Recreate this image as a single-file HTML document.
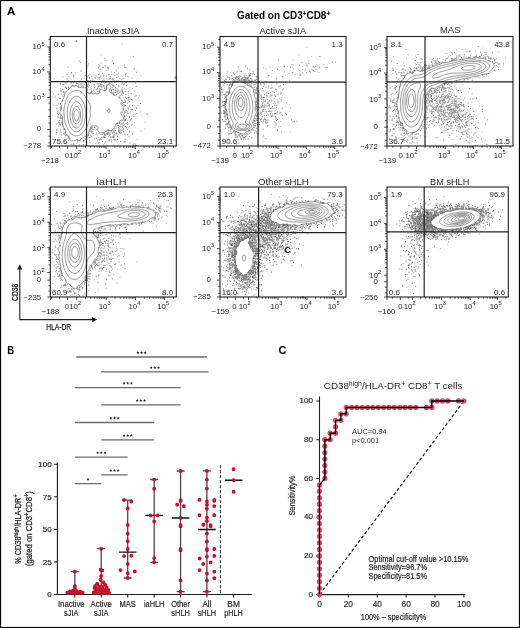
<!DOCTYPE html><html><head><meta charset="utf-8"><style>html,body{margin:0;padding:0;background:#fff}svg{display:block;will-change:transform}text{font-family:"Liberation Sans",sans-serif}</style></head><body>
<svg width="520" height="628" viewBox="0 0 520 628">
<rect x="0" y="0" width="520" height="628" fill="#fff"/>
<text x="6.9" y="14.7" font-size="11.2" font-weight="bold" textLength="8.3" lengthAdjust="spacingAndGlyphs" fill="#000">A</text>
<text x="236.9" y="19.2" font-size="10" font-weight="bold" fill="#000" textLength="93.3" lengthAdjust="spacingAndGlyphs">Gated on CD3<tspan dy="-3.6" font-size="6.5">+</tspan><tspan dy="3.6">CD8</tspan><tspan dy="-3.6" font-size="6.5">+</tspan></text>
<path d="M102.04 134.13h.9M83.02 141.04h.9M110.19 82.99h.9M98.51 132.94h.9M106.2 76.11h.9M73.46 143.73h.9M127.71 91.76h.9M66.53 79.19h.9M102.5 67.63h.9M72.4 85.53h.9M112.25 81.35h.9M111.15 131.19h.9M115.88 133.02h.9M104.1 137.57h.9M87.99 84.17h.9M135.08 110.34h.9M122.96 122.9h.9M61.68 118.57h.9M80.4 83.71h.9M60.75 91.09h.9M115.81 70.77h.9M140 103.56h.9M101.49 86.96h.9M76.47 83.53h.9M89.14 77.87h.9M59.34 120.47h.9M119.41 78.44h.9M107.63 130.33h.9M103.81 136.95h.9M110.77 90.07h.9M115.03 130.55h.9M124.99 101.23h.9M117.03 136.45h.9M98.34 85.04h.9M132.19 134.04h.9M92.22 133.8h.9M59.25 122.41h.9M60.04 83.79h.9M59.56 124.36h.9M101.36 137.22h.9M100.61 84.89h.9M54.71 97.16h.9M60.34 130.17h.9M115.19 87.61h.9M108.85 140.73h.9M119 122.99h.9M91.22 91.55h.9M124.07 116.01h.9M110.68 91.89h.9M63.33 131.13h.9M128.98 116.72h.9M125.4 94.57h.9M109.08 83.34h.9M66.09 88.42h.9M91.33 132.04h.9M111.05 81.61h.9M96.36 129.42h.9M136.31 108.51h.9M107.07 133.15h.9M127.88 109.78h.9M100.67 134.17h.9M113.8 75.18h.9M90.96 88.86h.9M124.51 111.16h.9M113.83 132.54h.9M108.84 82.25h.9M107.75 132.68h.9M59.96 98.52h.9M98.68 83.83h.9M128.52 97.56h.9M106.82 134.46h.9M127.36 113.45h.9M75.35 72.8h.9M78.26 85.3h.9M61.28 117.98h.9M133.38 116.41h.9M131.87 88.67h.9M60.09 108.79h.9M104.12 134.37h.9M118.36 130.05h.9M104.49 133.24h.9M111.11 90.32h.9M108.65 130.84h.9M123.81 65.13h.9M90.87 92.69h.9M94.32 138.81h.9M117.03 91.88h.9M110.76 139.93h.9M110.6 130.88h.9M114.4 82.47h.9M60.57 115.32h.9M120.3 141.47h.9M129.81 109.82h.9M135.72 86.4h.9M126.9 111.9h.9M78.47 140.56h.9M67.79 87.47h.9M55.89 130.11h.9M71.12 72.58h.9M82.95 144.62h.9M109.85 76.63h.9M81.48 86.41h.9M122.17 90.1h.9M62.34 89.3h.9M106.42 133.72h.9M122.22 123.94h.9M129.03 131.89h.9M84.64 82.69h.9M133.88 68.89h.9M100.15 83.9h.9M90.56 130.65h.9M63.44 92.63h.9M86.21 139.23h.9M103.54 80.97h.9M102.26 81.54h.9M132.27 133.08h.9M87.07 86.13h.9M113.75 140.85h.9M103.54 79.24h.9M68.37 140.58h.9M97.66 66.29h.9M122.4 103.7h.9M117.34 91.9h.9M130.23 120.19h.9M90.06 82.6h.9M103.38 86.05h.9M90.08 92.78h.9M65.69 87.38h.9M66.59 74.23h.9M91.04 76.91h.9M111.25 141.73h.9M98.97 77.99h.9M90.41 135.35h.9M112.76 84.05h.9M93.5 75.02h.9M104.47 88.17h.9M57.96 94.1h.9M65.59 83.93h.9M86.37 68.45h.9M90.93 90.78h.9M111.51 79.95h.9M61.03 122.39h.9M117.04 139.52h.9M112.31 93.07h.9M126.4 98.59h.9M105.3 82.41h.9M144.68 129.08h.9M125.29 97.18h.9M125.53 110.55h.9M64.72 87.66h.9M86.24 86.05h.9M56.83 113.18h.9M72.99 75.49h.9M123.14 92.86h.9M68.42 88.89h.9M63.44 94.84h.9M124.37 112.24h.9M99.46 86.41h.9M72.99 82.91h.9M130.48 119.33h.9M123.44 102.58h.9M128.1 108.03h.9M90.84 127.56h.9M124.98 73.97h.9M103.28 85.28h.9M103.85 90.55h.9M123.87 116.57h.9M97.53 86.86h.9M115.82 80.8h.9M127.49 100.03h.9M109.9 137.02h.9M60.75 134.83h.9M85.98 80.74h.9M59.05 123.86h.9M124.39 116.47h.9M126.85 122.46h.9M61.89 121.16h.9M126.17 123.36h.9M93.04 133.33h.9M97.6 77.81h.9M61.47 118.46h.9M110.55 89.88h.9M88.82 137.36h.9M103.18 75.34h.9M121.39 123.95h.9M87.93 87.11h.9M63.42 91.46h.9M115.07 140.04h.9M85.19 75.58h.9M118.49 131.78h.9M113.56 128.9h.9M94.37 127.65h.9M123.3 84.56h.9M120.29 133.42h.9M146.44 113.55h.9M118.92 132.28h.9M107.77 84.5h.9M89.34 74.79h.9M102.99 137.01h.9M131.3 99.5h.9M94.13 84.81h.9M113.02 89.35h.9M126.95 134.73h.9M62.94 133.28h.9M105.23 135.76h.9M129.28 117.43h.9M112.01 85.3h.9M81.62 85.79h.9M121.51 89.32h.9M132.81 56.36h.9M73.26 144.52h.9M98.44 74.49h.9M124.93 126.52h.9M83.27 86.48h.9M97.1 91.44h.9M89.79 80.36h.9M109.57 78.46h.9M88.28 135.61h.9M62.55 126.41h.9M114.94 90.3h.9M109.36 140.01h.9M125.5 112.38h.9M106.27 133.94h.9M90.2 129.03h.9M91.48 126.85h.9M74.91 81.55h.9M64.04 128.52h.9M104.13 135.54h.9M118.36 86.04h.9M104.55 65.77h.9M122.85 125.4h.9M117.72 80.98h.9M78.74 61.15h.9M124.69 139.26h.9M92.51 81.06h.9M113.54 90.81h.9M59.84 90.19h.9M58.44 114.57h.9M112.99 94.17h.9M124.3 88.85h.9M70.78 82.77h.9M136.22 72.35h.9M56.54 129.27h.9M109.52 78.26h.9M103.52 133.29h.9M104.02 88.15h.9M129.53 142.96h.9M118.78 122.97h.9M60.26 117.25h.9M124.65 91.65h.9M88.03 134.96h.9M83.71 84.46h.9M113.52 85.93h.9M114.47 129.13h.9M112.96 137.77h.9M84.97 82.68h.9M112.81 79.27h.9M59.94 124.76h.9M80.65 84.19h.9M98.17 67.81h.9M128.08 97.96h.9M64.72 82.88h.9M98.65 139.42h.9M121.9 82.85h.9M85.21 82.24h.9M95.97 138.14h.9M118.33 130.97h.9M120.66 132.57h.9M113.06 63.62h.9M106.19 86.53h.9M112.17 78.86h.9M59.68 107.31h.9M59.93 103.69h.9M126.05 127.84h.9M114.15 72.61h.9M102.22 73.6h.9M135.53 95.63h.9M125.09 105.33h.9M67.66 138.68h.9M125.95 85.77h.9M101.96 80.2h.9M71.55 84.99h.9M84.99 139.23h.9M99.9 138.98h.9M129.47 99.64h.9M124.59 102.29h.9M115.11 92.41h.9M114.66 130.4h.9M58.28 122.18h.9M128.66 136.77h.9M132.91 114.95h.9M94.05 87.65h.9M86.72 136.9h.9M67.81 137.24h.9M97.99 86.37h.9M113.22 81.07h.9M132.04 109.55h.9M131.91 105.56h.9M60.45 123.17h.9M111.17 92.09h.9M102.02 141.43h.9M96.98 83.71h.9M78.51 86.6h.9M117.33 90.07h.9M57.25 111.79h.9M116.81 123.47h.9M114.68 92.37h.9M103.88 81.09h.9M127.16 124.31h.9M83.29 140.56h.9M101.18 82.34h.9M56.32 132.57h.9M95.81 89.61h.9M63.28 84.26h.9M128.95 101.73h.9M106.49 78.91h.9M100.38 76.28h.9M90.29 129.26h.9M86.78 80.56h.9M119.28 132.38h.9M81.1 79.02h.9M80.24 140.93h.9M108.25 130.19h.9M57.51 116.42h.9M123.56 121.03h.9M124.41 134.59h.9M123.95 141.95h.9M76.18 83.03h.9M56.49 108.84h.9M87.83 75.75h.9M98.65 142.5h.9M108.13 74.64h.9M67.59 66.96h.9M106.42 87.75h.9M64.9 135.7h.9M113.57 139.29h.9M112.14 87.86h.9M119.81 124.9h.9M113.42 86.09h.9M95.52 76.08h.9M127.67 97.5h.9M63.59 134.67h.9M125.18 74.66h.9M129.1 131.2h.9M115.59 133.84h.9M116.13 84.7h.9M87.5 80.43h.9M62.58 96.52h.9M100.83 85.94h.9M97.08 88.65h.9M119.39 122.64h.9M129.4 120.93h.9M91.3 128.43h.9M83.44 140.36h.9M123.73 132.98h.9M77.2 141.96h.9M59.87 117.92h.9M87.25 86.3h.9M61.2 101.42h.9M116.3 77.61h.9M93.87 127.56h.9M131.68 124.37h.9M100.14 84.51h.9M136.36 113.45h.9M117.74 125.5h.9M77.47 139.81h.9M59.02 98.42h.9M105.12 82.63h.9M62.13 124.57h.9M119.32 130.8h.9M113.95 94.97h.9M125.07 141.82h.9M62.26 84.29h.9M63.93 129.39h.9M68.18 80.9h.9" stroke="#6a6a6a" stroke-width=".9" fill="none"/>
<path d="M124.53 120.65h.9M97.36 84.75h.9M103.55 136.2h.9M82.81 144.88h.9M113.12 73.93h.9M81.76 84.93h.9M124.01 100.06h.9M110.55 137.39h.9M89.68 131.05h.9M92.02 129.27h.9M131.07 109.95h.9M116.58 133.47h.9M71.11 81.63h.9M134.73 114.04h.9M62.86 129.1h.9M113.41 94.31h.9M101.91 73.14h.9M99.22 90.08h.9M89.01 140.28h.9M144.71 122.09h.9M99.29 85.42h.9M66.08 135.66h.9M90.99 131.52h.9M113.24 93.42h.9M113.01 131.34h.9M121.91 112.5h.9M87.96 83.13h.9M105 60.75h.9M112.12 60.64h.9M74.27 81.09h.9M53.1 93.84h.9M116.67 88.67h.9M123.03 131.57h.9M127.61 119.85h.9M64.59 132.56h.9M103.65 86.05h.9M97.42 90.96h.9M114.35 80.83h.9M105.29 142.03h.9M64.71 132.23h.9M126.98 103.44h.9M62.07 117.9h.9M89.04 131.78h.9M71.27 144.44h.9M117.81 67.7h.9M89.87 81.66h.9M98.98 73h.9M122.79 102.12h.9M108.26 83.88h.9M123.41 115.52h.9M95.4 78.12h.9M60.82 132.08h.9M100.41 54.84h.9M91.69 131.61h.9M125.59 115.37h.9M130.99 118.37h.9M123.21 109.11h.9M113.27 92.2h.9M104.88 134.42h.9M79.74 80.39h.9M124.28 119.39h.9M125.34 123.99h.9M60.56 131.68h.9M93.21 92.47h.9M60.51 116.41h.9M122.7 81.8h.9M115.53 95.21h.9M97.79 137.62h.9M131.25 125.35h.9M68.02 87.23h.9M121.67 124.11h.9M122.5 126.73h.9M56.41 108.07h.9M81.71 83.62h.9M133.79 91.02h.9M140.44 111.98h.9M123.34 78.17h.9M98.25 64.57h.9M103.39 134.03h.9M102.99 132.29h.9M66.83 135.26h.9M128.02 127.92h.9M95.64 134.4h.9M119.27 131.24h.9M111.88 84.86h.9M105.12 137.36h.9M55.65 134.77h.9M68.52 136.15h.9M128.69 126.7h.9M135.25 99.78h.9M61.8 122.57h.9M83.12 85.93h.9M97.29 140.27h.9M96.38 132.87h.9M108.49 79.54h.9M104.86 89.68h.9M112.59 85.7h.9M111.85 133.11h.9M103.97 83.13h.9M112.5 137.07h.9M60.19 106.63h.9M96.49 129.86h.9M92.74 131.1h.9M112.2 89.49h.9M97.09 93.02h.9M69.11 138.37h.9M62.06 123.1h.9M118.14 76.04h.9M123.64 141.59h.9M107.39 142.16h.9M52.7 105.06h.9M60.93 108.75h.9M115.02 90.03h.9M114.38 135.23h.9M108.11 136.41h.9M137.68 105.71h.9M95.25 125.96h.9M111.9 78.78h.9M74.68 85.71h.9M72.83 76.88h.9M88.06 92.83h.9M127.15 129.2h.9M121.76 103.67h.9M61.11 94.91h.9M58.07 126.1h.9M90.3 92.75h.9M83.61 78.14h.9M106.5 82.98h.9M62.5 100.77h.9M116.44 128.23h.9M90.9 131.09h.9M101.81 134.46h.9M120.25 130.76h.9M124.2 67.39h.9M97.37 89.35h.9M124.57 126.47h.9M119.46 90.63h.9M81.94 140h.9M99.02 88.54h.9M136.64 139.52h.9M105.92 85.9h.9M67.16 135.88h.9M97.24 134.98h.9M105.81 70.31h.9M128.78 106.44h.9M125.46 67.53h.9M117.85 86.04h.9M118.18 73.13h.9M69.76 144.64h.9M84.31 76.26h.9M90.86 92.39h.9M124.94 76.11h.9M147.5 114.75h.9M90.95 86.33h.9M112.48 132.45h.9M125.4 118.74h.9M57.28 110.24h.9M131.03 109.1h.9M101.38 87.11h.9M95.09 77.36h.9M140.51 75.46h.9M87.01 84.04h.9M132.02 100.24h.9M99.76 69.34h.9M122.16 95.23h.9M130.85 93.48h.9M104.08 143.25h.9M101.99 81.01h.9M80.1 62.6h.9M108.62 139.81h.9M113.3 135.67h.9M89.66 142.54h.9M93.84 81.26h.9M93.98 86.84h.9M96.47 89.12h.9M87.54 65.88h.9M84.36 84.18h.9M123.91 113.21h.9M106.97 134.34h.9M91.16 132.83h.9M68.31 76.28h.9M92.39 79.96h.9M93.04 90.2h.9M86.15 79.33h.9M129.07 105.39h.9M98.82 79.45h.9M123.97 120.64h.9M84.69 138.33h.9M120.89 122.2h.9M65.21 91.74h.9M103.23 76.34h.9M134.56 96.23h.9M108.41 81.67h.9M105.82 88.33h.9M74.71 84.73h.9M76.97 140.51h.9M91.48 136.81h.9M128.2 95.64h.9M127.63 76.56h.9M105.22 88.05h.9M121.2 43.86h.9M89.76 131.41h.9M113.96 139.41h.9M122.71 93.27h.9M113.41 131.53h.9M70.56 87.17h.9M116.27 90.96h.9M101.2 81.89h.9M86.37 137.53h.9M60.84 117.44h.9M113.89 136.72h.9M59.45 132.7h.9M93.44 84.45h.9M70.14 140.72h.9M101.08 139.95h.9M120.81 79.67h.9M123.07 114.21h.9M69.37 77.92h.9M92.78 129.12h.9M64.32 93.21h.9M59.81 110.12h.9M123.74 116.13h.9M95.44 143.31h.9M87.05 77.05h.9M118.56 128.96h.9M109.28 135.92h.9M58.24 117.6h.9M99.87 89.23h.9M90.88 92.1h.9M103.86 58.47h.9M122.1 78.88h.9M112.23 130.23h.9M128.17 100.27h.9M125.49 82.12h.9M98.53 134.01h.9M88.52 137.27h.9M102.46 137.33h.9M117.06 136.18h.9M127.87 123.8h.9M110.53 136.43h.9M56.66 123.35h.9M104.64 141.93h.9M61.11 122.69h.9M125.35 110.62h.9M138.3 98.85h.9M131.26 78.02h.9M88.79 85.49h.9M114.37 130.58h.9M106.97 133.79h.9M135.13 83.22h.9M99.65 71.23h.9M94.84 92.96h.9M77.52 83.56h.9M124.16 83.84h.9M90.21 137.02h.9M118.43 123.62h.9M113.72 134.57h.9M128.98 87.96h.9M58.31 103.81h.9M105.95 144.46h.9M97.68 91.24h.9M87 80.93h.9M106.52 84.51h.9M87.88 81.15h.9M115.44 135.51h.9M126.08 73.63h.9M114.7 86.04h.9M134.17 122.26h.9M89.7 89.31h.9M79.66 84.29h.9M114.44 133.69h.9M121.98 105.2h.9M127.74 102.62h.9M106.99 132.54h.9M56.63 105.43h.9M100.69 138.7h.9M129.41 105.69h.9M121.34 114.32h.9M90.96 136.73h.9M138.97 95.92h.9M64.14 133.8h.9M113.17 144.97h.9M101.72 87.8h.9M99.26 65.95h.9M56.15 133.31h.9M101.47 84.29h.9M79.11 144.61h.9M124.66 119.98h.9M98.51 87.03h.9M108.57 131.62h.9M95.46 90.18h.9M140.87 130.87h.9M106.01 131.51h.9M122.32 87.74h.9M66.45 78.85h.9M90.34 80.48h.9M58.42 120.94h.9M93.68 88.82h.9M53.73 78.85h.9M60.4 106.09h.9M116.59 74.55h.9M93.64 129.68h.9M140.81 115.14h.9M98.01 143.75h.9M125.92 118.7h.9M110.71 84.48h.9M61.74 96.24h.9M113.23 92.36h.9M65.15 86.89h.9M118.39 86.34h.9M62.44 77.01h.9M110.33 132.95h.9M88.09 63.9h.9M82.99 82.04h.9M127.26 108.04h.9M60.84 93.41h.9M91.33 127.41h.9M100.73 139.49h.9M87.82 84.67h.9M118.31 80.29h.9M102.91 144.7h.9M132.12 105.65h.9M137.93 97.58h.9M68.3 136.75h.9M62.72 128.24h.9M110.66 89.43h.9M78.04 86.78h.9M100.6 62.84h.9M62.8 81.17h.9M62.2 123.97h.9M119.15 97.6h.9M115.85 141.17h.9M64.41 141.39h.9M55.8 124.6h.9M60.04 118.3h.9M109.31 74.48h.9M87.17 80.52h.9M88.6 133.09h.9M71.29 73.66h.9M73.55 76.04h.9M61.14 137.77h.9M115.67 126.19h.9M120.5 132.16h.9M94.72 78.32h.9M119.32 133.44h.9M99.06 139.9h.9M99.67 138.42h.9M68.39 137.59h.9M128.23 93.72h.9M126.1 82.49h.9M94.48 77.31h.9M123.94 124.64h.9M115.57 91.99h.9M99.53 92.67h.9M117.95 90.81h.9M116.05 133.36h.9M112.79 133.04h.9M112.86 130.24h.9M123.75 118.1h.9M135.64 107.89h.9M114.52 88.79h.9M85.69 55.91h.9M110.99 71.88h.9M124.58 102.62h.9M99.71 69.35h.9M75.81 143.18h.9M124.3 117.48h.9M130.05 111.69h.9M110.89 74.31h.9M107.13 80.2h.9M105.3 90.11h.9M60.07 88.84h.9M99.33 77.25h.9M91.88 127.7h.9M119.86 120.79h.9" stroke="#9a9a9a" stroke-width=".9" fill="none"/>
<path d="M76.8 41.66 76.18 41.5 76.3 40.67 76.86 41 76.8 41.66ZM108.8 68.51 108.02 68.5 107.3 68.02 107.25 67.5 107.8 67.23 108.8 67.45 109.22 68 108.8 68.51ZM81.3 71.19 80.75 71 81.3 70.86 81.3 71.19ZM176.3 78.4 175.3 78.3 174.65 78 174.8 77.05 175.3 76.85 176.3 76.68ZM79.8 140.53 78.8 140.55 78.34 140 77.84 139.5 77.3 139.32 76.45 139.5 75.88 140 75.32 140.5 74.8 140.74 73.8 140.84 72.8 140.75 71.8 140.71 70.8 140.61 70.3 140.37 69.8 139.75 69.57 139 69.36 138 69.25 137.5 68.92 136.5 68.6 136 68.07 135.5 67.3 135.08 66.8 134.95 65.8 134.61 65.34 134 65.25 133.5 65.32 133 65.7 132 65.81 131.5 65.78 131 65.33 130 64.97 129.5 64.61 129 64.27 128.5 63.8 127.7 63.4 127 63.11 126.5 62.8 125.86 62.62 125 62.68 124 62.68 123 62.51 122 62.31 121 62.27 120.5 62.31 120 62.55 119 62.74 118 62.69 117 62.33 116 61.87 115.5 61.3 115.15 60.8 114.92 60.05 114.5 59.68 114 59.63 113 59.8 112.42 60.19 111.5 60.41 111 60.79 110 60.97 109.5 61.3 108.56 61.46 108 61.61 107 61.52 106 61.3 105.43 60.8 104.69 60.43 104 60.69 103 61.23 102.5 61.75 102 62.12 101.5 62.4 101 62.8 100.13 63.05 99.5 63.3 98.91 63.73 98 63.98 97.5 64.3 96.77 64.55 96 64.73 95 64.81 94.5 65.11 93.5 65.41 93 65.83 92.5 66.3 91.94 66.8 91.23 67.3 90.53 67.75 90 68.21 89.5 68.72 89 69.28 88.5 69.8 88.05 70.3 87.58 70.8 87.05 71.3 86.56 71.8 86.31 72.8 86.27 73.8 86.16 74.31 86 75.3 85.61 75.8 85.5 76.3 85.58 76.8 86.04 77.3 86.62 77.8 87.06 78.8 87.41 79.8 87.43 80.8 87.48 81.3 87.55 82.3 87.68 83.3 87.76 84.3 87.77 85.3 87.56 85.8 87.44 86.31 87.5 86.84 88 87.07 89 86.9 90 86.89 91 87.26 92 87.55 92.5 87.9 93 88.55 93.5 89.3 93.63 89.91 93.5 90.8 93.26 91.8 93.24 92.63 93.5 93.3 93.85 94.3 93.84 94.8 93.42 95.8 93.2 96.3 93.78 96.8 94.12 97.8 94.11 98.3 93.92 99.16 93.5 99.67 93 99.44 92 99.41 91 99.8 90.14 100.3 89.72 101.3 89.58 102.3 89.86 102.8 90.14 103.31 90.5 104.3 90.99 105.3 90.72 105.8 90.38 106.3 89.84 106.63 89 106.58 88 106.52 87 106.73 86 107.09 85.5 107.8 85.09 108.3 84.97 109.3 84.99 109.8 85.15 110.32 85.5 110.8 86.4 110.95 87 110.85 88 110.53 88.5 110.06 89 109.66 89.5 109.42 90.5 109.76 91.5 110.08 92 110.5 92.5 111.05 93 111.7 93.5 112.3 93.97 112.8 94.39 113.3 94.78 113.8 95.07 114.8 95.21 115.56 95 116.3 94.53 116.8 94.1 117.3 93.8 117.89 93.5 118.74 93 119.3 92.54 119.8 92.06 120.3 91.58 120.8 91.16 121.3 90.85 122.3 90.85 122.56 91.5 122.5 92.5 122.3 93.22 121.99 94 121.76 94.5 121.3 95.16 120.8 95.64 119.99 96 119.3 96.06 118.72 96.5 118.87 97 119.3 97.62 119.8 98.21 120.3 98.77 120.8 99.26 121.3 99.7 121.8 100.15 122.23 101 121.8 101.94 121.38 102.5 121.06 103 120.95 104 121.3 104.74 121.8 105.22 122.77 105.5 122.81 105.5 123.71 105 124.3 104.63 125.15 105 124.8 105.93 124.3 106.23 123.65 106.5 123.14 107 122.99 108 123.27 109 123.08 110 122.8 110.52 122.3 111.23 121.8 111.81 121.3 112.37 120.97 113 120.94 114 121.3 114.82 121.8 115.29 122.3 115.66 122.8 116.18 123.14 117 123.28 118 123.33 118.5 123.39 119.5 123.22 120 122.3 120.43 121.3 120.26 120.3 120.34 119.8 120.94 119.39 121.5 118.89 122 118.3 122.43 117.8 122.69 117.14 123 116.58 123.5 116.23 124 115.8 124.78 115.4 125.5 115.1 126 114.79 126.5 114.3 127.3 113.93 128 113.68 128.5 113.3 129.05 112.8 129.55 112.18 130 111.31 130.5 110.8 130.71 109.8 130.57 109.3 130.18 108.8 129.87 107.8 129.89 107.3 130.12 106.72 130.5 106.14 131 105.64 131.5 105.12 132 104.39 132.5 103.8 132.6 102.91 132.5 102.5 132.5 101.8 132.55 100.8 132.62 99.8 132.51 99.3 132.32 98.8 131.99 98.3 131.46 97.8 130.59 97.63 130 97.71 129 97.89 128.5 98.25 127.5 97.82 126.5 97.3 126.21 96.8 125.99 95.8 125.85 94.83 126 94.3 126.08 93.3 126.03 92.8 125.93 91.8 125.93 91.3 126.2 90.8 126.82 90.47 127.5 90.24 128 89.8 128.97 89.56 129.5 89.3 130.2 89.03 131 88.8 131.72 88.57 132.5 88.31 133.5 88.15 134 87.8 134.87 87.42 135.5 86.8 135.99 86.3 136.09 85.3 136.44 84.8 136.73 84.3 137.1 83.73 137.5 82.8 137.92 82.3 138.11 81.59 138.5 80.96 139 80.52 139.5 80.19 140 79.8 140.53ZM125.8 120.47 124.98 120 125.75 119.5 125.84 119.5 125.8 120.47ZM122.3 130.04 121.3 130.1 120.8 129.79 120.3 129.44 119.59 129 118.83 128.5 118.42 128 118.72 127 119.3 126.57 119.8 126.5 120.3 126.61 121.3 126.98 121.8 127.17 122.77 127.5 123.3 127.94 123.6 128.5 123.44 129.5 122.8 129.86 122.3 130.04ZM109.8 135.07 108.93 135 108.3 134.65 107.92 134 108.3 133.33 109.3 133.07 109.82 133.5 110.11 134.5 109.8 135.07ZM113.8 137.78 113.01 137.5 112.61 137 112.8 136.21 113.42 136.5 113.8 137 113.8 137.78ZM133.2 146 133.1 145 133.24 144 133.8 143.79 134.8 143.99 135.3 144.21 135.86 144.5 136.46 145 136.83 145.5ZM78.3 135.63 77.3 135.82 76.3 135.87 75.3 135.8 74.3 135.57 73.8 135.41 72.91 135 72.3 134.65 71.8 134.32 71.3 133.94 70.77 133.5 70.26 133 69.8 132.46 69.3 131.78 68.81 131 68.51 130.5 68.22 130 67.8 129.27 67.38 128.5 67.11 128 66.8 127.35 66.42 126.5 66.22 126 65.84 125 65.64 124.5 65.3 123.55 65.13 123 64.87 122 64.77 121.5 64.65 120.5 64.57 119.5 64.51 118.5 64.44 117.5 64.36 116.5 64.3 115.94 64.18 115 64.03 114 63.9 113 63.83 112 63.82 111 63.88 110 64.02 109 64.19 108 64.3 107.35 64.44 106.5 64.62 105.5 64.8 104.62 64.95 104 65.24 103 65.39 102.5 65.66 101.5 65.81 101 66.11 100 66.3 99.45 66.7 98.5 66.93 98 67.3 97.22 67.64 96.5 67.88 96 68.3 95.26 68.8 94.57 69.28 94 69.74 93.5 70.23 93 70.77 92.5 71.3 92.07 71.8 91.74 72.3 91.47 73.3 91.07 73.8 90.91 74.8 90.65 75.75 90.5 76.3 90.47 77.19 90.5 77.8 90.57 78.8 90.79 79.44 91 80.3 91.36 80.8 91.61 81.47 92 82.1 92.5 82.59 93 83.02 93.5 83.43 94 83.83 94.5 84.3 95.1 84.8 95.8 85.24 96.5 85.54 97 85.83 97.5 86.3 98.25 86.8 98.92 87.28 99.5 87.66 100 87.97 100.5 88.3 101.16 88.72 102 89.03 102.5 89.39 103 89.8 103.63 90.16 104.5 90.3 105.18 90.43 106 90.54 107 90.5 108 90.37 109 90.3 109.84 90.27 110.5 90.27 111.5 90.28 112.5 90.3 113.13 90.31 114 90.29 114.5 90.19 115.5 90.02 116.5 89.8 117.46 89.68 118 89.43 119 89.3 119.5 89.06 120.5 88.8 121.42 88.62 122 88.3 122.92 88.1 123.5 87.8 124.32 87.55 125 87.3 125.68 86.99 126.5 86.78 127 86.31 128 86.04 128.5 85.75 129 85.3 129.69 84.8 130.4 84.34 131 83.93 131.5 83.49 132 83.02 132.5 82.51 133 81.96 133.5 81.37 134 80.8 134.44 80.3 134.78 79.8 135.06 78.8 135.48 78.3 135.63ZM109.3 112.11 108.3 112.27 107.76 112 107.3 111.3 107.3 110.74 107.65 110 108.19 109.5 108.8 109.22 109.8 109.34 110.08 110 109.93 111 109.74 111.5 109.3 112.11ZM77.8 131.7 76.8 131.9 75.8 131.88 74.8 131.61 74.3 131.38 73.67 131 73.02 130.5 72.49 130 72.03 129.5 71.62 129 71.26 128.5 70.8 127.79 70.35 127 70.08 126.5 69.8 125.9 69.41 125 69.21 124.5 68.86 123.5 68.69 123 68.4 122 68.27 121.5 68.03 120.5 67.84 119.5 67.75 119 67.59 118 67.47 117 67.39 116 67.33 115 67.3 114 67.3 113.5 67.3 113 67.33 112 67.39 111 67.48 110 67.6 109 67.77 108 67.86 107.5 68.07 106.5 68.3 105.64 68.48 105 68.8 104.02 68.99 103.5 69.3 102.73 69.62 102 69.88 101.5 70.3 100.73 70.76 100 71.11 99.5 71.51 99 71.95 98.5 72.46 98 73.07 97.5 73.8 97.02 74.3 96.77 75.09 96.5 75.8 96.35 76.8 96.34 77.63 96.5 78.3 96.72 78.87 97 79.66 97.5 80.28 98 80.8 98.5 81.25 99 81.65 99.5 82.01 100 82.34 100.5 82.8 101.28 83.18 102 83.42 102.5 83.8 103.4 84.04 104 84.3 104.77 84.53 105.5 84.8 106.5 84.92 107 85.13 108 85.29 109 85.37 109.5 85.49 110.5 85.57 111.5 85.62 112.5 85.63 113.5 85.61 114.5 85.56 115.5 85.48 116.5 85.37 117.5 85.29 118 85.15 119 84.95 120 84.8 120.65 84.6 121.5 84.32 122.5 84.17 123 83.82 124 83.64 124.5 83.3 125.33 83.01 126 82.76 126.5 82.3 127.35 81.92 128 81.59 128.5 81.22 129 80.8 129.51 80.3 130.06 79.8 130.52 79.17 131 78.3 131.5 77.8 131.7ZM77.8 127.65 76.8 127.94 75.8 127.89 74.84 127.5 74.3 127.14 73.8 126.7 73.3 126.14 72.84 125.5 72.52 125 72.25 124.5 71.8 123.55 71.57 123 71.3 122.21 71.07 121.5 70.82 120.5 70.7 120 70.51 119 70.37 118 70.3 117.27 70.23 116.5 70.18 115.5 70.17 114.5 70.2 113.5 70.27 112.5 70.31 112 70.43 111 70.59 110 70.8 109.07 70.94 108.5 71.23 107.5 71.4 107 71.8 106.02 72.04 105.5 72.3 105 72.8 104.19 73.3 103.53 73.8 103 74.3 102.57 74.8 102.24 75.34 102 76.3 101.8 77.3 101.92 77.8 102.11 78.46 102.5 79.07 103 79.54 103.5 79.93 104 80.3 104.55 80.8 105.44 81.07 106 81.3 106.56 81.64 107.5 81.8 108.02 82.07 109 82.28 110 82.37 110.5 82.53 111.5 82.63 112.5 82.69 113.5 82.72 114.5 82.71 115.5 82.67 116.5 82.59 117.5 82.46 118.5 82.3 119.45 82.2 120 81.97 121 81.8 121.59 81.52 122.5 81.3 123.08 80.91 124 80.67 124.5 80.3 125.15 79.8 125.9 79.3 126.5 78.8 126.99 78.3 127.37 77.8 127.65ZM77.3 123.77 76.3 123.94 75.3 123.58 74.8 123.18 74.3 122.61 73.9 122 73.63 121.5 73.3 120.73 73.04 120 72.8 119.09 72.67 118.5 72.51 117.5 72.41 116.5 72.36 115.5 72.37 114.5 72.43 113.5 72.55 112.5 72.74 111.5 72.86 111 73.16 110 73.34 109.5 73.8 108.53 74.13 108 74.51 107.5 75.04 107 75.8 106.55 76.3 106.45 76.91 106.5 77.8 106.91 78.3 107.35 78.8 107.98 79.12 108.5 79.38 109 79.78 110 79.94 110.5 80.2 111.5 80.3 112 80.46 113 80.55 114 80.59 115 80.57 116 80.5 117 80.36 118 80.28 118.5 80.05 119.5 79.8 120.32 79.54 121 79.3 121.54 78.8 122.41 78.33 123 77.8 123.48 77.3 123.77ZM77.3 120.53 76.3 120.8 75.65 120.5 75.15 120 74.8 119.48 74.39 118.5 74.24 118 74.03 117 73.93 116 73.91 115 73.98 114 74.14 113 74.3 112.34 74.61 111.5 74.86 111 75.3 110.38 75.8 109.96 76.8 109.81 77.3 110.05 77.8 110.54 78.3 111.38 78.54 112 78.8 112.88 78.92 113.5 79.03 114.5 79.05 115.5 78.99 116.5 78.84 117.5 78.72 118 78.39 119 78.14 119.5 77.8 120.04 77.3 120.53Z" stroke="#6a6a6a" stroke-width="0.7" fill="none" stroke-linejoin="round"/>
<rect x="50.3" y="36.5" width="126" height="109.5" fill="none" stroke="#231f20" stroke-width="1.1"/>
<line x1="86.5" y1="36.5" x2="86.5" y2="146" stroke="#231f20" stroke-width="1.2"/>
<line x1="50.3" y1="81.7" x2="176.3" y2="81.7" stroke="#231f20" stroke-width="1.2"/>
<path d="M50.3 97.5h-3.0M50.3 89.9h-1.8M50.3 85.45h-1.8M50.3 82.3h-1.8M50.3 79.85h-1.8M50.3 77.85h-1.8M50.3 76.16h-1.8M50.3 74.7h-1.8M50.3 73.41h-1.8M50.3 72h-3.0M50.3 64.4h-1.8M50.3 59.95h-1.8M50.3 56.8h-1.8M50.3 54.35h-1.8M50.3 52.35h-1.8M50.3 50.66h-1.8M50.3 49.2h-1.8M50.3 47.91h-1.8M50.3 47h-3.0M50.3 39.4h-1.8M50.3 129.6h-3.0M50.3 136.2h-1.8M50.3 142.8h-1.8M50.3 123h-1.8M50.3 116.4h-1.8M50.3 109.8h-1.8M50.3 103.2h-1.8M50.3 146h-3.0M76.7 146v3.0M85.52 146v1.8M90.68 146v1.8M94.34 146v1.8M97.18 146v1.8M99.5 146v1.8M101.46 146v1.8M103.16 146v1.8M104.66 146v1.8M106 146v3.0M114.82 146v1.8M119.98 146v1.8M123.64 146v1.8M126.48 146v1.8M128.8 146v1.8M130.76 146v1.8M132.46 146v1.8M133.96 146v1.8M135.3 146v3.0M144.12 146v1.8M149.28 146v1.8M152.94 146v1.8M155.78 146v1.8M158.1 146v1.8M160.06 146v1.8M161.76 146v1.8M163.26 146v1.8M164.6 146v3.0M173.42 146v1.8M67.5 146v3.0M59.5 146v1.8M51.5 146v1.8M50.3 146v3.0" stroke="#231f20" stroke-width=".8" fill="none"/>
<text x="41.1" y="49.21" font-size="7.8" text-anchor="end" fill="#231f20">10</text>
<text x="41.4" y="46.01" font-size="5.62" fill="#231f20">5</text>
<text x="41.1" y="73.71" font-size="7.8" text-anchor="end" fill="#231f20">10</text>
<text x="41.4" y="70.51" font-size="5.62" fill="#231f20">4</text>
<text x="41.1" y="99.81" font-size="7.8" text-anchor="end" fill="#231f20">10</text>
<text x="41.4" y="96.61" font-size="5.62" fill="#231f20">3</text>
<text x="41.1" y="131.21" font-size="7.8" text-anchor="end" fill="#231f20">0</text>
<text x="41.1" y="148.21" font-size="7.8" text-anchor="end" fill="#231f20">−278</text>
<text x="67" y="157.6" font-size="7.8" text-anchor="middle" fill="#231f20">0</text>
<text x="75.1" y="157.6" font-size="7.8" text-anchor="middle" fill="#231f20">10<tspan dy="-3.2" font-size="5.62">2</tspan></text>
<text x="104.4" y="157.6" font-size="7.8" text-anchor="middle" fill="#231f20">10<tspan dy="-3.2" font-size="5.62">3</tspan></text>
<text x="134" y="157.6" font-size="7.8" text-anchor="middle" fill="#231f20">10<tspan dy="-3.2" font-size="5.62">4</tspan></text>
<text x="163" y="157.6" font-size="7.8" text-anchor="middle" fill="#231f20">10<tspan dy="-3.2" font-size="5.62">5</tspan></text>
<text x="50.1" y="163.4" font-size="7.8" text-anchor="middle" fill="#231f20">−218</text>
<text x="54.1" y="46.9" font-size="7.9" fill="#231f20">0.6</text>
<text x="172.9" y="46.9" font-size="7.9" text-anchor="end" fill="#231f20">0.7</text>
<text x="52.1" y="144" font-size="7.9" fill="#231f20">75.6</text>
<text x="173.1" y="144" font-size="7.9" text-anchor="end" fill="#231f20">23.1</text>
<text x="87" y="33.7" font-size="9.6" textLength="52.5" lengthAdjust="spacingAndGlyphs" fill="#231f20">Inactive sJIA</text>
<path d="M265.14 101.3h.9M256.54 116.33h.9M270.89 95.41h.9M223.84 83.37h.9M226.72 95.9h.9M249.41 81.75h.9M238.16 139.77h.9M256.4 128.44h.9M266.27 93.81h.9M223.48 121.54h.9M225.43 97.35h.9M227.07 124.78h.9M226.65 114.7h.9M282.23 76.46h.9M223.93 101.4h.9M227.55 118.38h.9M234.13 81.24h.9M221.1 87.77h.9M241.82 135.67h.9M245.15 82.6h.9M250.28 78.3h.9M232.16 78.44h.9M267.54 119.88h.9M244.1 79.76h.9M261.8 111.7h.9M246.52 81.18h.9M262.61 129.13h.9M245.32 65.97h.9M246.85 78.64h.9M234.07 80.83h.9M276.14 120.42h.9M234.42 79.85h.9M227.75 92.04h.9M238.33 78.41h.9M229.68 125.53h.9M232.95 73.21h.9M257.32 100.87h.9M299.61 75.48h.9M238.58 135.31h.9M235.56 77.45h.9M265.4 122.53h.9M263.85 107.27h.9M283.95 66.71h.9M263.04 86.32h.9M258.12 126.82h.9M253.6 87.57h.9M235.69 137.15h.9M291.01 119.9h.9M242.5 77.56h.9M227.11 115.01h.9M244.66 75.08h.9M224.09 111.68h.9M270.25 113.87h.9M280.9 101.01h.9M229.12 85.29h.9M224.55 117.73h.9M239.3 134.79h.9M255.84 108.07h.9M275.13 113.66h.9M231.42 86.01h.9M240.63 138.7h.9M260.49 112.34h.9M228.99 91.76h.9M255.89 101.8h.9M235.82 76.53h.9M256.87 97.44h.9M241.02 71.59h.9M250.02 73.8h.9M223.98 113.03h.9M259.65 84.49h.9M283.33 66.23h.9M276.04 107.21h.9M262.33 88.59h.9M275.31 96.45h.9M282.28 89.92h.9M244.85 78.87h.9M260.82 96.15h.9M245.36 136.44h.9M225 101.71h.9M223.28 85.8h.9M256.15 79.32h.9M274.42 108.04h.9M224.98 93.99h.9M271.24 88.06h.9M293.79 121.42h.9M273.77 113.68h.9M245.31 83.01h.9M260.64 94.93h.9M260.14 83.64h.9M243.48 79.65h.9M256.87 124.78h.9M243.63 137.9h.9M234.48 73.46h.9M256.86 114.76h.9M266.74 122.51h.9M223.23 113.33h.9M276.28 78.72h.9M256.13 88.05h.9M225.66 119.59h.9M232.45 132.82h.9M225.37 118.94h.9M256.87 76.29h.9M225.42 121.37h.9M315.35 66.41h.9M326.87 67.53h.9M235.72 131.49h.9M227.31 91.95h.9M309.25 70.02h.9M257.34 94.6h.9M326.4 66.96h.9M275.01 116.68h.9M306.54 65.33h.9M296.55 121.15h.9M253.68 87.28h.9M236.87 137.84h.9M262.56 97.37h.9M236.49 71.78h.9M224.09 94.49h.9M258.73 122.43h.9M224.12 113.44h.9M240.98 79.64h.9M258 91.92h.9M323.46 64.58h.9M267.91 75.56h.9M280.19 93.99h.9M249.58 69.65h.9M291.65 64.74h.9M224.13 115.01h.9M265.64 111.26h.9M265.83 96.88h.9M250.25 132.11h.9M256.96 122.67h.9M234.23 74.36h.9M257.9 100.01h.9M241.02 78.99h.9M269.52 96.2h.9M240.74 139.52h.9M238.73 79.6h.9M239.2 75.35h.9M261.13 97.56h.9M255.79 102.09h.9M239.18 80.37h.9M244.98 139.18h.9M271.16 100.16h.9M249.01 75.77h.9M225.96 79.35h.9M248.32 80.3h.9M249.11 130.98h.9M279.35 113.4h.9M249.41 74.92h.9M259.04 124.63h.9M309.86 71.92h.9M277.16 69.32h.9M226.05 101.18h.9M247.13 68.72h.9M225.65 102.33h.9M299.63 74.66h.9M244.65 77.22h.9M226.27 95.47h.9M221.5 88.99h.9M245.01 79.12h.9M223.24 110.48h.9M286.18 114.61h.9M270.95 116.56h.9M234.91 77.98h.9M275.51 117.9h.9M239.73 137h.9M249.58 85.2h.9M223.99 112.21h.9M241.43 138.81h.9M255.45 107.95h.9M261.12 99.27h.9M254.11 89.28h.9M269.39 111.53h.9M262.55 107.15h.9M267.31 106.12h.9M227.32 123.59h.9M230.97 75.42h.9M229.3 89.84h.9M224.64 97.65h.9M227.83 122.38h.9M277.56 102.89h.9M223.94 80.25h.9M268.36 93.6h.9M221.08 89.43h.9M278.51 86.75h.9M262.33 103.38h.9M226.19 114.08h.9M256.79 68.8h.9M273.79 92.57h.9M227.91 121.89h.9M226.61 84.68h.9M276.2 112.89h.9M240.5 78.82h.9M246.43 134.87h.9M268.32 86.03h.9M226.09 114.1h.9M221.66 91.03h.9M223.42 101.64h.9M274.58 125.9h.9M223.97 107.3h.9M277.03 130.14h.9M290.32 108h.9M226.12 110.41h.9M227.37 77.02h.9M227.33 123.35h.9M273.3 103.32h.9M255.57 89.76h.9M266.1 115.54h.9M243.04 81.87h.9M254.63 120.8h.9M251.55 79.16h.9M259.22 107.66h.9M256.47 115.77h.9M237.51 76.83h.9M261.78 109.89h.9M255.62 131.59h.9M245.35 82.71h.9M266.37 120.49h.9M222.09 102.2h.9M270.06 108.45h.9M230.67 126.76h.9M267.12 99.53h.9M257.76 109.45h.9M223.33 101.23h.9M231.22 85.15h.9M224.72 121.06h.9M264.63 109.9h.9M237.93 143.44h.9M275.67 123.18h.9M250.41 73.66h.9M253.88 120.53h.9M221.61 92.36h.9M257.8 120.15h.9M239.7 71.45h.9M247.06 78.56h.9M255.68 109.54h.9M251.25 81.27h.9M229.04 93.05h.9M230.86 128.88h.9M229.18 133.95h.9M225.9 92.16h.9M225.23 81.45h.9M226.08 124.28h.9M269.93 92.74h.9M232.47 83.7h.9M224.67 112.64h.9M249.88 75.55h.9M262.49 136.8h.9M298.85 65.11h.9M256.04 106.4h.9M266.55 103.57h.9M238.76 77.36h.9M261.22 107.04h.9M234.93 78.5h.9M332.03 62.3h.9M255.99 77.02h.9M252.39 73.89h.9M263.33 111.27h.9M229.94 127.64h.9M228.58 92.56h.9M334.74 61.98h.9M248.34 130.95h.9M235.94 78.91h.9M318.62 65.93h.9M231.19 128.11h.9M229.47 126.74h.9M241.25 79.49h.9M245.61 80.59h.9M225.69 99.84h.9M228.48 130.7h.9M261.61 104.81h.9M267.35 125.85h.9M253.87 74.46h.9M255.15 80.62h.9M258.65 99.85h.9M237.69 77.02h.9M244 80.97h.9M225.05 104.36h.9M255.3 125.98h.9M268.67 105.41h.9M225.55 115.13h.9M258.78 113.78h.9M267.56 102.5h.9M277.01 111.87h.9M263.65 97.39h.9M319.49 56.51h.9M223.97 105.46h.9M286.05 102.92h.9M228.47 124.75h.9M221.26 106.65h.9M290.16 67.17h.9M244.76 82.68h.9M228.63 121.44h.9M225.36 101.7h.9M244.33 79.98h.9M281.8 108.32h.9M254.54 84.53h.9M248.77 76.2h.9M309.12 71.47h.9M222.91 105.29h.9M254.45 125.4h.9M255.57 118.54h.9M232.38 80.64h.9M224.09 103.76h.9M228.88 87.96h.9M265.23 100.17h.9M275.16 119.19h.9M234.51 131.34h.9M268.91 101.01h.9M261.92 105.47h.9M278.17 59.95h.9M273.68 101.8h.9M308.34 63.65h.9M228.13 92.69h.9M249.77 75.9h.9M250.02 82.02h.9M263.8 115.4h.9M283.15 84.59h.9M228.32 133.96h.9M257.6 116.88h.9M263.3 97.34h.9M256.93 93.42h.9M224.92 108.87h.9M260.58 121.45h.9M293.19 64.96h.9M247.28 83.9h.9M272 106.78h.9M244.38 81.7h.9M226.3 123.93h.9M241.8 135.58h.9M274.68 113.95h.9M250.71 80h.9M242.38 78.63h.9M239.62 136.92h.9M234.44 133.48h.9M231.14 86.89h.9M249.22 81.68h.9M231.73 84.37h.9M235.05 78.71h.9M263.37 109.35h.9M225.99 110.23h.9M272.37 106.39h.9M274.77 102.99h.9M254.28 125.19h.9M248.34 75.72h.9M223 105.7h.9M247.81 132.05h.9M270.84 112.1h.9M291.86 72.57h.9M224.95 116.11h.9M268.07 111.34h.9M228.64 92.71h.9M281.99 115.28h.9M244.31 82.36h.9M224.79 109.26h.9M241.75 135.5h.9M232.91 79.53h.9M255.39 123.43h.9M244.81 81.41h.9M275.2 110.28h.9M220.95 112.88h.9M284.95 113.42h.9M243.86 137.52h.9M225.33 101.11h.9M234.71 131.88h.9M253.72 121.14h.9M246.67 77.87h.9M274.36 105.05h.9M263.97 94.82h.9M312.4 70.15h.9M257.27 89.03h.9M237.91 66.71h.9M263.86 119.58h.9M264.82 119.68h.9M254.6 92.54h.9M233.2 131.82h.9M243.02 79.98h.9M268.85 104.61h.9M259.03 93.88h.9M239.46 76.41h.9M230.11 129.77h.9M257.73 113.57h.9M298.77 70.71h.9M224.91 124.28h.9M302.01 69.31h.9M248.15 80.61h.9M231.75 84.7h.9M253.32 130.24h.9M221.63 95.05h.9M313.06 70.64h.9M265.49 120.01h.9M247.58 79.24h.9M225.76 101.4h.9M229.14 79.25h.9M280.75 132.03h.9M237.79 80.28h.9M230.81 133.53h.9M275.65 89.64h.9M257.4 108.06h.9M269.5 111.04h.9M222.29 119.59h.9M256.29 106.2h.9M314.36 71.23h.9M243.53 79.51h.9M255.94 104.63h.9M277.52 101.2h.9M245.38 80.29h.9M250.65 81.83h.9M235.52 135.55h.9M240.58 71.19h.9M243.12 80.89h.9M258.22 133.31h.9M247.42 134.07h.9M251.34 81.45h.9M272.4 91.7h.9M255.9 115.22h.9M229.61 78.19h.9M301.68 72.71h.9M258.86 96.72h.9M264.16 118.05h.9M255.47 90.91h.9M258.5 81.62h.9M261.2 118.94h.9M254.35 123.07h.9M228.36 127.73h.9M225.25 111.84h.9M225.71 100.15h.9M227.01 127.02h.9M277.07 119.45h.9M224.77 128.44h.9M262.6 102.65h.9M228.65 88.27h.9M243.4 138.94h.9M252.72 71.71h.9M259.47 107.75h.9M265.64 138.64h.9M256.46 96.13h.9M255.99 92.77h.9M267.59 103.41h.9M244.82 77.2h.9M261.34 106.83h.9M225.07 100.29h.9M236.3 77.54h.9M260.07 119.77h.9M237.31 79.57h.9M263.09 121.12h.9M280.99 93.1h.9M262.9 99.94h.9M275.65 105.24h.9" stroke="#6a6a6a" stroke-width=".9" fill="none"/>
<path d="M272.38 113.91h.9M224.95 79h.9M311.45 69.18h.9M264.12 106.37h.9M264.51 113.31h.9M271.52 115.17h.9M245.67 79.17h.9M261.17 107.91h.9M256.4 120.68h.9M234.84 81.56h.9M325.75 69.14h.9M263.92 101.35h.9M251.4 130.39h.9M226.16 100.5h.9M245.34 137.1h.9M223.1 104.22h.9M252.95 73.24h.9M258.47 124.04h.9M269.69 67.03h.9M305.19 69.93h.9M287.08 66.73h.9M276.24 83.83h.9M245.4 78.08h.9M280.56 99.38h.9M252.24 143.79h.9M304.65 70.13h.9M221.94 105.39h.9M228.72 91.29h.9M255.63 93.42h.9M234.25 80.05h.9M227.08 116.76h.9M227.67 86.12h.9M274.69 122.16h.9M233.51 79.59h.9M276.15 105.3h.9M259.04 101.14h.9M275.84 125.02h.9M243.05 137.04h.9M256.03 116.48h.9M240.39 133.42h.9M271.68 115.73h.9M279.88 85.71h.9M240.68 80.47h.9M256.88 98.33h.9M232.74 72.54h.9M248.93 133.53h.9M234.61 78.08h.9M221.82 119.57h.9M249.85 73.87h.9M252.96 122.45h.9M243.43 80.23h.9M265.7 119.59h.9M238.72 77.39h.9M245.71 77.71h.9M256.37 101.06h.9M249.16 136.54h.9M248.97 80.51h.9M225.07 106.68h.9M267.2 113.99h.9M226.98 117.71h.9M238.34 134.82h.9M324.86 67.39h.9M227.91 134.97h.9M243.09 79.9h.9M237.91 132.68h.9M253.44 84.27h.9M255.86 83.53h.9M223.15 111h.9M263.87 84.36h.9M254.06 127.52h.9M222.74 79.65h.9M256.52 98.53h.9M226.69 94.9h.9M253.92 90.93h.9M259.56 98.3h.9M243.09 80.04h.9M247.54 77.56h.9M238.53 135.01h.9M251.31 80.68h.9M255.86 115.63h.9M253.4 91.04h.9M274.55 127.49h.9M241.58 78.15h.9M228.56 87.08h.9M242.11 141.15h.9M233.75 80.4h.9M270.52 115.57h.9M230 84.53h.9M265.49 93.86h.9M241.46 80.91h.9M255.86 92.94h.9M251.73 81.07h.9M244.04 78.04h.9M258 86.51h.9M271.49 82.62h.9M223.93 116.57h.9M284.78 112.84h.9M262.65 141.67h.9M227.76 88.98h.9M298.45 77.77h.9M282.27 118.12h.9M261.19 118.81h.9M263.26 135.15h.9M274.35 94.8h.9M232.45 82.77h.9M259.33 108.19h.9M225.01 78.95h.9M234.62 132.42h.9M235.73 136.97h.9M272.6 108.97h.9M225.56 103.36h.9M257.86 103.63h.9M257.35 88.66h.9M256.84 133.15h.9M314.28 67.34h.9M221.71 92.92h.9M231.33 84.3h.9M292.97 68.9h.9M235.04 135.09h.9M273.62 98.82h.9M276.65 99.9h.9M246.19 75.3h.9M279.27 112.03h.9M261.38 91.01h.9M237.03 79.54h.9M256.6 110.26h.9M271.4 111.09h.9M235.19 131.69h.9M222.45 76.6h.9M253.29 89.7h.9M248.18 144.93h.9M311.26 56.35h.9M277.19 69.15h.9M282.89 88.7h.9M230.13 72.68h.9M225.77 91.26h.9M312.97 66.26h.9M263.07 67.84h.9M230.21 129.12h.9M266.8 91.31h.9M233.09 81.68h.9M257.84 78.13h.9M278.89 98.62h.9M224.99 112.95h.9M230.27 83.74h.9M231.92 76.76h.9M224.47 106h.9M231.91 83.57h.9M226.67 75.29h.9M237.17 81.18h.9M240.97 79.51h.9M224.22 104.76h.9M238.4 78.39h.9M260.42 89.02h.9M267.26 96.24h.9M269.86 94.51h.9M224.76 111.47h.9M252.25 80.22h.9M256.02 105.58h.9M263.7 84.16h.9M244.81 82.8h.9M269.97 88.68h.9M271.5 95.08h.9M245.96 78.75h.9M239.35 134.36h.9M261.25 113.79h.9M241.49 79.85h.9M247.57 83.11h.9M255.97 93.8h.9M226.39 73.61h.9M255.23 93.79h.9M237.35 135.17h.9M243.04 139.67h.9M241.45 135.7h.9M258.67 118.55h.9M225.66 98.65h.9M230.44 131.67h.9M257.22 116.2h.9M273.76 121.6h.9M245.88 82.62h.9M256.74 115.43h.9M288.55 73.3h.9M241.57 135.75h.9M251.87 129.7h.9M301.19 62.41h.9M254.39 133.08h.9M233.57 130.56h.9M228.07 123.26h.9M262.41 106.22h.9M234.52 132.21h.9M257.56 107h.9M255.27 118.15h.9M235.42 134.55h.9M292.45 59.88h.9M260.11 113.39h.9M259.87 106.26h.9M275.72 91.15h.9M225.71 95.18h.9M256.48 115.97h.9M267.27 95.27h.9M294.58 74.59h.9M269.65 102.37h.9M247.1 80.26h.9M244.98 77.88h.9M277.88 94.12h.9M267.99 87.97h.9M255.7 84.18h.9M251.15 137.69h.9M266.16 112.14h.9M248.27 85.18h.9M228.79 77.66h.9M250.93 132.07h.9M249.83 81.24h.9M263.34 106h.9M319.21 67.43h.9M256.16 133.11h.9M315.61 69.53h.9M261.85 98.96h.9M291.98 122.1h.9M240.03 134.42h.9M256.83 99.4h.9M305.49 63.2h.9M269.37 101.09h.9M318.41 72.4h.9M230.95 79.02h.9M300.49 70.89h.9M254.61 130.56h.9M249 82.84h.9M276.58 114.26h.9M264.04 97.43h.9M235.48 75.93h.9M241.02 79.55h.9M249.09 80.65h.9M258.41 103.64h.9M258.99 92.42h.9M242.2 137.51h.9M245.64 81.32h.9M244.03 75.77h.9M288.72 104.73h.9M253.02 81.29h.9M228.4 93.11h.9M228.67 127.1h.9M249.62 82.58h.9M276.48 94.65h.9M227.08 71.91h.9M313.39 71.15h.9M247.53 135.98h.9M242.38 80.45h.9M291.77 66.8h.9M256.75 113.34h.9M247.18 139.31h.9M272.23 87.81h.9M283.96 71.84h.9M261.85 116.83h.9M280.84 97.72h.9M256.83 109.86h.9M280.11 92.21h.9M225.76 112.11h.9M255.84 115.5h.9M274.76 95.36h.9M272.47 100.16h.9M301.61 62.84h.9M247.78 77.64h.9M232.21 82.17h.9M227.66 133.49h.9M301.75 66.65h.9M257.5 104.59h.9M254.75 86.13h.9M259.13 118.84h.9M233.25 78.07h.9M271.39 84.74h.9M222.35 89.29h.9M221.07 78.06h.9M228.29 87.35h.9M255.99 88.33h.9M274.37 113.38h.9M228.31 91.28h.9M248.94 84.99h.9M259.55 111h.9M256.89 120.57h.9M265.73 105.11h.9M267.93 114.33h.9M226.59 99.35h.9M255.01 79.79h.9M272.53 114.97h.9M273.54 116.75h.9M271.71 116.39h.9M240.61 76.83h.9M244.84 80.62h.9M264.32 104.29h.9M264.81 105.44h.9M250.77 86.09h.9M249.6 85.07h.9M261.91 116.41h.9M225.23 119.1h.9M308.43 61.69h.9M221.96 101.4h.9M257.31 124.55h.9M259.76 115.84h.9M292.4 72.75h.9M248.27 78.92h.9M222.73 111.78h.9M247.89 73.83h.9M232.23 85.49h.9M269.29 106.77h.9M263.19 91.12h.9M257.92 100.81h.9M267.96 105.25h.9M223.35 89.56h.9M234.48 77.69h.9M306.51 47.33h.9M244.55 77.91h.9M239.79 79.77h.9M256.68 90.56h.9M258.37 103.45h.9M225.46 100.98h.9M225.66 79.61h.9M249.26 84.62h.9M246.33 133.18h.9M225.41 113.68h.9M265.34 69.08h.9M242.64 81.3h.9M243.36 78.09h.9M236.97 77.13h.9M240.49 133.84h.9M234.44 135.15h.9M266.03 92.55h.9M264.89 121.63h.9M242.53 79.63h.9M275.3 89.06h.9M250.14 81.53h.9M222.04 97.17h.9M240.56 134.25h.9M246.66 83.07h.9M251.35 82.74h.9M261.2 113.98h.9M265.54 106.24h.9M227.49 76.94h.9M306.02 72.66h.9M255.48 118.76h.9M225.03 102.84h.9M263.3 83.43h.9M223.02 94.72h.9M257.08 118.58h.9M246.51 133.2h.9M256.91 87.09h.9M275.46 124.12h.9M278.3 126.82h.9M248.14 81.1h.9M257.38 106.71h.9M268.6 75.37h.9M289.49 131.49h.9M271.17 108.21h.9M251.15 81.8h.9M305.99 64.43h.9M263.71 105.36h.9M283.65 65h.9M280.1 112.47h.9M255.43 120.66h.9M257.75 107.53h.9M251.1 85.06h.9M254.55 121.3h.9M228.03 77.48h.9M289.88 67.73h.9M298.47 69.09h.9M258.57 82.25h.9M248.38 82.55h.9M288.94 80.32h.9M243.43 81.25h.9M313.13 66.37h.9M257.14 107.48h.9M238.77 78.61h.9M224.21 96.1h.9M300.43 73.79h.9M254.33 132.32h.9M249.63 81.28h.9M236.4 77.5h.9M254.01 80.35h.9M225.31 102.76h.9M298.6 54.76h.9M242.48 77.64h.9M226.61 75.8h.9M230.74 126.51h.9M256.03 89.63h.9M223.88 81.41h.9M230.2 133.36h.9M256.13 123.15h.9M227.15 117.27h.9M247.83 76.56h.9M254.86 82.75h.9M229.14 84.95h.9M226.61 116.14h.9M256.62 120.18h.9M224.09 110.84h.9M227.97 93.01h.9M256.26 120h.9M247.07 84.73h.9M246.77 84.61h.9M266.14 95.44h.9M280.42 126.62h.9M261.89 122.24h.9M243.97 76.94h.9M228.11 93.77h.9M240.25 76.17h.9M245.63 77.86h.9M280.21 121.65h.9M257.6 126.96h.9M257.19 102.75h.9M262.71 90.11h.9M258.99 90.7h.9M260.32 98.36h.9M265.93 123.39h.9M271.15 101.37h.9M302.24 69.39h.9M232.03 85.44h.9M223.82 98.2h.9M253.42 121.13h.9M248.01 138.82h.9M228.31 92.16h.9M268.06 105.22h.9M272.11 70.42h.9M274.46 97.59h.9M235.27 80.85h.9M228.24 124.57h.9M224.19 95.8h.9M236.92 136.7h.9M243.79 134.69h.9M267.15 103.36h.9M256.81 110.37h.9M235.47 80.19h.9M256.95 103.29h.9M236.05 144.6h.9M237.66 132.48h.9M245.71 79.67h.9M251.27 83.23h.9M236.8 136.61h.9M285.7 113.43h.9M313.13 67.15h.9M261.82 110.64h.9M265.63 87.4h.9M257.86 106.22h.9M225 97.11h.9M261.03 112.4h.9M235.98 77.72h.9M311.46 66h.9M245.27 134.42h.9M270.27 88.31h.9M257.67 100.4h.9M224.12 104.93h.9M230.52 128.22h.9" stroke="#9a9a9a" stroke-width=".9" fill="none"/>
<path d="M224.27 36.5 224 37.28 223.21 37 223 36.5ZM243 134.01 242.5 133.92 241.5 133.63 241 133.49 240 133.25 239.33 133 238.5 132.64 238 132.38 237.25 132 236.5 131.68 236 131.47 235 131.02 234.5 130.75 234 130.42 233.42 130 232.77 129.5 232.2 129 231.72 128.5 231.35 128 231 127.3 230.7 126.5 230.5 125.58 230.28 125 230 124.5 229.34 124 228.91 123.5 229 122.65 229.11 122 229.1 121 228.99 120.5 228.58 119.5 228.26 119 227.88 118.5 227.47 118 227.04 117 227.23 116 227.42 115 227.36 114 227.15 113 227 112.43 226.73 111.5 226.5 110.5 226.4 110 226.22 109 226 108.15 225.64 107.5 225.29 107 225.01 106 225.26 105 225.5 104.37 225.83 103.5 226.01 103 226.25 102 226.4 101 226.5 100 226.52 99.5 226.48 99 226.1 98 225.81 97.5 225.83 96.5 226.5 96.1 227 95.87 227.58 95.5 228.12 95 228.5 94.47 228.93 93.5 229.07 93 229.24 92 229.37 91 229.5 90.45 229.87 89.5 230.12 89 230.5 88.2 230.84 87.5 231.09 87 231.5 86.32 232 85.51 232.22 85 232.5 84.06 232.67 83.5 233 82.76 233.5 82.04 234 81.66 235 81.59 236 81.82 237 81.96 238 81.59 238.5 81.27 239 80.99 240 80.79 240.83 81 241.5 81.32 242 81.59 242.85 82 243.5 82.31 244 82.6 244.54 83 245.17 83.5 245.83 84 246.49 84.5 247 84.87 247.5 85.24 248 85.6 248.64 86 249.5 86.34 250.5 86.49 251 86.56 251.78 87 252.22 87.5 252.57 88 253 88.84 253.25 89.5 253.42 90.5 253.5 91.19 253.7 92 254 93 254.17 93.5 254.31 94.5 254.39 95.5 254.5 96.07 254.8 97 255.02 97.5 255.5 98.34 255.87 99 256.05 99.5 256.03 100.5 255.88 101 255.62 102 255.52 103 255.58 104 255.71 105 255.74 106 255.57 107 255.45 107.5 255.26 108.5 255.24 109.5 255.47 110.5 255.73 111 256.02 111.5 256.31 112.5 256 113.43 255.63 114 255.37 114.5 255.08 115.5 254.99 116 254.75 117 254.5 117.6 254.09 118.5 253.85 119 253.5 119.8 253.25 120.5 253 121.35 252.85 122 252.8 123 253 123.73 253.4 124.5 253.68 125 253.99 126 253.84 127 253.5 127.57 253 128.19 252.5 128.71 252 129.16 251.5 129.53 250.71 130 250 130.32 249.42 130.5 248.5 130.83 248 131.01 247.01 131.5 246.5 131.85 246 132.24 245.5 132.69 245 133.14 244.5 133.54 243.5 134 243 134.01ZM243 130.55 242 130.59 241 130.57 240.17 130.5 239.5 130.43 238.5 130.27 237.51 130 237 129.86 236.07 129.5 235.5 129.26 235 128.98 234.25 128.5 233.66 128 233.23 127.5 232.94 127 232.69 126 232.8 125 233 124.19 233.11 123.5 233.01 122.5 232.83 122 232.5 121.25 232.15 120.5 231.92 120 231.5 119 231.3 118.5 231 117.64 230.78 117 230.5 116.02 230.35 115.5 230.11 114.5 230 113.97 229.8 113 229.64 112 229.51 111 229.45 110.5 229.36 109.5 229.29 108.5 229.26 107.5 229.26 106.5 229.28 105.5 229.34 104.5 229.42 103.5 229.5 102.82 229.6 102 229.76 101 229.96 100 230.06 99.5 230.3 98.5 230.5 97.81 230.74 97 231 96.24 231.26 95.5 231.5 94.92 231.9 94 232.13 93.5 232.5 92.78 232.93 92 233.23 91.5 233.56 91 234 90.37 234.5 89.72 235 89.14 235.5 88.62 236 88.16 236.5 87.75 237 87.39 237.66 87 238.5 86.6 239 86.43 240 86.2 241 86.15 242 86.26 242.89 86.5 243.5 86.73 244.05 87 244.88 87.5 245.5 87.95 246 88.37 246.5 88.84 247 89.37 247.5 89.95 247.93 90.5 248.3 91 248.64 91.5 249 92.09 249.5 92.97 249.78 93.5 250.02 94 250.47 95 250.68 95.5 251 96.37 251.22 97 251.5 97.92 251.67 98.5 251.92 99.5 252.02 100 252.23 101 252.39 102 252.5 102.89 252.57 103.5 252.66 104.5 252.71 105.5 252.74 106.5 252.74 107.5 252.7 108.5 252.64 109.5 252.55 110.5 252.49 111 252.36 112 252.2 113 252 113.97 251.89 114.5 251.65 115.5 251.5 116.02 251.21 117 251 117.64 250.7 118.5 250.5 119 250.08 120 249.87 120.5 249.5 121.46 249.39 122 249.5 122.7 249.94 123.5 250.35 124 250.75 124.5 251.08 125 251.46 126 251.34 127 251 127.56 250.5 128.09 249.97 128.5 249.11 129 248.5 129.3 247.95 129.5 247 129.84 246.34 130 245.5 130.22 244.5 130.39 243.5 130.5 243 130.55ZM245.5 129.05 244.5 129.25 243.5 129.37 242.5 129.42 241.5 129.41 240.5 129.34 239.5 129.2 238.67 129 238 128.81 237.21 128.5 236.5 128.13 236 127.77 235.5 127.25 235.12 126.5 235.22 125.5 235.5 124.96 236 124.3 236.5 123.74 237 123.13 237.29 122.5 237 121.61 236.57 121 236.18 120.5 235.81 120 235.47 119.5 235 118.74 234.6 118 234.36 117.5 234 116.68 233.73 116 233.5 115.33 233.24 114.5 233 113.6 232.85 113 232.65 112 232.5 111.08 232.42 110.5 232.3 109.5 232.22 108.5 232.18 107.5 232.17 106.5 232.18 105.5 232.23 104.5 232.31 103.5 232.43 102.5 232.5 102 232.65 101 232.85 100 233 99.36 233.21 98.5 233.5 97.54 233.67 97 234 96.11 234.24 95.5 234.5 94.94 234.97 94 235.25 93.5 235.57 93 236 92.4 236.5 91.78 237 91.26 237.5 90.82 238 90.46 238.85 90 239.5 89.76 240.5 89.6 241.5 89.67 242.5 89.98 243 90.22 243.5 90.53 244.12 91 244.67 91.5 245.14 92 245.55 92.5 246 93.13 246.5 93.91 246.84 94.5 247.1 95 247.5 95.85 247.79 96.5 248 97.07 248.34 98 248.5 98.52 248.79 99.5 249 100.36 249.15 101 249.34 102 249.49 103 249.56 103.5 249.66 104.5 249.73 105.5 249.77 106.5 249.77 107.5 249.73 108.5 249.66 109.5 249.56 110.5 249.49 111 249.33 112 249.13 113 249 113.56 248.75 114.5 248.5 115.3 248.26 116 248 116.67 247.64 117.5 247.39 118 247 118.73 246.53 119.5 246.19 120 245.84 120.5 245.5 121 245.13 122 245.5 122.63 246 123.07 246.63 123.5 247.42 124 248 124.4 248.5 124.83 249 125.42 249.27 126 249.14 127 248.77 127.5 248.16 128 247.5 128.36 247 128.59 246 128.92 245.5 129.05ZM242.5 117.11 241.5 117.45 240.5 117.46 239.5 117.13 239 116.83 238.5 116.43 238 115.93 237.5 115.3 237 114.52 236.72 114 236.48 113.5 236.06 112.5 235.88 112 235.57 111 235.44 110.5 235.21 109.5 235.03 108.5 234.95 108 234.82 107 234.73 106 234.68 105 234.67 104 234.7 103 234.76 102 234.88 101 235 100.25 235.13 99.5 235.37 98.5 235.52 98 235.86 97 236.06 96.5 236.5 95.6 236.85 95 237.19 94.5 237.59 94 238.08 93.5 238.75 93 239.5 92.62 240 92.48 241 92.44 241.5 92.54 242.5 93 243 93.36 243.5 93.82 244 94.4 244.43 95 244.74 95.5 245 96 245.46 97 245.66 97.5 245.98 98.5 246.13 99 246.37 100 246.5 100.68 246.64 101.5 246.77 102.5 246.86 103.5 246.91 104.5 246.92 105.5 246.89 106.5 246.83 107.5 246.73 108.5 246.58 109.5 246.49 110 246.27 111 246 111.96 245.82 112.5 245.5 113.34 245.2 114 244.93 114.5 244.5 115.21 244 115.87 243.5 116.39 243 116.8 242.5 117.11ZM244.5 128.06 243.5 128.23 242.5 128.3 241.5 128.27 240.5 128.15 239.85 128 239 127.69 238.5 127.43 237.98 127 237.74 126 238.04 125.5 238.65 125 239.5 124.59 240 124.42 241 124.22 242 124.15 243 124.21 244 124.39 244.5 124.53 245.5 124.91 246 125.21 246.5 125.64 246.83 126.5 246.5 127.08 245.98 127.5 245 127.91 244.5 128.06ZM241.5 110.65 240.5 110.77 239.76 110.5 239.07 110 238.62 109.5 238.26 109 237.96 108.5 237.51 107.5 237.33 107 237.04 106 236.92 105.5 236.76 104.5 236.66 103.5 236.63 102.5 236.67 101.5 236.79 100.5 236.98 99.5 237.12 99 237.46 98 237.69 97.5 238 96.94 238.5 96.26 239 95.77 239.5 95.43 240.5 95.16 241.5 95.36 242 95.64 242.5 96.07 243 96.68 243.49 97.5 243.73 98 244 98.73 244.23 99.5 244.44 100.5 244.52 101 244.62 102 244.65 103 244.61 104 244.5 105 244.43 105.5 244.21 106.5 244 107.23 243.72 108 243.49 108.5 243 109.34 242.5 109.96 242 110.38 241.5 110.65ZM240.5 106.53 240 106.38 239.5 105.99 239 105.3 238.65 104.5 238.49 104 238.31 103 238.26 102 238.33 101 238.5 100.14 238.72 99.5 239 98.9 239.5 98.26 240 97.91 241 97.85 241.5 98.14 242 98.69 242.43 99.5 242.61 100 242.83 101 242.92 102 242.88 103 242.71 104 242.5 104.7 242.11 105.5 241.71 106 241 106.48 240.5 106.53Z" stroke="#6a6a6a" stroke-width="0.7" fill="none" stroke-linejoin="round"/>
<rect x="220" y="36.5" width="126" height="109.5" fill="none" stroke="#231f20" stroke-width="1.1"/>
<line x1="258" y1="36.5" x2="258" y2="146" stroke="#231f20" stroke-width="1.2"/>
<line x1="220" y1="82.1" x2="346" y2="82.1" stroke="#231f20" stroke-width="1.2"/>
<path d="M220 98.3h-3.0M220 90.61h-1.8M220 86.11h-1.8M220 82.92h-1.8M220 80.44h-1.8M220 78.42h-1.8M220 76.71h-1.8M220 75.23h-1.8M220 73.92h-1.8M220 72.6h-3.0M220 64.91h-1.8M220 60.41h-1.8M220 57.22h-1.8M220 54.74h-1.8M220 52.72h-1.8M220 51.01h-1.8M220 49.53h-1.8M220 48.22h-1.8M220 47.2h-3.0M220 39.51h-1.8M220 126.9h-3.0M220 133.5h-1.8M220 140.1h-1.8M220 120.3h-1.8M220 113.7h-1.8M220 107.1h-1.8M220 146h-3.0M249.5 146v3.0M258.05 146v1.8M263.05 146v1.8M266.6 146v1.8M269.35 146v1.8M271.6 146v1.8M273.5 146v1.8M275.15 146v1.8M276.6 146v1.8M278 146v3.0M286.55 146v1.8M291.55 146v1.8M295.1 146v1.8M297.85 146v1.8M300.1 146v1.8M302 146v1.8M303.65 146v1.8M305.1 146v1.8M306.3 146v3.0M314.85 146v1.8M319.85 146v1.8M323.4 146v1.8M326.15 146v1.8M328.4 146v1.8M330.3 146v1.8M331.95 146v1.8M333.4 146v1.8M334.7 146v3.0M343.25 146v1.8M234.6 146v3.0M226.6 146v1.8M242.6 146v1.8M220 146v3.0" stroke="#231f20" stroke-width=".8" fill="none"/>
<text x="210.8" y="49.11" font-size="7.8" text-anchor="end" fill="#231f20">10</text>
<text x="211.1" y="45.91" font-size="5.62" fill="#231f20">5</text>
<text x="210.8" y="74.31" font-size="7.8" text-anchor="end" fill="#231f20">10</text>
<text x="211.1" y="71.11" font-size="5.62" fill="#231f20">4</text>
<text x="210.8" y="100.71" font-size="7.8" text-anchor="end" fill="#231f20">10</text>
<text x="211.1" y="97.51" font-size="5.62" fill="#231f20">3</text>
<text x="210.8" y="128.81" font-size="7.8" text-anchor="end" fill="#231f20">0</text>
<text x="210.8" y="148.21" font-size="7.8" text-anchor="end" fill="#231f20">−472</text>
<text x="234.6" y="157.6" font-size="7.8" text-anchor="middle" fill="#231f20">0</text>
<text x="246.9" y="157.6" font-size="7.8" text-anchor="middle" fill="#231f20">10<tspan dy="-3.2" font-size="5.62">2</tspan></text>
<text x="276.4" y="157.6" font-size="7.8" text-anchor="middle" fill="#231f20">10<tspan dy="-3.2" font-size="5.62">3</tspan></text>
<text x="304.7" y="157.6" font-size="7.8" text-anchor="middle" fill="#231f20">10<tspan dy="-3.2" font-size="5.62">4</tspan></text>
<text x="333.1" y="157.6" font-size="7.8" text-anchor="middle" fill="#231f20">10<tspan dy="-3.2" font-size="5.62">5</tspan></text>
<text x="220.1" y="163.4" font-size="7.8" text-anchor="middle" fill="#231f20">−139</text>
<text x="223.8" y="46.9" font-size="7.9" fill="#231f20">4.5</text>
<text x="342.6" y="46.9" font-size="7.9" text-anchor="end" fill="#231f20">1.3</text>
<text x="221.8" y="144" font-size="7.9" fill="#231f20">90.6</text>
<text x="342.8" y="144" font-size="7.9" text-anchor="end" fill="#231f20">3.6</text>
<text x="259.4" y="33.8" font-size="9.6" textLength="46.8" lengthAdjust="spacingAndGlyphs" fill="#231f20">Active sJIA</text>
<path d="M440.87 124.71h.9M399.02 87.45h.9M461.6 114.85h.9M458.88 106.64h.9M438.73 87.93h.9M458.07 114.33h.9M421.87 69.24h.9M448.03 97.68h.9M447.98 109.11h.9M455.13 121.29h.9M427.34 98.47h.9M434.61 90.9h.9M410.38 135.84h.9M447.44 58.19h.9M396.66 106.96h.9M459.57 127.33h.9M437.58 112.37h.9M462.2 132.72h.9M449.33 121.5h.9M451.41 126.22h.9M443.35 98.91h.9M455.04 125.74h.9M389.89 129.2h.9M442.56 100.7h.9M394.82 87.44h.9M437.56 111.45h.9M455.17 120.27h.9M447.35 122.6h.9M446.58 98.1h.9M420.78 70.51h.9M443.65 100.19h.9M440.59 106.33h.9M451.3 109.71h.9M391.67 119.94h.9M447.02 129.79h.9M394.26 88.26h.9M454.49 104.84h.9M475.92 55.92h.9M404.56 76.18h.9M439.3 115.82h.9M394.8 126.97h.9M439.25 102.53h.9M427.67 67.1h.9M416.2 138.24h.9M399.95 127.32h.9M403.96 133.04h.9M462.11 126.81h.9M417.8 133.84h.9M462.55 131.24h.9M439.34 102.48h.9M455.04 103.92h.9M430.96 101.45h.9M413.5 142.7h.9M426.14 106.68h.9M394.66 102.47h.9M440.22 100.41h.9M456.94 90.65h.9M451.32 113.13h.9M451.89 103.28h.9M435.69 116.88h.9M465.03 119.34h.9M463.31 106.2h.9M468.8 116.93h.9M459.74 139.19h.9M455.71 110.78h.9M469.4 78.04h.9M455.43 144.47h.9M447.1 108.03h.9M396.12 138.33h.9M440.94 109.66h.9M407.32 139.26h.9M436.38 106.47h.9M425.85 101.94h.9M403.6 138.52h.9M433.76 97.76h.9M432.05 65.5h.9M439.21 92.41h.9M421.87 67.96h.9M431.55 101.81h.9M393.43 102.78h.9M448.14 96.5h.9M476.17 118.29h.9M431.92 63.86h.9M403.08 128.35h.9M400.47 125.05h.9M465.59 122.01h.9M446.63 119.43h.9M437.52 116.02h.9M444.14 113.28h.9M454.25 117.5h.9M414.23 132.34h.9M454.15 119.27h.9M418.87 65.06h.9M440.87 132.57h.9M396.1 125.68h.9M484.93 123.97h.9M442.84 87.23h.9M496.84 62.85h.9M477.44 57.54h.9M416.39 68.43h.9M393.74 98.71h.9M413.12 71.1h.9M393.34 110.49h.9M457.67 57.91h.9M492.14 61.73h.9M454.98 96.41h.9M436.39 89.75h.9M453.46 58.82h.9M404.25 132.74h.9M394.39 114.84h.9M483.83 117.84h.9M440.42 110.48h.9M430.71 106.65h.9M401.6 80.42h.9M459.22 116.69h.9M464.05 126.87h.9M432.22 106.97h.9M435.61 103.52h.9M465.07 122.63h.9M435.83 122.52h.9M450.62 109.73h.9M419.85 130.58h.9M453.31 116.2h.9M457.23 118.46h.9M454.15 116.45h.9M456.61 96.9h.9M474.32 57.65h.9M450.5 109.64h.9M497.92 69.39h.9M451.43 53.09h.9M438.61 119.49h.9M389.73 87.02h.9M426.4 117.98h.9M441.46 62.71h.9M416.11 64.36h.9M438.38 90.39h.9M432.03 101.11h.9M448.64 98.75h.9M403.34 140.9h.9M433.15 108.27h.9M456.13 119.7h.9M425.73 66.98h.9M423.78 124.75h.9M456.26 107.08h.9M443.26 115.98h.9M396.47 106.52h.9M429.86 94.5h.9M454.99 118.99h.9M453.63 110.18h.9M407.64 54.82h.9M399.71 84.56h.9M403.57 139.24h.9M483.27 57.54h.9M392.47 100.4h.9M397.68 112.31h.9M433.56 66.2h.9M456.34 55.86h.9M432.41 93.78h.9M461.16 120.72h.9M414.82 63.98h.9M466.7 125.56h.9M436.43 92.65h.9M457.03 108.68h.9M406.54 131.01h.9M455.14 112.52h.9M404.35 135.54h.9M458.51 117.96h.9M400.39 125.68h.9M402.86 75.49h.9M396.02 86.3h.9M438.04 108.15h.9M448.12 107.24h.9M395.83 92.27h.9M403.52 133.39h.9M388.57 107.52h.9M441.55 85.52h.9M433.35 93.46h.9M456.13 80.48h.9M402.75 127.99h.9M428.42 67.43h.9M480.83 55.57h.9M485.86 74.48h.9M456.29 82.22h.9M427.3 109.09h.9M441.3 95.94h.9M494.22 60.31h.9M410.32 72.24h.9M435.54 117.47h.9M480.81 54.15h.9M451.09 108.99h.9M445.7 58.78h.9M458.68 98.68h.9M425.7 115.28h.9M441.61 86.02h.9M401 81.12h.9M429.91 95.33h.9M423.99 122.08h.9M490.21 57.93h.9M473.02 118.99h.9M458.69 123.86h.9M422.68 126.65h.9M440.79 119.1h.9M442.7 107.06h.9M494.21 59.41h.9M416.68 142.96h.9M425.35 101.23h.9M452.58 109.74h.9M461.35 104.96h.9M457.3 122.3h.9M438.13 117.79h.9M479.05 56.48h.9M446.71 97.94h.9M441.08 90.35h.9M426.42 119.21h.9M461.85 123.25h.9M441.06 90.02h.9M432.92 119.83h.9M470.8 116.68h.9M431.18 61.58h.9M468.67 114h.9M404.81 70.23h.9M443.4 102.82h.9M439.74 116.68h.9M397.21 121.89h.9M409.88 68.68h.9M443.02 112h.9M435.52 106.87h.9M395.77 101.33h.9M447.63 105.44h.9M471.87 118.17h.9M439.86 106.37h.9M398.45 79.39h.9M399.63 124.06h.9M489.81 58.49h.9M458.3 55.83h.9M451.29 60.62h.9M398.46 94.99h.9M449.65 97.68h.9M430.46 120.41h.9M435.62 110.05h.9M449.11 99.85h.9M449.39 105.12h.9M460.18 127.66h.9M411.56 133.96h.9M464.78 117.49h.9M393.4 128.64h.9M442.55 120.99h.9M405.7 49.75h.9M469.16 51.37h.9M428.24 93.14h.9M458.93 116.33h.9M456.19 89.79h.9M454.75 98.13h.9M465.97 122.47h.9M395.58 137.79h.9M445.02 90.76h.9M447.44 113.13h.9M449.36 126.64h.9M471.21 116.92h.9M438.93 92.45h.9M452.76 122.35h.9M444.66 91.36h.9M415.95 134.02h.9M457.7 110.6h.9M435.56 89.68h.9M458.2 115.8h.9M463.41 106.81h.9M438.55 113.11h.9M427.83 93.64h.9M436.34 101.17h.9M435.91 89.85h.9M440.1 87.31h.9M443.32 118.99h.9M461.07 92.52h.9M431.9 102.06h.9M396.08 109.63h.9M455.66 100.07h.9M449.16 93.98h.9M419.82 62.77h.9M456.08 130.32h.9M498.69 63.89h.9M412.12 138.16h.9M425.3 102.51h.9M452.23 113.26h.9M463.04 100.23h.9M431.29 62.32h.9M435.82 107.35h.9M475.15 140.47h.9M445.94 119.85h.9M434.43 100.45h.9M425.88 97.27h.9M408.28 136.04h.9M442.28 86.38h.9M424.59 118.68h.9M463.99 54.85h.9M455.52 122.13h.9M430.96 98.53h.9M465.93 133.33h.9M464.18 79.76h.9M416.03 68.18h.9M451.02 116.42h.9M450.47 128.42h.9M447.45 102.76h.9M421.39 70.84h.9M433.72 125.27h.9M463.48 114.42h.9M444.95 83.22h.9M462.08 81.67h.9M465.29 127.45h.9M433.98 90.07h.9M492.16 52.35h.9M436.83 88.4h.9M390.22 107.84h.9M469.89 108.41h.9M426.4 124.35h.9M426.19 65.7h.9M447.78 129.42h.9M428.48 68.59h.9M457.98 104.69h.9M393.24 70.01h.9M446.22 116.38h.9M439.99 110.09h.9M453.06 122.72h.9M456.67 116.7h.9M434.86 91.45h.9M424.32 64.9h.9M446.49 84.9h.9M434.72 61.29h.9M453.67 59.52h.9M467.73 142.03h.9M456.34 113.96h.9M389.03 138.82h.9M456.42 57.02h.9M441.79 100.37h.9M437.22 58.83h.9M443.51 87.97h.9M402.62 127.57h.9M399.51 72.56h.9M424.85 119.3h.9M447.61 95.84h.9M442.45 124.17h.9M392.28 68.79h.9M452.54 112.94h.9M399.63 130.18h.9M444.6 115.52h.9M435.61 109.34h.9M404.18 130.02h.9M444.07 84.66h.9M436.86 63.3h.9M430.75 112.14h.9M440.33 97.86h.9M458.46 104.46h.9M394.78 85.97h.9M453.84 95.14h.9M459.57 108.97h.9M437.78 122.36h.9M441.8 87.27h.9M445.39 83.26h.9M446.92 96.97h.9M453.85 103.6h.9M412.19 71.97h.9M403.4 72.7h.9M425.28 65.22h.9M444.2 97.78h.9M459.61 56.38h.9M413.32 132.93h.9M451.95 117.32h.9M468.16 57.61h.9M487.98 57.59h.9M468.84 88.56h.9M399.12 86.31h.9M445.16 96.71h.9M398.39 117.88h.9M448.63 115.05h.9M450.34 111.09h.9M429.5 100.78h.9M455.87 101.66h.9M440.72 115.17h.9M439.63 101.32h.9M473.57 125.47h.9M451.3 125.93h.9M449.08 88.09h.9M461.32 121.84h.9M440.53 113.12h.9M445.3 96.62h.9M463.18 104.32h.9M395.3 110.88h.9M432.5 107.69h.9M443.52 62.73h.9M471.46 137.05h.9M471.76 141.05h.9M465.59 125.04h.9M433.59 103.73h.9M494 60.96h.9M445.04 88.39h.9M439.02 101.41h.9M436.29 63.43h.9M437.28 106.01h.9M431.15 110.15h.9M438.67 115.43h.9M431.28 91.67h.9M460.13 119.75h.9M451.63 60.25h.9M466.75 118.76h.9M402.06 130.2h.9M429.69 90.41h.9M488.44 58.61h.9M465.31 114.53h.9M444.21 95.89h.9M392.09 101.9h.9M461.96 115.94h.9M409.39 143.13h.9M410.02 71.06h.9M442 122.16h.9M447.68 117.18h.9M460.68 120.87h.9M431.06 113.63h.9M451.32 113.61h.9M414.11 70.28h.9M431.02 96.38h.9M435.92 98.63h.9M397.68 97.54h.9M454.4 111.96h.9M416.57 138.13h.9M426.11 100.56h.9M402.12 141.38h.9M449.65 125.46h.9M458.7 124.52h.9M450.32 116.45h.9M466.61 136.87h.9M452.31 83.12h.9M422.47 67.9h.9M451.57 101.09h.9M447.05 84.53h.9M428.53 94.4h.9M442.05 114.23h.9M441.04 96.28h.9M471.2 123.45h.9M421.71 59.81h.9M430.77 100.77h.9M439.52 62.5h.9M414.8 134.42h.9M428.45 67.13h.9M394.23 105.29h.9M473.44 114.31h.9M401.21 75.64h.9M478.83 57.69h.9M469.33 114.38h.9M471.19 118.79h.9M393.86 109.62h.9M450.24 107.04h.9M411.89 138.88h.9M450.6 52.18h.9M455.46 87.95h.9M476.48 115.78h.9M413.76 70.51h.9M420.51 67.87h.9M458.29 131.34h.9M404.61 75.64h.9M451.18 114.8h.9M403.04 78.95h.9M426.85 117.89h.9M487.57 56.42h.9M454.14 99.49h.9M400.11 122.67h.9M445.03 101.9h.9M427.56 103.14h.9M428.16 96.04h.9M444.04 83.58h.9M396.22 122.46h.9M435.12 62.8h.9M486.44 144.24h.9M413.88 67.85h.9M482.03 111.54h.9M455.9 117.44h.9M428.35 117.79h.9M395.1 136.7h.9M467.58 103.18h.9M487.23 119.73h.9M441.16 120.11h.9M490.48 58.44h.9M452.64 112.94h.9M441.16 118.5h.9M451.62 81.91h.9M447.86 83.32h.9M427.35 100.24h.9M443.31 100.72h.9M464.96 117.24h.9M467.52 134.78h.9M463.53 58.3h.9M445.57 88.15h.9M476.09 98.17h.9M424.61 64.8h.9M468.18 106.5h.9M455.55 108.84h.9M442.41 111.19h.9M484.53 52.72h.9M434.66 88.99h.9M429.41 110.79h.9M458.99 110.7h.9M442.68 115.24h.9M411.91 72.94h.9M398.94 121.86h.9M459.73 128.58h.9M457.9 117.49h.9M393.86 128.71h.9M453.08 117.38h.9M410.57 139.13h.9M444.03 127.1h.9M484.42 56.88h.9M480.96 138.54h.9M460.37 111.36h.9M451.49 105.4h.9M395.79 122.18h.9M402.17 123.35h.9M404.15 77.5h.9M473.2 111.56h.9M430.52 113.93h.9M390.5 100.6h.9M393.31 124.43h.9M429.14 102.14h.9M396.79 63.52h.9M468.95 57.53h.9M450.58 106.2h.9M390.45 101.51h.9M436.19 96.13h.9M450.07 96.54h.9M439.58 100.35h.9M437.28 106.3h.9M458.25 126.98h.9M477.6 122.7h.9M438.07 104.74h.9M441.45 132.09h.9M430.63 105.54h.9M446.44 117.1h.9M498.19 63.99h.9M432.73 58.34h.9M439.06 106.59h.9M463.32 104.71h.9M461.59 116.17h.9M446.96 94.75h.9M436.93 103.28h.9M412.78 72.41h.9M461.11 102.95h.9M440.97 107.33h.9M449.65 109.1h.9M432.78 88.61h.9M448.1 101.68h.9M449.38 112.51h.9M481.85 109.33h.9M459.28 123.84h.9M451.84 89.17h.9M397.59 97.22h.9M453.33 108.86h.9M393.33 99.87h.9M402.32 129.3h.9M442.46 94.41h.9M440.75 111.34h.9M450.22 89.2h.9M450.74 103.36h.9M396.28 104.83h.9M430.23 96.7h.9M425.85 107.7h.9M437.68 110.07h.9M442.92 123.68h.9M389.88 99.13h.9M411.9 136.89h.9M455.56 105.96h.9M394.37 106.15h.9M458.51 101.1h.9M414.82 60.55h.9M466.56 51.81h.9M417.58 62.19h.9M393.73 133.8h.9M474.78 56.53h.9M467.02 116.72h.9M445.09 61.02h.9M457.67 112.75h.9M459.38 54.9h.9M412.29 133.13h.9M448.62 109.04h.9M446 124.98h.9M451.86 97.49h.9M467.72 79.12h.9M424.06 67.88h.9M403.01 127.88h.9M443.5 83.47h.9M426.58 112.5h.9M396.55 91.39h.9M453.44 110.64h.9M428.47 95.88h.9M398.08 122.37h.9M454.69 101.53h.9M411.85 72.62h.9M487.99 73.59h.9M421.28 128.77h.9M431.49 93.18h.9M396.39 73.85h.9M466.42 112.6h.9M420.38 66.81h.9M438.18 61.6h.9M477.77 128.29h.9M445.87 95.69h.9M451.32 83.28h.9M449.57 91.35h.9M441.08 106.51h.9M462.63 104.73h.9M456.94 107.23h.9M453.84 101.57h.9M461.85 134.34h.9M421.92 70.93h.9M455.17 106.91h.9M468.07 115.69h.9M400.51 123.63h.9M420.68 58.58h.9M434.05 90.82h.9M451.71 59.74h.9M452.45 130.86h.9M485.37 54.55h.9M433.84 91.09h.9M401.95 128.32h.9M443.06 111h.9M401.3 72.84h.9M442.97 110.76h.9M396.35 120.9h.9M444.45 102.96h.9M431.8 112.8h.9M425.89 103.04h.9M469.35 119.81h.9M451.06 58.77h.9M442.26 87.99h.9M393.38 56.86h.9M441.68 94.63h.9M448.23 114.42h.9M454.13 100.6h.9M395.74 77.63h.9M477.72 46.48h.9M448.92 110.63h.9M397.98 124.9h.9M455.49 115.39h.9M425.27 136.92h.9M458.2 115.35h.9M420.17 135.92h.9M459.06 119.66h.9M468.89 129.07h.9M466.49 134.91h.9M449.26 61.61h.9M389.24 105.8h.9M465.82 140.35h.9M432.56 121.3h.9M450.69 123.54h.9M484.92 58.1h.9M397.29 97.49h.9M455.97 106.67h.9M450.98 116.21h.9M395.62 106.58h.9M443.46 89.47h.9M447.56 87.26h.9M462.6 115.34h.9M445.88 83.08h.9M452.45 60.39h.9M458.08 114.81h.9M391.73 135.55h.9M392.41 102.56h.9M432.41 93.8h.9M400.39 125.38h.9M454.42 110.32h.9M422.73 70.3h.9M488.31 60.53h.9M442.67 106.1h.9M400.27 123.72h.9M452.68 121.32h.9M426.37 95.15h.9M400.29 122.9h.9M458.22 90.57h.9M493.67 63.57h.9M449.31 135.48h.9M402.79 68.95h.9M455.51 59.02h.9M435.05 110.29h.9M391.27 61.72h.9M431.02 95.95h.9M474.95 127.38h.9M459.08 118.46h.9M442.59 92.18h.9M456.01 96.07h.9M406.21 141.77h.9M437.14 97.9h.9M432.99 115.47h.9M460.48 90.45h.9M456.37 130.73h.9M417.57 54.51h.9M447.01 124.74h.9M397.57 121.59h.9M454.17 52.62h.9M431.73 59.63h.9M432.16 99.68h.9M409.41 71.49h.9M451.32 122.34h.9M392.83 116.43h.9M459.62 59.73h.9M437.75 96.06h.9M473.38 56.92h.9M480.03 52h.9M447.65 83.14h.9M390.52 94.93h.9M461.19 110.3h.9M425.57 65.28h.9M457.53 128.77h.9M469.16 135.87h.9M451.83 102.79h.9M429.43 102.01h.9M446.33 106.09h.9M463.46 81.08h.9M395.04 71.9h.9M461.09 57.36h.9M434.12 92.3h.9M452.41 112.77h.9M449.64 104.62h.9M444.01 119.69h.9M471.51 118.78h.9M395.76 115.46h.9M440.53 106.14h.9M476.73 127.14h.9M412.21 132.91h.9M443.31 99.38h.9M457.05 120.76h.9M470.32 99.15h.9M464.23 98.01h.9M448.8 118.42h.9M390.84 94.17h.9M461.53 58.43h.9M490.17 59.26h.9M426.62 107.32h.9M396.84 110.86h.9M460.78 136.59h.9M434.55 60.69h.9M393.3 129.52h.9M482.57 77.07h.9M458.24 124.76h.9M394.59 103.75h.9M463.44 134.74h.9M393.4 129.31h.9M392.48 70.52h.9M463.11 110.39h.9M392.37 111.29h.9M452.11 58.33h.9M446.3 106.1h.9M455.24 118.9h.9M502.94 63.11h.9" stroke="#6a6a6a" stroke-width=".9" fill="none"/>
<path d="M451.12 58.39h.9M426.3 110.99h.9M440.49 127.38h.9M448.49 128.8h.9M449.1 107.45h.9M432.07 88.38h.9M444.83 111.1h.9M463.67 109.75h.9M459.63 113.95h.9M421.19 69.81h.9M392.53 106.43h.9M471.59 93.71h.9M411.26 69.81h.9M429.99 97.67h.9M435.29 64.7h.9M431.58 64.9h.9M445.16 112.32h.9M435.45 99.88h.9M449.25 101.64h.9M440.05 108.13h.9M448.87 84.93h.9M400.29 143.96h.9M461.7 113.4h.9M438.04 121.52h.9M431.26 95.85h.9M450.79 88.91h.9M472.99 134.82h.9M436.55 64.85h.9M392.22 73.83h.9M436.88 123.31h.9M446.44 58.58h.9M397.54 94.01h.9M447.53 58.02h.9M448.13 113.89h.9M392.56 93.41h.9M456.03 58.14h.9M452.22 112.9h.9M456.76 111.88h.9M435.64 101.02h.9M419.8 69.04h.9M434.6 63.85h.9M426.6 94.32h.9M464.51 113.61h.9M428.2 97.62h.9M457.34 98.85h.9M455.42 100.65h.9M433.62 95.86h.9M458.75 115.45h.9M426.26 96.94h.9M442.89 130.39h.9M446.34 125.34h.9M425.36 64.56h.9M448.59 126.3h.9M388.98 115.97h.9M485.72 56.42h.9M406.58 71.33h.9M462.32 119.38h.9M428.6 105.65h.9M427.28 98.34h.9M441.45 103.06h.9M427.45 67.59h.9M457.01 126.18h.9M467 109.99h.9M451.72 92.78h.9M438.61 111.39h.9M454.8 112.35h.9M442.8 102.7h.9M475.77 76.79h.9M443.05 140.03h.9M454.45 102.03h.9M457.83 120.53h.9M441.49 119.91h.9M414.73 138.1h.9M440.23 97.72h.9M435.47 109.38h.9M475.5 121.81h.9M391.62 123.99h.9M485.53 58.33h.9M442.14 61.81h.9M455.73 58.79h.9M427.04 68.48h.9M449.79 112.44h.9M456.24 125.92h.9M470.02 114.54h.9M438.63 89.44h.9M458.57 126.58h.9M398.26 72.59h.9M475.37 50.88h.9M448.05 97.44h.9M460.77 132.77h.9M450.62 123.78h.9M448.53 100.59h.9M453.49 95.72h.9M459.48 132.22h.9M447.23 87.79h.9M429.92 89.55h.9M431.42 123.52h.9M444.26 91.62h.9M396.58 90.99h.9M438.97 87.14h.9M438.27 62.71h.9M419.07 129.07h.9M400.76 81.32h.9M470.75 124.92h.9M451.53 139.61h.9M400.62 84.88h.9M428.52 104.09h.9M439.15 97.37h.9M420.47 65.34h.9M416.02 57.62h.9M466.79 79.32h.9M463.36 105.77h.9M450.11 113.97h.9M454.62 105.93h.9M433.7 98.27h.9M453.77 108.48h.9M438.39 87.83h.9M436.39 111.72h.9M391.48 135.89h.9M391.78 86.62h.9M393.99 118.18h.9M452.15 109.13h.9M448.71 106.36h.9M444.61 102.95h.9M395.22 89.58h.9M451.39 133.75h.9M445.37 112.72h.9M388.83 119.98h.9M477.38 137.61h.9M442.71 114.01h.9M436.65 90.1h.9M451.69 110.42h.9M469.34 137.99h.9M441.44 107.47h.9M439.11 106.97h.9M395.57 81.48h.9M459.05 80.08h.9M437.22 92.78h.9M437.4 109.69h.9M396.24 83.46h.9M470.48 128.72h.9M472.66 98.65h.9M411.8 139.1h.9M433.42 107.41h.9M455.56 105.51h.9M431.04 93.19h.9M403.65 130.25h.9M428.98 121.47h.9M470.05 51.02h.9M410.89 133.83h.9M463.65 120.33h.9M436.04 137.74h.9M457.66 106.87h.9M438.64 87.35h.9M438.83 115.85h.9M505.09 58.74h.9M460.44 117.5h.9M441.52 111.28h.9M405.79 64.07h.9M454.28 110.92h.9M436.86 90.88h.9M417.64 64.46h.9M439.93 111.86h.9M469.12 116.7h.9M400.77 137.73h.9M421.4 62.2h.9M425.21 65.38h.9M439.53 106.74h.9M447.71 105.92h.9M441.28 114.95h.9M398.48 127.5h.9M461.15 102.86h.9M459.5 122.24h.9M444.03 122.81h.9M440.52 111.84h.9M447.56 107.23h.9M445.62 53.54h.9M475.37 57.11h.9M454.23 116.97h.9M469.33 125.22h.9M444.34 110.67h.9M439.52 100.04h.9M457.25 105.08h.9M485.75 144.4h.9M465.38 138.2h.9M441.28 99.68h.9M480.04 56.66h.9M471.41 132.42h.9M445.83 130.69h.9M396.35 74.3h.9M450.01 92.03h.9M432.25 109.29h.9M460.38 99.24h.9M460.92 82.47h.9M415.6 68.54h.9M497.32 66.23h.9M396.19 101.11h.9M451.18 110.11h.9M405.28 137.58h.9M435.25 91.99h.9M462.12 133.67h.9M459.92 102.64h.9M447.54 95.26h.9M426.92 106.17h.9M454.65 84.17h.9M444.02 91.16h.9M461.74 115.29h.9M438.31 119.17h.9M451.09 86.58h.9M397.78 97.91h.9M440.85 105.64h.9M431.14 96.47h.9M472.01 58.31h.9M453.95 117.74h.9M474 57.05h.9M438.03 119.9h.9M443.86 117.41h.9M472 99.1h.9M436.26 101.47h.9M438.63 86.54h.9M428.88 66.35h.9M431.96 100.68h.9M468.15 120.16h.9M461 120.18h.9M410.17 68.73h.9M429.06 92.18h.9M436.29 91.08h.9M464.94 131.91h.9M439.32 58.53h.9M406.06 58.06h.9M421.77 69.27h.9M445.56 120.14h.9M441.57 118.31h.9M444.2 114.38h.9M456.38 102.1h.9M437.86 63.19h.9M454.6 102.12h.9M404.57 142.55h.9M426.87 99.49h.9M456.44 99.04h.9M443.27 112.09h.9M439.27 94.59h.9M449.57 61.12h.9M431.86 104.85h.9M403.5 71.11h.9M417.55 133.62h.9M462.11 119.69h.9M471.41 102.48h.9M425.76 127.24h.9M458.38 111.07h.9M433.49 90.95h.9M449.01 105.6h.9M421.93 68.53h.9M439.88 103.34h.9M444.85 112.44h.9M441.57 97.76h.9M447.33 102.49h.9M474.82 57.74h.9M424.84 115.1h.9M403.31 62.87h.9M431.23 91h.9M414.29 137.94h.9M441.61 107.64h.9M441.26 104.29h.9M452.99 115.76h.9M436.76 97.74h.9M414.44 136.46h.9M405.24 134.12h.9M447.38 119.41h.9M460.14 138.23h.9M402.04 69.19h.9M445.97 98.78h.9M454.9 58.24h.9M453.47 60.24h.9M446.32 112.3h.9M453.65 114.22h.9M428.75 91.35h.9M447.06 94.45h.9M425.97 102.29h.9M433.45 117.06h.9M451.72 101.56h.9M462.05 127.64h.9M406.63 72.76h.9M455.2 110.61h.9M497.21 139.83h.9M453.9 122.02h.9M415.09 55.96h.9M448.92 100h.9M412.03 72.44h.9M473.85 133.33h.9M456.26 49.79h.9M478.84 105.88h.9M493.19 70.88h.9M417.44 69.25h.9M470.38 55.43h.9M443.9 92.06h.9M427.8 65.43h.9M428.09 100.03h.9M442.49 96.5h.9M494.4 70.5h.9M389.99 130.64h.9M448.51 137.33h.9M432.29 124.77h.9M447.53 105.52h.9M493.76 60.39h.9M457.95 116.92h.9M454.47 111.52h.9M445.41 120.81h.9M452.25 59.81h.9M439.43 118.97h.9M443.05 94.17h.9M465.52 121.62h.9M397.47 118.94h.9M440.05 107.71h.9M434.23 117.86h.9M390.54 117.07h.9M399.32 80.93h.9M444.96 116.8h.9M478.4 77.47h.9M467.47 130.99h.9M464.03 125.62h.9M466.43 112.73h.9M426.49 108.53h.9M430.4 105.28h.9M443.1 104h.9M443.31 118.16h.9M433.03 108.98h.9M465.67 123.1h.9M443.48 110.09h.9M423.41 128.07h.9M395.75 102.95h.9M485.33 140.35h.9M429.81 67.45h.9M435.71 108.97h.9M449.63 119.38h.9M398.99 90.01h.9M435.57 62.21h.9M457 119.13h.9M417.36 70.43h.9M418.27 67.45h.9M439.81 106.79h.9M450.4 55.69h.9M431.27 91.37h.9M403.92 65.89h.9M470.36 58.06h.9M459.91 104.52h.9M447.93 118.63h.9M454.78 111.95h.9M459.69 119.15h.9M398.1 111.23h.9M387.79 79.98h.9M412.27 141.39h.9M461.69 105.91h.9M431.92 111.46h.9M436.75 107.71h.9M449.41 108.05h.9M453.11 111.21h.9M415.66 69.26h.9M455.28 96.45h.9M442.15 104.65h.9M402.26 135.63h.9M437.02 88.31h.9M431.04 100.2h.9M448.18 108.37h.9M445.65 119.97h.9M439.05 92.3h.9M482.53 48.13h.9M447.53 95.5h.9M425.99 128.62h.9M453.78 110.65h.9M475.66 132.4h.9M439.6 103.09h.9M436.68 105.2h.9M498.34 52.03h.9M453.27 60.29h.9M464.07 107.94h.9M430.67 61.69h.9M472.46 108.51h.9M449.21 113.37h.9M485.24 57.79h.9M475.7 56.66h.9M425.36 69.12h.9M459.46 103.78h.9M470.93 123.69h.9M434.07 109.58h.9M452.08 54.74h.9M455.87 103.89h.9M448.56 89.02h.9M410.6 143.29h.9M467.3 119.26h.9M444.96 60.16h.9M438.27 122.17h.9M457.56 117.42h.9M445.15 106.35h.9M441.25 113.78h.9M437.49 101.31h.9M398.25 112.83h.9M418.41 69.91h.9M445.62 62.7h.9M433.18 65.51h.9M426.31 57.85h.9M496.06 58.35h.9M460.56 126.59h.9M435.43 62.41h.9M436.7 103.26h.9M432.73 92.83h.9M475.01 124.24h.9M422.78 69.24h.9M430.4 96.58h.9M428.15 127.37h.9M430.27 103.66h.9M403.61 68.61h.9M482.49 57.87h.9M432.06 101.79h.9M430.45 100.57h.9M434.76 100.47h.9M428.8 109.56h.9M423.3 68.12h.9M412.24 137.45h.9M397.19 109.1h.9M435.51 92.85h.9M439.51 110.28h.9M449.76 87.88h.9M447.52 119.06h.9M424.35 117.35h.9M438.47 108.99h.9M444.07 102.49h.9M428.34 99.03h.9M471.66 80.46h.9M394.67 88.94h.9M474.87 128.8h.9M449.04 113.71h.9M425.89 105.3h.9M444.22 100.7h.9M481.75 141.21h.9M463.73 131.7h.9M452.18 60.34h.9M451.08 116.02h.9M431.92 88.39h.9M471.77 122.95h.9M402.42 125.36h.9M444.53 84.74h.9M468.14 128.95h.9M440.83 106.58h.9M436.35 99.39h.9M459.76 96.69h.9M434.47 97.89h.9M438.5 110.94h.9M443.43 88.24h.9M447.26 109.98h.9M426.81 103.39h.9M456.37 104.54h.9M407.62 140.48h.9M419.95 68.31h.9M454.44 112.03h.9M399.66 124.7h.9M409.94 137.12h.9M472.85 116.91h.9M456.04 112.46h.9M470.57 55.21h.9M401.28 127.83h.9M459.86 104.49h.9M443.99 108.74h.9M449.21 112.59h.9M403.27 127.76h.9M425.14 114.49h.9M457.94 107.36h.9M442.88 96.43h.9M466.82 78.47h.9M447.91 114.94h.9M448.84 87.91h.9M439.01 91.64h.9M447.6 134.75h.9M437.35 96.92h.9M475.1 76.26h.9M435.62 108.6h.9M456.62 136.46h.9M449.73 86.2h.9M444.06 115.16h.9M392.45 120.67h.9M424.03 65.23h.9M407.1 142.11h.9M486.1 76.01h.9M426.19 98.67h.9M481.82 75.54h.9M461.84 58.25h.9M460.44 58.95h.9M390.4 88.19h.9M463.32 116.72h.9M465.92 124.21h.9M451.06 95.33h.9M486.19 52.88h.9M427.87 125.18h.9M433.05 106.96h.9M443.62 88.66h.9M439.34 62.71h.9M461.65 105.71h.9M453.79 111.79h.9M446.09 53.55h.9M459.48 129.83h.9M444.79 97.64h.9M435.57 60.33h.9M428.72 124.86h.9M439.18 114.35h.9M440.99 63.28h.9M443.95 107.97h.9M442.22 85.37h.9M470.73 138.21h.9M463.58 56.73h.9M434.26 63.94h.9M392.19 119.21h.9M434.93 99.82h.9M432.92 61.06h.9M429.2 66.77h.9M426.83 122.15h.9M463.19 124.52h.9M465.33 117.42h.9M439.42 110.48h.9M459.38 109.33h.9M457.76 114.46h.9M457.36 80.81h.9M420.22 70.98h.9M422.29 68.42h.9M389.91 101.44h.9M460.33 117.18h.9M395.76 116.36h.9M403.72 72.97h.9M411.85 73.25h.9M447.99 101.04h.9M401.51 69.98h.9M447.96 56.34h.9M433 111.5h.9M391.85 120.76h.9M448.39 93.66h.9M453.21 103.94h.9M449.63 116.67h.9M399.79 134.79h.9M441.05 125.43h.9M498.23 67.29h.9M447.17 109.67h.9M452.69 108.1h.9M428.15 93.82h.9M455.52 58.03h.9M431.73 102.64h.9M428.31 97.84h.9M477.43 76.74h.9M443.21 86.57h.9M454.76 110.9h.9M425.96 108.67h.9M455.26 107.67h.9M430.46 111.23h.9M432.76 120.28h.9M442.61 91.09h.9M447.64 109.82h.9M427.84 105.8h.9M398.44 117.18h.9M397.37 95.92h.9M442.69 98.28h.9M455.41 58.35h.9M397.6 96.02h.9M462.46 111.34h.9M438.43 106.75h.9M436.11 106.13h.9M450.54 94.08h.9M465.4 111.01h.9M442.05 101.71h.9M441.08 88.12h.9M446.07 106.53h.9M426.76 94.62h.9M449.63 96.69h.9M395.03 89.55h.9M449.74 111.21h.9M449.26 98.77h.9M436.05 96.09h.9M398.09 120.75h.9M445.46 92.69h.9M431.41 93.59h.9M441.91 132.26h.9M388.72 98h.9M468.03 57.09h.9M422.88 67.88h.9M438.88 118.15h.9M444.07 99.75h.9M434.55 107.77h.9M404.42 140.99h.9M454.32 86.03h.9M467.04 121.5h.9M441.85 109.43h.9M457.81 104.79h.9M389.58 131.76h.9M495.69 65.48h.9M432.99 88.56h.9M440.57 103.79h.9M431.2 111.5h.9M461.16 125.88h.9M466.13 133.13h.9M457.29 111.37h.9M451.35 99.22h.9M431.99 113.15h.9M412.14 134.7h.9M464.79 116.02h.9M437.54 137.15h.9M444.51 130.71h.9M465.54 57.67h.9M441.22 89.18h.9M442.72 114.18h.9M443.22 100.28h.9M427.09 93.83h.9M454.4 103.3h.9M502.87 64.73h.9M446.9 112.98h.9M425.51 104.04h.9M466.4 123.16h.9M447.26 112.56h.9M396.24 122.14h.9M396.13 116.16h.9M451.9 100.32h.9M401.45 77.06h.9M483.24 55.43h.9M444.3 109.8h.9M391.74 82.45h.9M457.04 106.22h.9M458.3 113.44h.9M390.27 115.93h.9M444.74 113.88h.9M465.59 78.25h.9M492.94 57.95h.9M422.5 128.14h.9M484.87 58.36h.9M397.42 81.04h.9M457.14 113.06h.9M430.28 65.87h.9M451.44 111.89h.9M436.59 105.34h.9M493.14 58.51h.9M429.2 102.16h.9M431.07 116.97h.9M436.56 60.67h.9M449.49 119.14h.9M469.41 122.47h.9M428.41 93.39h.9M439.2 101.08h.9M395.94 125.39h.9M401.84 125.7h.9M443.18 111.93h.9M449.57 116.63h.9M466.79 130h.9M403.36 129.23h.9M447.82 122.44h.9M425.38 102.76h.9M409.31 67.51h.9M445.56 132.47h.9M425 117.57h.9M454.82 109.83h.9M432.63 114.36h.9M399.64 128.63h.9M451.3 82.64h.9M454.25 115.57h.9M457.96 114.77h.9M388.43 132.19h.9M472.07 80.09h.9M436.53 118.16h.9M454.48 59.49h.9M446.69 107.69h.9M472.87 121.85h.9M456.29 118.63h.9M454.85 110.38h.9M453.17 105.2h.9M440.21 128.84h.9M442.26 103.88h.9M445.54 96.29h.9M436.32 61.46h.9M400.62 134.25h.9M443.73 100.95h.9M447.36 132.96h.9M433.4 118.06h.9M452.9 111.06h.9M429.64 89.83h.9M461.91 59.56h.9M443.39 96.13h.9M468.19 121.17h.9M439.26 63.18h.9M453.68 99.15h.9M446.52 128.03h.9M402.29 127.28h.9M436.88 109.98h.9M460.46 120.63h.9M433.64 120.35h.9M450.02 107.63h.9M469.11 142.99h.9M456.23 122.52h.9M439.05 99.22h.9M461.69 49.52h.9M459.52 117.53h.9M442.53 101.92h.9M454.05 113.54h.9M395.08 88.81h.9M429.21 65.85h.9M424.25 116.96h.9M443.51 86.09h.9M438.93 64.55h.9M461.08 105.58h.9M473.31 111.83h.9M481.43 132.22h.9M435.54 93.01h.9M389.32 70.25h.9M432.34 104.34h.9M451.66 111.47h.9M440.9 97.86h.9M422.57 66.59h.9M434.44 95.27h.9M406.6 133.97h.9M447.92 91h.9M452.75 97.72h.9M426.65 121.42h.9M451.82 114.62h.9M492.03 53h.9M450.07 102.98h.9M443.95 88.04h.9M462.96 129.28h.9M437.17 100.81h.9M488.26 57.22h.9M398.21 123.52h.9M467.35 137.46h.9M433.26 111.73h.9M495.46 62.21h.9M434.37 112.98h.9M470.24 56.85h.9M400.67 122.83h.9M427.62 95.7h.9M437.45 103.36h.9M461.11 132.65h.9M430.94 100.91h.9M432.31 66.5h.9M452.15 108.99h.9M479.41 57.51h.9M447.98 126.1h.9M452.61 128.34h.9M421.42 125.49h.9M453.91 105.33h.9M455.27 53.84h.9M439.26 125.77h.9M395.77 124.28h.9M445.87 104.82h.9M396.75 98h.9M398.91 88.57h.9M429.68 104.97h.9M448.48 84.48h.9M397.31 113.27h.9M479.59 77.96h.9" stroke="#9a9a9a" stroke-width=".9" fill="none"/>
<path d="M407.5 134.1 406.78 134 406.47 133.5 406.5 132.9 406.76 132 407 131.14 407 130.88 406.5 130.04 406 129.74 405.49 129.5 404.5 129.08 404 128.69 403.59 128 403.43 127.5 403.17 126.5 403 125.91 402.71 125 402.5 124.46 402 123.5 401.64 123 401.18 122.5 400.66 122 400.16 121.5 399.81 121 399.5 120.36 399.2 119.5 399 118.63 398.88 118 398.69 117 398.51 116 398.41 115.5 398.27 114.5 398.22 113.5 398.19 112.5 398.11 111.5 398 110.85 397.81 110 397.61 109 397.5 108.38 397.35 107.5 397.14 106.5 397 105.88 396.83 105 396.75 104 396.86 103 397 102.47 397.31 101.5 397.5 100.96 397.75 100 397.98 99 398.09 98.5 398.27 97.5 398.41 96.5 398.5 95.67 398.58 95 398.8 94 399 93.28 399.17 92.5 399.26 91.5 399.22 90.5 399.22 89.5 399.47 88.5 399.71 88 400.01 87.5 400.49 86.5 400.61 86 400.66 85 400.58 84 400.69 83 401 82.2 401.42 81.5 401.77 81 402.13 80.5 402.52 80 403 79.42 403.5 78.73 403.9 78 404.08 77.5 404.37 76.5 404.56 76 405 75.27 405.5 74.73 406 74.34 406.58 74 407.5 73.54 408 73.25 408.5 72.9 409.1 72.5 410 72.3 410.5 72.53 411.23 73 412 73.15 412.93 73 413.5 72.74 414 72.45 414.53 72 415 71.1 415.12 70.5 415.5 69.99 416.19 70 417 70.32 417.5 70.56 418.5 70.96 419 71.11 420 71.28 421 71.27 422 71.14 422.58 71 423.5 70.65 424 70.39 424.66 70 425.5 69.55 426 69.34 427 69.04 427.5 68.89 428.5 68.54 429 68.33 429.74 68 430.5 67.63 431 67.39 431.8 67 432.5 66.64 433 66.4 433.92 66 434.5 65.75 435.3 65.5 436 65.28 437 65.04 437.5 64.91 438.5 64.64 439.06 64.5 440 64.2 440.58 64 441.5 63.53 442 63.23 442.5 62.99 443.5 62.67 444.5 62.59 445.5 62.56 446.09 62.5 447 62.32 448 62.07 448.5 61.95 449.5 61.67 450.06 61.5 451 61.14 451.56 61 452.5 60.85 453.5 60.78 454.5 60.67 455.5 60.51 456 60.4 457 60.18 457.86 60 458.5 59.85 459.5 59.71 460.5 59.67 461.5 59.63 462.5 59.53 463 59.43 464 59.16 464.51 59 465.5 58.6 466 58.44 467 58.28 468 58.35 469 58.47 469.5 58.51 470.5 58.53 471.5 58.53 472.11 58.5 473 58.4 474 58.2 474.93 58 475.5 57.86 476.5 57.7 477.5 57.66 478.5 57.79 479.18 58 480 58.19 481 58.39 482 58.5 482.5 58.51 483.5 58.54 484.5 58.77 485 59.04 485.7 59.5 486.5 59.96 487 60.21 487.59 60.5 488.5 60.86 489 61.05 490 61.42 490.5 61.6 491.48 62 492 62.28 492.5 62.64 493 63.15 493.5 63.9 493.83 64.5 494.04 65 494.26 66 494 66.97 493.64 67.5 493.15 68 492.63 68.5 492.15 69 491.72 69.5 491.32 70 490.93 70.5 490.5 71.04 490 71.58 489.5 72.07 489 72.55 488.5 73.04 487.97 73.5 487 73.94 486 73.99 485.31 74 484.5 74.09 483.5 74.34 482.86 74.5 482 74.7 481 74.95 480.5 75.1 479.5 75.43 479 75.58 478 75.83 477.08 76 476.5 76.13 475.5 76.33 474.73 76.5 474 76.69 473 76.93 472.5 77.02 471.5 77.2 470.5 77.44 470 77.59 469 77.89 468.5 78.01 467.5 78.17 466.5 78.3 465.5 78.49 465 78.66 464 78.91 463 78.94 462 78.96 461.5 79.02 460.5 79.29 459.85 79.5 459 79.84 458.41 80 457.5 80.17 456.5 80.3 455.69 80.5 455 80.76 454.47 81 453.5 81.39 453 81.53 452 81.73 451 81.94 450.5 82.05 449.5 82.24 448.5 82.31 447.5 82.37 446.5 82.5 446 82.62 445 82.91 444.5 83.07 443.5 83.39 443 83.55 442 84 441.5 84.34 441 84.75 440.5 85.23 440 85.68 439.5 86.01 438.5 86.37 437.98 86.5 437 86.91 436.5 87.26 436 87.66 435.46 88 434.5 88.18 433.5 88.12 432.5 88.18 431.5 88.41 431 88.6 430.29 89 429.68 89.5 429.23 90 428.87 90.5 428.5 91.13 428.03 92 427.74 92.5 427.42 93 427 93.62 426.5 94.46 426.27 95 426 95.9 425.89 96.5 425.76 97.5 425.56 98.5 425.44 99 425.2 100 425.06 101 425.07 102 425.19 103 425.33 104 425.41 105 425.44 106 425.47 107 425.51 107.5 425.66 108.5 425.84 109.5 425.87 110.5 425.8 111.5 425.69 112.5 425.5 113.25 425.14 114 424.86 114.5 424.5 115.27 424.29 116 424.15 117 424.15 118 424.15 119 423.75 119.5 423.12 120 422.72 120.5 422.42 121 422.05 122 421.94 122.5 421.77 123.5 421.54 124.5 421.36 125 421 125.77 420.62 126.5 420.31 127 419.93 127.5 419.49 128 419 128.6 418.5 129.4 418.18 130 417.87 130.5 417.47 131 416.74 131.5 416 131.78 415.26 132 414.5 132.23 413.56 132.5 413 132.61 412 132.64 411 132.57 410 132.64 409.17 133 408.55 133.5 408 133.9 407.5 134.1ZM387 125.96 387.5 126.37 387.59 127 387.34 127.5ZM411.5 127.02 411 126.99 410 126.81 409.17 126.5 408.5 126.16 408 125.84 407.5 125.46 406.97 125 406.47 124.5 406 123.97 405.5 123.34 405 122.62 404.61 122 404.32 121.5 404 120.91 403.55 120 403.32 119.5 403 118.72 402.72 118 402.5 117.37 402.21 116.5 402 115.78 401.78 115 401.54 114 401.42 113.5 401.22 112.5 401.04 111.5 400.96 111 400.81 110 400.69 109 400.6 108 400.53 107 400.5 106.5 400.45 105.5 400.42 104.5 400.42 103.5 400.44 102.5 400.48 101.5 400.51 101 400.57 100 400.65 99 400.76 98 400.89 97 401 96.31 401.13 95.5 401.31 94.5 401.5 93.61 401.63 93 401.87 92 402.01 91.5 402.28 90.5 402.5 89.81 402.76 89 403 88.32 403.3 87.5 403.51 87 403.93 86 404.15 85.5 404.5 84.79 404.91 84 405.19 83.5 405.5 82.98 406 82.18 406.48 81.5 406.85 81 407.25 80.5 407.68 80 408.16 79.5 408.68 79 409.25 78.5 409.89 78 410.5 77.57 411 77.25 411.5 76.97 412.43 76.5 413 76.25 413.65 76 414.5 75.71 415.26 75.5 416 75.31 417 75.11 417.63 75 418.5 74.85 419.5 74.68 420.42 74.5 421 74.36 422 74.08 422.5 73.91 423.5 73.51 424 73.28 424.57 73 425.5 72.5 426 72.22 426.5 71.94 427.27 71.5 428 71.09 428.5 70.81 429.08 70.5 430 70.02 430.5 69.76 431.05 69.5 432 69.05 432.5 68.83 433.27 68.5 434 68.19 434.5 68 435.5 67.62 436 67.44 437 67.09 437.5 66.92 438.5 66.6 439 66.45 440 66.15 440.57 66 441.5 65.74 442.44 65.5 443 65.35 444 65.1 444.5 64.99 445.5 64.74 446.5 64.51 447 64.39 448 64.16 448.7 64 449.5 63.81 450.5 63.58 451 63.46 452 63.22 452.95 63 453.5 62.86 454.5 62.63 455.08 62.5 456 62.28 457 62.06 457.5 61.95 458.5 61.73 459.5 61.53 460 61.42 461 61.23 462 61.05 462.5 60.97 463.5 60.8 464.5 60.65 465.5 60.52 466 60.45 467 60.33 468 60.23 469 60.14 470 60.08 471 60.03 471.84 60 472.5 59.98 473.5 59.97 474.5 59.98 475.25 60 476 60.03 477 60.08 478 60.16 479 60.27 480 60.4 480.59 60.5 481.5 60.66 482.5 60.87 483 61 484 61.28 484.67 61.5 485.5 61.81 486 62.03 486.92 62.5 487.5 62.86 488 63.23 488.5 63.68 489 64.29 489.39 65 489.53 65.5 489.53 66.5 489.41 67 489 67.83 488.52 68.5 488.06 69 487.5 69.5 487 69.9 486.5 70.26 486 70.58 485.3 71 484.5 71.43 484 71.68 483.29 72 482.5 72.34 482 72.54 481 72.91 480.5 73.09 479.5 73.42 479 73.57 478 73.87 477.49 74 476.5 74.27 475.53 74.5 475 74.63 474 74.86 473.31 75 472.5 75.18 471.5 75.37 470.79 75.5 470 75.65 469 75.84 468 76 467.5 76.09 466.5 76.27 465.5 76.43 465 76.51 464 76.68 463 76.85 462.04 77 461.5 77.1 460.5 77.27 459.5 77.43 459 77.52 458 77.7 457 77.87 456.21 78 455.5 78.13 454.5 78.32 453.5 78.5 453 78.6 452 78.8 451.01 79 450.5 79.12 449.5 79.35 448.89 79.5 448 79.74 447.06 80 446.5 80.17 445.5 80.49 445 80.66 444.02 81 443.5 81.2 442.7 81.5 442 81.78 441.44 82 440.5 82.39 440 82.59 439.01 83 438.5 83.22 437.8 83.5 437 83.83 436.5 84.02 435.5 84.41 435 84.61 434 84.98 433.5 85.17 432.6 85.5 432 85.73 431.32 86 430.5 86.36 430 86.6 429.27 87 428.51 87.5 428 87.91 427.5 88.37 427 88.9 426.51 89.5 426.16 90 425.83 90.5 425.5 91.04 425 91.95 424.73 92.5 424.48 93 424.05 94 423.86 94.5 423.52 95.5 423.38 96 423.14 97 423 97.72 422.89 98.5 422.79 99.5 422.73 100.5 422.69 101.5 422.65 102.5 422.63 103.5 422.59 104.5 422.55 105.5 422.5 106.42 422.46 107 422.39 108 422.29 109 422.17 110 422.02 111 421.94 111.5 421.77 112.5 421.56 113.5 421.45 114 421.2 115 421 115.72 420.77 116.5 420.5 117.33 420.27 118 420 118.68 419.66 119.5 419.44 120 419 120.89 418.67 121.5 418.38 122 418 122.6 417.5 123.32 417 123.95 416.51 124.5 416.01 125 415.5 125.45 415 125.83 414.5 126.15 413.81 126.5 413 126.8 412 126.99 411.5 127.02ZM413 121.61 412 121.86 411 121.88 410 121.64 409.5 121.43 408.77 121 408.12 120.5 407.6 120 407.15 119.5 406.76 119 406.41 118.5 406 117.85 405.54 117 405.29 116.5 405 115.86 404.65 115 404.47 114.5 404.14 113.5 404 113 403.72 112 403.5 111 403.39 110.5 403.21 109.5 403.07 108.5 403 107.97 402.89 107 402.81 106 402.75 105 402.72 104 402.71 103 402.72 102 402.76 101 402.83 100 402.92 99 403 98.31 403.1 97.5 403.24 96.5 403.42 95.5 403.52 95 403.72 94 403.97 93 404.1 92.5 404.39 91.5 404.55 91 404.88 90 405.07 89.5 405.47 88.5 405.68 88 406 87.33 406.42 86.5 406.69 86 407 85.49 407.5 84.71 408 84.01 408.4 83.5 408.83 83 409.3 82.5 409.82 82 410.39 81.5 411 81.02 411.5 80.66 412 80.33 412.55 80 413.49 79.5 414 79.26 414.61 79 415.5 78.67 416.06 78.5 417 78.25 418 78.05 418.5 77.97 419.5 77.82 420.5 77.67 421.5 77.5 422 77.39 423 77.1 423.5 76.92 424.39 76.5 425 76.16 425.5 75.85 426.03 75.5 426.75 75 427.46 74.5 428 74.12 428.5 73.77 429 73.43 429.66 73 430.47 72.5 431 72.19 431.5 71.9 432.24 71.5 433 71.11 433.5 70.87 434.31 70.5 435 70.2 435.5 69.99 436.5 69.6 437 69.41 438 69.06 438.5 68.89 439.5 68.57 440 68.42 441 68.13 441.5 67.99 442.5 67.72 443.36 67.5 444 67.34 445 67.09 445.5 66.96 446.5 66.71 447.35 66.5 448 66.33 449 66.08 449.5 65.94 450.5 65.67 451.14 65.5 452 65.26 452.93 65 453.5 64.84 454.5 64.55 455 64.41 456 64.13 456.5 63.99 457.5 63.72 458.36 63.5 459 63.33 460 63.09 460.5 62.98 461.5 62.75 462.5 62.55 463 62.45 464 62.27 465 62.11 465.76 62 466.5 61.89 467.5 61.77 468.5 61.67 469.5 61.6 470.5 61.54 471.5 61.5 472 61.49 473 61.48 474 61.5 474.5 61.51 475.5 61.57 476.5 61.65 477.5 61.76 478.5 61.91 479 62 480 62.2 481 62.47 481.5 62.62 482.5 62.99 483 63.21 483.56 63.5 484.33 64 484.9 64.5 485.31 65 485.57 65.5 485.73 66.5 485.5 67.36 485.15 68 484.75 68.5 484.24 69 483.62 69.5 483 69.93 482.5 70.24 482 70.52 481.03 71 480.5 71.24 479.87 71.5 479 71.84 478.5 72.01 477.5 72.34 476.97 72.5 476 72.78 475.14 73 474.5 73.16 473.5 73.39 472.95 73.5 472 73.7 471 73.88 470.29 74 469.5 74.14 468.5 74.3 467.5 74.44 467 74.51 466 74.65 465 74.78 464 74.91 463.21 75 462.5 75.09 461.5 75.22 460.5 75.34 459.5 75.46 459 75.52 458 75.66 457 75.79 456 75.93 455.48 76 454.5 76.15 453.5 76.31 452.5 76.48 452 76.57 451 76.77 450 76.98 449.5 77.09 448.5 77.33 447.84 77.5 447 77.73 446.1 78 445.5 78.19 444.56 78.5 444 78.7 443.15 79 442.5 79.24 441.83 79.5 441 79.82 440.5 80.02 439.5 80.42 439 80.62 438.03 81 437.5 81.21 436.73 81.5 436 81.77 435.35 82 434.5 82.29 433.85 82.5 433 82.77 432.22 83 431.5 83.21 430.52 83.5 430 83.66 429.03 84 428.5 84.22 427.9 84.5 427.07 85 426.5 85.43 426 85.88 425.5 86.41 425.03 87 424.66 87.5 424.33 88 424 88.51 423.5 89.35 423.13 90 422.85 90.5 422.5 91.16 422.07 92 421.83 92.5 421.5 93.24 421.2 94 421 94.59 420.75 95.5 420.54 96.5 420.46 97 420.35 98 420.29 99 420.25 100 420.23 101 420.21 102 420.19 103 420.16 104 420.12 105 420.06 106 420 106.7 419.93 107.5 419.81 108.5 419.66 109.5 419.5 110.41 419.39 111 419.16 112 419 112.61 418.75 113.5 418.5 114.27 418.24 115 418 115.61 417.61 116.5 417.36 117 417 117.68 416.5 118.49 416.14 119 415.75 119.5 415.3 120 414.78 120.5 414.13 121 413.5 121.38 413 121.61ZM435 78.02 434 78.08 433.25 78 432.5 77.52 432.42 77 432.59 76.5 433 75.91 433.5 75.38 434 74.94 434.58 74.5 435.36 74 436 73.65 436.5 73.39 437.32 73 438 72.73 438.56 72.5 439.5 72.18 440.03 72 441 71.72 441.78 71.5 442.5 71.33 443.5 71.08 444 70.95 445 70.72 445.84 70.5 446.5 70.34 447.5 70.04 448 69.89 449 69.55 449.5 69.38 450.46 69 451 68.79 451.68 68.5 452.5 68.16 453 67.94 454 67.5 454.5 67.29 455.16 67 456 66.65 456.5 66.45 457.5 66.06 458 65.87 459 65.51 459.5 65.35 460.5 65.03 461 64.88 462 64.6 462.5 64.47 463.5 64.22 464.5 64.01 465 63.91 466 63.73 467 63.58 467.68 63.5 468.5 63.41 469.5 63.32 470.5 63.27 471.5 63.24 472.5 63.25 473.5 63.28 474.5 63.36 475.5 63.48 476 63.55 477 63.75 477.95 64 478.5 64.19 479.26 64.5 480 64.92 480.5 65.33 481 65.97 481.18 66.5 481.01 67.5 480.71 68 480.27 68.5 479.67 69 479 69.44 478.5 69.73 477.97 70 477 70.43 476.5 70.62 475.5 70.97 475 71.13 474 71.41 473.5 71.54 472.5 71.77 471.5 71.97 471 72.07 470 72.24 469 72.38 468.09 72.5 467.5 72.57 466.5 72.68 465.5 72.76 464.5 72.84 463.5 72.9 462.5 72.95 461.5 73 461 73.01 460 73.04 459 73.07 458 73.08 457 73.1 456 73.11 455 73.13 454 73.16 453 73.19 452 73.25 451 73.33 450 73.45 449.5 73.52 448.5 73.69 447.5 73.91 447 74.04 446 74.32 445.45 74.5 444.5 74.81 444 75 443 75.37 442.5 75.56 441.5 75.95 441 76.14 440.1 76.5 439.5 76.72 438.74 77 438 77.25 437.22 77.5 436.5 77.7 435.5 77.93 435 78.02ZM412.5 116.24 411.5 116.47 410.5 116.36 409.69 116 409 115.52 408.5 115.05 408.04 114.5 407.68 114 407.37 113.5 407 112.83 406.62 112 406.41 111.5 406.06 110.5 405.9 110 405.63 109 405.5 108.41 405.31 107.5 405.15 106.5 405.03 105.5 404.98 105 404.9 104 404.85 103 404.84 102 404.85 101 404.9 100 404.98 99 405.03 98.5 405.15 97.5 405.3 96.5 405.5 95.5 405.6 95 405.84 94 406 93.45 406.29 92.5 406.5 91.9 406.85 91 407.06 90.5 407.5 89.6 407.83 89 408.13 88.5 408.5 87.95 409 87.29 409.5 86.72 410 86.22 410.5 85.79 411 85.41 411.64 85 412.5 84.51 413 84.26 413.56 84 414.5 83.6 415 83.4 416 83.06 416.5 82.92 417.5 82.75 418.5 82.75 419.5 82.98 420 83.29 420.5 83.9 420.68 84.5 420.67 85.5 420.5 86.28 420.27 87 420 87.67 419.62 88.5 419.39 89 419 89.83 418.71 90.5 418.5 91.03 418.2 92 418 92.84 417.89 93.5 417.79 94.5 417.73 95.5 417.71 96.5 417.72 97.5 417.73 98.5 417.75 99.5 417.76 100.5 417.76 101.5 417.74 102.5 417.7 103.5 417.64 104.5 417.55 105.5 417.49 106 417.36 107 417.18 108 417 108.85 416.84 109.5 416.56 110.5 416.39 111 416.01 112 415.79 112.5 415.5 113.08 415 113.93 414.6 114.5 414.18 115 413.66 115.5 413 115.98 412.5 116.24ZM469.5 70.04 468.5 70.15 467.5 70.23 466.5 70.27 465.5 70.25 464.5 70.18 463.5 70.05 463 69.93 462 69.54 461.5 69.02 461.5 68.64 461.84 68 462.45 67.5 463 67.19 463.5 66.93 464.5 66.52 465 66.36 466 66.08 466.5 65.96 467.5 65.77 468.5 65.63 469.5 65.54 470.5 65.5 471.5 65.54 472.5 65.65 473.5 65.86 474 66.02 474.85 66.5 475.2 67 475 67.83 474.5 68.33 474 68.67 473.37 69 472.5 69.33 471.99 69.5 471 69.75 470 69.95 469.5 70.04ZM412 111.58 411 111.73 410.24 111.5 409.5 111.01 409.02 110.5 408.66 110 408.35 109.5 408 108.8 407.67 108 407.5 107.5 407.21 106.5 407 105.54 406.9 105 406.76 104 406.66 103 406.61 102 406.6 101 406.63 100 406.7 99 406.82 98 406.98 97 407.08 96.5 407.32 95.5 407.5 94.87 407.79 94 408 93.47 408.46 92.5 408.74 92 409.07 91.5 409.5 90.94 410 90.44 410.61 90 411.5 89.64 412.5 89.67 413.17 90 413.7 90.5 414.05 91 414.5 91.96 414.69 92.5 414.96 93.5 415.07 94 415.26 95 415.41 96 415.5 96.71 415.59 97.5 415.67 98.5 415.73 99.5 415.76 100.5 415.75 101.5 415.72 102.5 415.64 103.5 415.52 104.5 415.45 105 415.26 106 415.01 107 414.86 107.5 414.5 108.5 414.28 109 414 109.54 413.5 110.32 413 110.9 412.5 111.31 412 111.58ZM412 107.07 411 107.39 410.18 107 409.71 106.5 409.38 106 409 105.19 408.78 104.5 408.53 103.5 408.45 103 408.34 102 408.3 101 408.32 100 408.41 99 408.5 98.37 408.68 97.5 408.98 96.5 409.18 96 409.5 95.34 410 94.64 410.5 94.2 411 93.98 411.57 94 412.33 94.5 412.72 95 413 95.5 413.37 96.5 413.52 97 413.72 98 413.86 99 413.93 100 413.94 101 413.89 102 413.78 103 413.59 104 413.46 104.5 413.1 105.5 412.85 106 412.5 106.56 412 107.07Z" stroke="#6a6a6a" stroke-width="0.7" fill="none" stroke-linejoin="round"/>
<rect x="387" y="36.5" width="126" height="109.5" fill="none" stroke="#231f20" stroke-width="1.1"/>
<line x1="425" y1="36.5" x2="425" y2="146" stroke="#231f20" stroke-width="1.2"/>
<line x1="387" y1="81.9" x2="513" y2="81.9" stroke="#231f20" stroke-width="1.2"/>
<path d="M387 99h-3.0M387 91.26h-1.8M387 86.74h-1.8M387 83.53h-1.8M387 81.04h-1.8M387 79h-1.8M387 77.28h-1.8M387 75.79h-1.8M387 74.48h-1.8M387 73h-3.0M387 65.26h-1.8M387 60.74h-1.8M387 57.53h-1.8M387 55.04h-1.8M387 53h-1.8M387 51.28h-1.8M387 49.79h-1.8M387 48.48h-1.8M387 47.6h-3.0M387 39.86h-1.8M387 127.2h-3.0M387 133.8h-1.8M387 140.4h-1.8M387 120.6h-1.8M387 114h-1.8M387 107.4h-1.8M387 146h-3.0M416.5 146v3.0M425.03 146v1.8M430.02 146v1.8M433.56 146v1.8M436.3 146v1.8M438.55 146v1.8M440.44 146v1.8M442.09 146v1.8M443.54 146v1.8M445.3 146v3.0M453.83 146v1.8M458.82 146v1.8M462.36 146v1.8M465.1 146v1.8M467.35 146v1.8M469.24 146v1.8M470.89 146v1.8M472.34 146v1.8M473.6 146v3.0M482.13 146v1.8M487.12 146v1.8M490.66 146v1.8M493.4 146v1.8M495.65 146v1.8M497.54 146v1.8M499.19 146v1.8M500.64 146v1.8M501.5 146v3.0M510.03 146v1.8M400.9 146v3.0M392.9 146v1.8M408.9 146v1.8M387 146v3.0" stroke="#231f20" stroke-width=".8" fill="none"/>
<text x="377.8" y="49.81" font-size="7.8" text-anchor="end" fill="#231f20">10</text>
<text x="378.1" y="46.61" font-size="5.62" fill="#231f20">5</text>
<text x="377.8" y="75.11" font-size="7.8" text-anchor="end" fill="#231f20">10</text>
<text x="378.1" y="71.91" font-size="5.62" fill="#231f20">4</text>
<text x="377.8" y="101.51" font-size="7.8" text-anchor="end" fill="#231f20">10</text>
<text x="378.1" y="98.31" font-size="5.62" fill="#231f20">3</text>
<text x="377.8" y="129.31" font-size="7.8" text-anchor="end" fill="#231f20">0</text>
<text x="377.8" y="148.71" font-size="7.8" text-anchor="end" fill="#231f20">−472</text>
<text x="400.7" y="157.6" font-size="7.8" text-anchor="middle" fill="#231f20">0</text>
<text x="411.4" y="157.6" font-size="7.8" text-anchor="middle" fill="#231f20">10<tspan dy="-3.2" font-size="5.62">2</tspan></text>
<text x="444.2" y="157.6" font-size="7.8" text-anchor="middle" fill="#231f20">10<tspan dy="-3.2" font-size="5.62">3</tspan></text>
<text x="472" y="157.6" font-size="7.8" text-anchor="middle" fill="#231f20">10<tspan dy="-3.2" font-size="5.62">4</tspan></text>
<text x="499.7" y="157.6" font-size="7.8" text-anchor="middle" fill="#231f20">10<tspan dy="-3.2" font-size="5.62">5</tspan></text>
<text x="387.2" y="163.4" font-size="7.8" text-anchor="middle" fill="#231f20">−139</text>
<text x="390.8" y="46.9" font-size="7.9" fill="#231f20">8.1</text>
<text x="509.6" y="46.9" font-size="7.9" text-anchor="end" fill="#231f20">43.8</text>
<text x="388.8" y="144" font-size="7.9" fill="#231f20">36.7</text>
<text x="509.8" y="144" font-size="7.9" text-anchor="end" fill="#231f20">11.5</text>
<text x="439.9" y="33.2" font-size="9.6" textLength="20.6" lengthAdjust="spacingAndGlyphs" fill="#231f20">MAS</text>
<path d="M170.17 207.99h.9M104.51 210.87h.9M91.37 266.99h.9M54.05 254.16h.9M158.46 211.01h.9M112.96 235.93h.9M58.83 237.21h.9M95.73 276.26h.9M105.21 241.89h.9M102.14 268.96h.9M86.89 215.52h.9M154.28 218.65h.9M109.24 253.06h.9M102.93 199.86h.9M103.53 260.47h.9M101.92 232.25h.9M77.59 216h.9M100.98 262.15h.9M103.23 210.23h.9M58.69 268.49h.9M139.46 200.29h.9M87.83 274.21h.9M55.52 264.42h.9M100.29 242.62h.9M88.53 273.41h.9M87.25 276.1h.9M123.69 227.55h.9M96.72 260.59h.9M138.86 225.37h.9M160.32 206.52h.9M100.83 270.75h.9M107.87 241.13h.9M96.13 264.48h.9M73.27 291.59h.9M99.82 256.34h.9M92.62 265.72h.9M98.47 265.65h.9M57.34 267.05h.9M124.22 253.89h.9M137.19 202.77h.9M103.98 206.51h.9M55.42 235.76h.9M59.88 222.95h.9M142.05 222.37h.9M91.69 213.71h.9M103.13 238.97h.9M57.98 276.28h.9M100.75 228.68h.9M140.92 223.59h.9M101.24 242.25h.9M60.89 226.87h.9M129.44 202.57h.9M86.11 214.84h.9M93.55 264.48h.9M86.83 279.01h.9M159.35 210.86h.9M141.51 222.47h.9M93.09 231.45h.9M98.77 240.39h.9M106.08 278.99h.9M56.65 223.5h.9M58.39 227.3h.9M147.75 207.64h.9M120.19 225.31h.9M97.83 235.34h.9M87.72 212.88h.9M73.08 210.26h.9M96.92 259.12h.9M91.11 265.69h.9M107.38 245.93h.9M58.44 271.86h.9M130.37 206.38h.9M121.22 206.17h.9M89.6 269.03h.9M108.55 238.23h.9M110.7 226.6h.9M112.72 239.4h.9M119.37 234.01h.9M129.71 206.18h.9M55.59 267.1h.9M148.9 221.49h.9M160.43 208.1h.9M101.21 254.6h.9M63.2 285.31h.9M98.67 247.52h.9M157.92 213.05h.9M89.71 212.15h.9M104.1 210.25h.9M153.15 218.57h.9M100.45 207.78h.9M71.27 286.65h.9M61.34 273.57h.9M113.89 264.81h.9M68.44 292.13h.9M111.09 209.33h.9M78.05 217.73h.9M109.78 208.86h.9M55.45 254.75h.9M58.27 235.67h.9M122.71 205.37h.9M74.98 211.79h.9M124.48 224.49h.9M71.02 218.57h.9M153.92 217.39h.9M56.14 256.89h.9M69.08 290.37h.9M109.53 226.06h.9M99.67 233.49h.9M85.26 277.68h.9M107.35 240.82h.9M97.79 237.48h.9M142.54 222.53h.9M138.68 206.08h.9M105.31 284.17h.9M119.12 228.4h.9M109.78 253.48h.9M119.9 237.79h.9M60.22 269.55h.9M99.11 242.31h.9M123.88 263.99h.9M84.57 282.88h.9M112.97 254.9h.9M58.99 275.24h.9M93.05 205.43h.9M110.65 261.32h.9M112.46 207.72h.9M79.15 295.34h.9M78.95 289.89h.9M85.08 280.03h.9M108.24 205.25h.9M87.21 280.55h.9M110.75 267.35h.9M100.81 268.63h.9M104.31 255.82h.9M113.02 207.11h.9M125.2 227.22h.9M84.53 216.98h.9M165.69 215.24h.9M103.61 229.13h.9M84.95 280.54h.9M60.87 271.71h.9M90.05 273.89h.9M70.7 291.97h.9M53.92 218.66h.9M161.75 217.01h.9M106.35 208.59h.9M97.89 235.55h.9M130.74 205.77h.9M59.34 252.5h.9M115.26 227.43h.9M92.16 213.34h.9M135.49 206.61h.9M101.23 247.92h.9M88.09 214.12h.9M60.95 279.4h.9M118.66 255.76h.9M98.6 228.62h.9M77.37 289.33h.9M99.66 245.39h.9M81.76 288.71h.9M127.21 224.53h.9M82.17 212.35h.9M95.11 231.74h.9M63.25 290.52h.9M53.74 241.72h.9M152.57 223.21h.9M109.24 259.36h.9M103.46 251.99h.9M153.48 210.69h.9M109.52 272.24h.9M120.71 265.21h.9M69.13 284.55h.9M109.47 275.22h.9M142.78 206.91h.9M118.93 225.21h.9M63.61 213.65h.9M82.55 287.61h.9M69.02 219.68h.9M94.83 265.85h.9M100.21 241.13h.9M54.75 255.34h.9M111.12 208.1h.9M155.15 208.44h.9M159.28 208.69h.9M97.04 209.06h.9M70.6 216.25h.9M110.54 266.48h.9M103.04 267.55h.9M97.71 256.09h.9M63.44 222.95h.9M112.48 258.51h.9M155.97 213.04h.9M104.59 265.91h.9M54.83 247.19h.9M82.09 283.81h.9M104 261.7h.9M99.96 253.19h.9M155.44 219.1h.9M98.4 274.91h.9M64.35 223.46h.9M99.91 207.4h.9M55.08 230.94h.9M107.39 243.38h.9M106.05 269.22h.9M156.93 216.77h.9M95.2 263.24h.9M109.72 225.02h.9M82.12 205.43h.9M150.11 200.71h.9M98.45 271.37h.9M99.59 257.37h.9M109.31 208.1h.9M106.19 240.4h.9M61.2 233.43h.9M116.34 250.47h.9M87.53 278.37h.9M117.78 206.3h.9M78.5 289.64h.9M58.3 254.62h.9M140.26 206.82h.9M118.91 261.98h.9M80.77 286.19h.9M91.93 212.93h.9M53.87 291.36h.9M111.04 235.12h.9M94.12 267.02h.9M155.89 205.9h.9M55.93 270.54h.9M70.08 285.3h.9M51.11 224.31h.9M100.34 244.15h.9M91.27 266.59h.9M86.45 215.84h.9M126 231.32h.9M59.71 268.79h.9M113.21 208h.9M103.85 246.23h.9M117.53 204.05h.9M155.84 226.2h.9M94.9 260.09h.9M93.72 232.66h.9M99.48 230.71h.9M86.45 277.25h.9M99.65 258.92h.9M54.49 251.04h.9M55.93 268.88h.9M81.02 217.81h.9M95.42 210.97h.9M81.41 215.76h.9M59.33 242.62h.9M127.75 224.96h.9M65.15 220.25h.9M94.77 235.54h.9M58.88 235.86h.9M63.9 285.08h.9M82.25 211.5h.9M103.16 265.34h.9M100.62 227.48h.9M63.48 285.37h.9M93.13 231.06h.9M108.41 245.14h.9M115.27 263.79h.9M109.56 208.18h.9M115.51 236.01h.9M60.65 234.21h.9M166.23 211.41h.9M57.1 262.69h.9M69.19 213.18h.9M109.86 242.83h.9M112.24 278.83h.9M88.15 285h.9M99.41 242.35h.9M79.56 290.06h.9M83.52 281.3h.9M94 262.76h.9M130.02 207.22h.9M82.43 217.34h.9M104.41 238.17h.9M83.99 284.18h.9M120.82 204.99h.9M156.92 214.94h.9M104.04 241.46h.9M56.88 273.87h.9M116.14 225.8h.9M88 215.18h.9M106.62 255.68h.9M138.76 223.79h.9M106.6 264.93h.9M131.82 223.95h.9M120.98 224.29h.9M74.42 292.92h.9M66.03 218.32h.9M74.41 216.04h.9M123.25 256.6h.9M101.69 255.81h.9M99.39 256.03h.9M95.44 209.5h.9M76.69 211.95h.9M94.58 261.96h.9M65.36 221.46h.9M108.99 271.02h.9M93.28 232.91h.9M106.29 252.18h.9M99.45 252.75h.9M167.57 207.11h.9M59.24 276.17h.9M95.35 212.1h.9M98.26 262.9h.9M147.54 207.51h.9M135.68 204.22h.9M115.38 229.78h.9M102.53 245.33h.9M142.73 231.18h.9M71.34 289.62h.9M100.69 227.14h.9M102.21 268.37h.9M58.78 238.13h.9M151.18 221.4h.9M110.77 239.07h.9M64.04 220.78h.9M60.98 275.62h.9M105.72 234.4h.9M108.51 209.95h.9M63.43 216.36h.9M58.03 259.66h.9M97.4 282.34h.9M134.76 205.33h.9M131.47 224h.9M157.84 219.2h.9M95.77 236.32h.9M123.06 199.74h.9M79.26 215.69h.9M157.01 206.96h.9M158.65 208.43h.9M88.63 285.13h.9M157.92 207.57h.9M69.43 213.21h.9M60.39 278.44h.9M69.06 291.19h.9M102.32 260.81h.9M67.7 215.02h.9M115.36 251.57h.9M153.73 220.34h.9M142.24 202.9h.9M94.66 268.03h.9M98.55 252.35h.9M60.43 267.82h.9M111.13 259.6h.9M153.32 202.9h.9M110.23 209.05h.9M95.23 263.03h.9M60.33 273.85h.9M103.97 258.18h.9M111.67 251.32h.9M88.76 276.6h.9M67.77 288.61h.9M112.01 251.86h.9M99.9 235.73h.9M58.15 239.16h.9M95.83 232.78h.9M55.64 259.66h.9M158.7 207.71h.9M124.48 268.67h.9M95.77 210.11h.9M123.48 249.13h.9M156.24 205.27h.9M112.04 240.87h.9M81.18 212.84h.9M97.83 210.16h.9M103.73 254.9h.9M97.66 234.32h.9M111.88 208.33h.9M97.14 237.41h.9M107.83 246h.9M105.2 210.47h.9M92.03 268.62h.9M119.75 234.06h.9M97.04 237.31h.9M87.79 215.82h.9M52.47 252.7h.9M112.28 269.05h.9M67.21 291.29h.9M105.6 271.32h.9M148.26 204.75h.9M111.42 209.33h.9M73.39 216.78h.9M94.85 265.9h.9M102.07 243.4h.9M86.08 280h.9M59.91 245.75h.9M101.46 261.47h.9M94.4 261.24h.9M54.22 276.68h.9M59.88 276h.9M85.17 279.84h.9M96.06 259.74h.9M154.81 218.37h.9M113.12 244.41h.9M74.12 294h.9M96.81 209.25h.9M96.58 235.68h.9M64.84 216.23h.9M126 229.65h.9M56.37 259.19h.9M81.99 209.08h.9M78.7 285.99h.9M126.37 206.54h.9M100.67 205.74h.9M93.52 211.4h.9M109.24 207.54h.9M55.44 271.72h.9M54.89 239.15h.9M94.8 231.64h.9M95.07 263.11h.9M60.39 287.61h.9M60.77 270.7h.9M90 210.97h.9M73.03 206.65h.9M86.33 288.05h.9M99.52 268.44h.9M155.76 212.49h.9M122.63 207.29h.9M102.76 252.77h.9M93.25 233.45h.9M94.17 213h.9" stroke="#6a6a6a" stroke-width=".9" fill="none"/>
<path d="M59.22 236.59h.9M132.09 224.48h.9M99.83 210.29h.9M98.06 234.3h.9M109.21 272.77h.9M93.65 234.37h.9M116.23 246.8h.9M101.81 207.62h.9M120.45 204.97h.9M51.5 252.45h.9M59.38 228.8h.9M57.76 264.84h.9M112.44 226.12h.9M108.46 263.52h.9M113.17 274.45h.9M57.46 276.4h.9M51.91 249.91h.9M149.28 208.19h.9M127.1 234.1h.9M107.81 250.9h.9M107.69 208.14h.9M102.52 234.9h.9M95.98 209.9h.9M129.55 238.74h.9M67.63 290.27h.9M107.98 275.28h.9M99.07 230.43h.9M78.7 288.57h.9M60.34 236.06h.9M93.93 261.48h.9M94.54 261.2h.9M87.16 213.87h.9M109.53 250.98h.9M93.93 279.89h.9M141.15 205.21h.9M57.8 225.32h.9M131.94 206.03h.9M57.49 248.69h.9M54.01 265.65h.9M88.75 282.1h.9M104.93 228.95h.9M96.48 196.62h.9M96.37 233.67h.9M112.05 230.88h.9M138.91 206.18h.9M119.1 227.95h.9M72.48 208.57h.9M98.11 275.96h.9M107.72 238.42h.9M61.37 223.34h.9M116.89 225.33h.9M107.28 209.31h.9M79.57 217.57h.9M59.34 275.7h.9M69.76 295.28h.9M96.18 236.45h.9M61.32 235.75h.9M59.54 278.45h.9M61.17 277.12h.9M125.68 230.14h.9M104.32 228.24h.9M55.97 211.46h.9M54.94 246.28h.9M116.66 248.92h.9M111.46 248.25h.9M91.81 269.86h.9M116.28 226.68h.9M109.93 229.22h.9M98.91 258.99h.9M138.06 206.62h.9M59.74 228.53h.9M60.04 295.09h.9M122.6 267.28h.9M91.51 267.54h.9M105.33 208.82h.9M107.92 258.92h.9M159.74 211.51h.9M158.9 215.75h.9M76.64 215.13h.9M115.67 230.7h.9M74.3 292.66h.9M62.22 220.06h.9M109.93 229.46h.9M90.18 276.86h.9M78.02 294.08h.9M60.27 225.98h.9M104.01 247.8h.9M52.42 258.22h.9M77.29 288.57h.9M102.12 209.27h.9M107.49 252.85h.9M110.91 258.28h.9M136.69 200.05h.9M154.41 203.81h.9M92.91 212.08h.9M65.5 221.89h.9M79.04 217.3h.9M99.31 264.83h.9M79.81 286.17h.9M103.87 255.23h.9M123.82 224.3h.9M79.59 214.59h.9M94.94 263.11h.9M102.61 239.24h.9M134.44 206.52h.9M152.9 209.42h.9M154.78 217.55h.9M71.88 211.6h.9M60.44 270.63h.9M99.39 209.39h.9M84.69 212.96h.9M102.67 210.94h.9M108.32 225.59h.9M103.13 255.32h.9M91.83 267.67h.9M76.16 295.89h.9M101.28 251.8h.9M148.14 206.82h.9M74.89 214.39h.9M111.26 209.24h.9M141.98 222.21h.9M114.44 265.06h.9M108.05 249.62h.9M72.33 217.64h.9M58.5 226.61h.9M107.57 209.46h.9M93.1 263.14h.9M77.25 288.22h.9M62.69 279.89h.9M89.65 276.92h.9M108.57 204.15h.9M131.86 223.86h.9M99.95 233.47h.9M97.1 263.21h.9M98.18 236.25h.9M116.35 282.96h.9M132.85 206.59h.9M106.37 257.7h.9M55.69 245.14h.9M156.29 213.9h.9M153.36 219.01h.9M121.77 225.75h.9M160.48 209.09h.9M61.5 273.48h.9M65.72 222.5h.9M149.6 208.28h.9M110.92 270.26h.9M76.63 204.4h.9M102.95 209.67h.9M89.2 214.05h.9M88.21 290.64h.9M103.67 259.53h.9M103.19 243.59h.9M100.19 241.45h.9M166.85 216.1h.9M81.81 287.34h.9M157.77 201.08h.9M135.64 224.57h.9M97.82 229.43h.9M58.35 266.38h.9M56.71 232.33h.9M110.32 228.16h.9M131.84 204.63h.9M137.47 206.11h.9M84.4 292.98h.9M100.53 252.55h.9M113.37 240.79h.9M73.66 217.88h.9M94.97 262.2h.9M109.96 252.82h.9M100.29 230.2h.9M65.58 222.41h.9M75.16 216.93h.9M71.64 288.49h.9M121.61 248.55h.9M64.28 215.83h.9M138.04 206.91h.9M138.15 205.98h.9M78.03 292.08h.9M77.83 213.46h.9M64.71 215.22h.9M107.41 225.3h.9M119.51 277.18h.9M108.69 253.54h.9M61.86 233.27h.9M97.66 256.3h.9M109.22 247.59h.9M56.11 261.3h.9M97.33 264.15h.9M156.28 212.25h.9M100.98 250.41h.9M100.95 254.04h.9M81.19 215.4h.9M73.76 296.15h.9M102.06 261.76h.9M96.77 231.51h.9M106.01 255.19h.9M85.74 216.11h.9M119.36 201.82h.9M85.62 216.62h.9M143.39 207.21h.9M104.42 267.76h.9M108.86 237.07h.9M112.79 225.41h.9M57.34 266.72h.9M62.25 224.87h.9M87.84 214.81h.9M88.89 274.68h.9M58.44 271.21h.9M140.64 224.27h.9M57.13 258.34h.9M61.68 274.8h.9M77.37 214.83h.9M117.13 269.09h.9M86.35 213.29h.9M159.07 206.06h.9M98.32 236.79h.9M100.71 264.24h.9M64.54 284.43h.9M90.48 267.71h.9M60.51 267.65h.9M79.33 287.35h.9M97.53 264.56h.9M94.38 262.71h.9M58.88 258.43h.9M99.18 243.02h.9M59.82 264.75h.9M56.89 262.22h.9M58.99 261.02h.9M149.67 222.06h.9M101.03 233.86h.9M138.82 201.78h.9M147.66 207.03h.9M94.88 262.29h.9M97.3 265.74h.9M165.81 207.15h.9M90.35 205.02h.9M101.32 226.97h.9M65.72 294.92h.9M100.46 250.22h.9M102.38 228.05h.9M70.96 286.22h.9M62.73 225.04h.9M108.24 246.77h.9M83.24 215.38h.9M59.13 271.14h.9M120.58 226.65h.9M72.62 291.09h.9M108.26 256.13h.9M164.18 199.58h.9M97.29 289.99h.9M95.89 260.15h.9M52.8 241.66h.9M79.23 296.1h.9M99.78 248.45h.9M86.35 274.87h.9M105.57 250.09h.9M109.19 258.2h.9M95.99 260.1h.9M113.8 226.69h.9M71.42 289.08h.9M97.95 258.8h.9M105.94 279.89h.9M110.41 247.29h.9M109.75 226.25h.9M56.54 273.22h.9M94.99 231.58h.9M103.52 267.63h.9M86.35 210.28h.9M120.43 205.65h.9M56.85 231.76h.9M136 206.81h.9M104.39 240.71h.9M110.99 242.76h.9M159.73 212.57h.9M59.69 267.45h.9M64.15 221.94h.9M108.48 265.99h.9M154.45 219.1h.9M65.13 281.17h.9M106.55 258.64h.9M155.95 206.81h.9M68.86 201.92h.9M131.24 224.53h.9M153.1 203.38h.9M59.27 274.18h.9M91.08 266.13h.9M97.56 257.76h.9M100.86 208.23h.9M100.73 208.08h.9M79.51 287.55h.9M88.97 278.98h.9M151.53 218.82h.9M159.35 210.67h.9M71.83 294.8h.9M65.47 223.61h.9M160.88 217.92h.9M86.08 275.02h.9M88.48 281.81h.9M65.8 292.5h.9M81.68 214.95h.9M98.46 262.59h.9M102.33 235.5h.9M163.96 211.29h.9M103.46 205.05h.9M121.48 204.36h.9M100.58 256.46h.9M137.79 206.82h.9M54.89 247.65h.9M60.33 280.44h.9M101.09 244.09h.9M119.77 248.35h.9M120.38 251.86h.9M111.54 250.25h.9M124.28 263.66h.9M124.05 224.24h.9M99.35 227.98h.9M105.07 235.02h.9M163.91 211.86h.9M101.86 258.69h.9M155.24 212.12h.9M100.27 239.8h.9M108.06 256.94h.9M158.46 214.55h.9M109.08 232.91h.9M110.1 203.69h.9M60.3 238.18h.9M108.51 243.26h.9M154.48 217.39h.9M59.78 223.38h.9M160.46 205.15h.9M142.81 205.97h.9M56.53 256.97h.9M87.57 276.93h.9M61.14 285.82h.9M157.95 209.68h.9M109.85 229.6h.9M89.52 213.02h.9M138.51 222.86h.9M67.23 215.73h.9M72.69 287.97h.9M86.81 280.36h.9M106.67 260.1h.9M89.71 279.2h.9M70.1 216.42h.9M105.95 288.2h.9M59.22 235.66h.9M104.2 265.44h.9M167.89 200.42h.9M122.26 206.86h.9M103.13 243.11h.9M145.15 203.87h.9M59.57 237.24h.9M75.42 292.97h.9M144.15 222.96h.9M83.37 294.13h.9M117.17 256.47h.9M82.42 295.51h.9M165.79 223.3h.9M120.21 204.34h.9M156.16 209.58h.9M99.73 245.18h.9M115.24 228.24h.9M109.67 265.69h.9M108.14 245.26h.9M102.96 248.61h.9M62.23 280.31h.9M85.69 282.53h.9M114.94 228.25h.9M74.24 216.41h.9M58.09 239.77h.9M105.6 206.76h.9M61.92 231.61h.9M64.42 278.46h.9M111.22 237.3h.9M90.75 214.57h.9M99.46 266.15h.9M114.97 242.38h.9M95.69 209.71h.9M58.69 228.52h.9M99.51 246.59h.9M64.84 284.18h.9M123.78 205.87h.9M126.47 226.93h.9M100.54 253.65h.9M89.83 270.53h.9M158.2 219.04h.9M52.56 283.48h.9M71.33 215.85h.9M67.77 217.41h.9M115.55 248.28h.9M114.81 264.29h.9M136.34 262.24h.9M163.87 211.02h.9M57.82 259.34h.9M97.31 236.26h.9M75.51 216.54h.9M114.68 208.73h.9M155.81 207.21h.9M97.75 265.57h.9M100.2 235.5h.9M99.98 231.35h.9M97.52 258.34h.9M97.37 231.76h.9M123.17 224.04h.9M99.45 262.22h.9M102.38 226.56h.9M119.81 225.32h.9M124.54 205.56h.9M68.13 219.93h.9M105 243.38h.9M95.26 263.5h.9M87.03 212.65h.9M94.99 292.29h.9M104.54 228.98h.9M80.02 212.84h.9M111.66 240.85h.9M77.01 211.39h.9M60.81 230.35h.9M171.08 208.46h.9M145.21 205.69h.9M55.77 241h.9M166.41 200.7h.9M97.63 260.71h.9M109.93 258.73h.9" stroke="#9a9a9a" stroke-width=".9" fill="none"/>
<path d="M76.3 288.51 75.3 288.67 74.3 288.67 73.58 288.5 72.95 288 72.6 287.5 72.27 287 71.8 286.42 71.3 285.95 70.73 285.5 70.12 285 69.5 284.5 68.8 284.06 68.3 283.9 67.55 284 66.96 284.5 66.55 285 65.97 285.5 65.3 285.55 64.94 285 65.18 284 65.63 283.5 66.12 283 66.37 282.5 66.33 281.5 66.17 281 65.8 280.12 65.55 279.5 65.3 278.89 64.87 278 64.53 277.5 64.12 277 63.62 276.5 63.07 276 62.5 275.5 62.02 275 61.71 274.5 61.47 273.5 61.36 272.5 61.26 272 61.02 271 60.86 270 60.8 269.42 60.65 268.5 60.45 267.5 60.31 266.5 60.28 266 60.22 265 60.15 264 60 263 59.8 262.18 59.59 261.5 59.34 260.5 59.28 260 59.26 259 59.21 258 58.98 257 58.84 256 59.09 255 59.3 254.36 59.41 253.5 59.39 252.5 59.3 251.9 59 251 58.75 250.5 58.3 249.6 58.14 249 58.3 248.15 58.57 247.5 58.9 247 59.3 246.43 59.8 245.54 59.96 245 60 244 59.8 243.2 59.63 242.5 59.8 241.82 60.15 241 60.38 240.5 60.65 239.5 60.73 238.5 60.81 238 61.09 237 61.3 236.25 61.43 235.5 61.62 234.5 61.8 233.99 62.13 233 62.05 232 61.87 231 62.07 230 62.3 229.5 62.71 228.5 62.85 228 63.07 227 63.3 226.3 63.71 225.5 64.09 225 64.52 224.5 64.96 224 65.37 223.5 65.8 222.89 66.3 222.05 66.62 221.5 66.99 221 67.61 220.5 68.3 220.17 68.92 220 69.8 219.91 70.8 219.89 71.8 219.77 72.8 219.51 73.3 219.27 73.8 218.92 74.3 218.32 74.8 217.64 75.3 217.22 75.85 217 76.69 217 77.3 217.16 78.22 217.5 78.8 217.71 79.8 217.96 80.3 218.02 80.91 218 81.8 217.8 82.62 217.5 83.3 217.27 84.3 217.02 84.8 216.95 85.8 216.82 86.8 216.57 87.3 216.37 87.97 216 88.72 215.5 89.3 215.14 89.8 214.93 90.8 214.64 91.3 214.5 92.3 214.12 92.8 213.9 93.65 213.5 94.3 213.21 94.83 213 95.8 212.59 96.3 212.35 97.05 212 97.8 211.72 98.67 211.5 99.3 211.38 100.3 211.27 101.3 211.3 102.3 211.37 103.3 211.31 104.3 211.09 104.8 210.94 105.8 210.6 106.3 210.46 107.3 210.25 108.3 210.06 108.8 209.96 109.8 209.79 110.8 209.74 111.8 209.65 112.48 209.5 113.3 209.22 113.92 209 114.8 208.71 115.58 208.5 116.3 208.23 116.8 207.98 117.61 207.5 118.3 207.13 118.8 206.96 119.72 207 120.3 207.28 120.8 207.59 121.8 207.93 122.8 207.94 123.8 207.75 124.68 207.5 125.3 207.3 126.3 207.07 127.3 207.01 128.3 207.12 129.3 207.2 130.3 207.15 131.27 207 131.8 206.9 132.8 206.84 133.8 206.99 134.3 207.06 135.3 207.17 136.3 207.24 137.3 207.28 138.3 207.28 139.3 207.26 140.3 207.3 141.3 207.39 142.3 207.49 142.8 207.51 143.3 207.5 144.3 207.37 145.3 207.34 145.8 207.53 146.59 208 147.3 208.35 147.8 208.56 148.8 208.84 149.41 209 150.3 209.25 150.99 209.5 151.8 209.83 152.3 210.09 152.92 210.5 153.51 211 154.06 211.5 154.6 212 155.06 212.5 155.38 213 155.59 214 155.5 215 155.3 215.89 155.01 216.5 154.46 217 153.8 217.3 153.14 217.5 152.3 217.73 151.61 218 150.8 218.45 150.3 218.78 149.8 219.12 149.26 219.5 148.66 220 148.17 220.5 147.5 221 146.8 221.06 145.8 221 144.8 221.25 144.07 221.5 143.3 221.69 142.3 221.83 141.5 222 140.8 222.24 140.03 222.5 139.3 222.78 138.3 223 137.8 223.08 136.8 223.15 135.8 223.15 134.8 223.14 133.8 223.16 132.8 223.25 131.8 223.42 131.3 223.57 130.4 224 129.8 224.39 129.3 224.58 128.53 224.5 127.8 224.29 126.8 224.03 126.3 223.94 125.3 223.83 124.3 223.79 123.3 223.85 122.4 224 121.8 224.15 120.8 224.36 119.8 224.45 119.28 224.5 118.3 224.7 117.3 224.85 116.3 224.76 115.3 224.72 114.3 224.86 113.58 225 112.8 225.1 111.8 225.02 111.3 224.94 110.3 224.85 109.3 224.9 108.63 225 107.8 225.18 106.8 225.38 106.23 225.5 105.3 225.74 104.3 225.98 103.8 226.12 102.8 226.38 102.11 226.5 101.3 226.63 100.3 226.89 99.8 227.09 98.96 227.5 98.3 227.84 97.8 228.1 97.03 228.5 96.3 228.81 95.49 229 94.8 229.12 93.96 229.5 93.56 230 93.3 230.76 93.22 231.5 93.15 232.5 93.15 233.5 93.3 234.02 93.8 234.7 94.3 235.16 94.8 235.58 95.3 236.05 95.8 236.64 96.3 237.36 96.73 238 97.06 238.5 97.37 239 97.8 239.81 98.16 240.5 98.42 241 98.8 241.73 99.11 242.5 99.3 243.25 99.37 244 99.3 244.94 99.19 245.5 98.96 246.5 98.8 247.29 98.68 248 98.49 249 98.3 249.75 98.15 250.5 98.05 251.5 98.14 252.5 98.3 253.13 98.55 254 98.48 255 98.14 255.5 97.57 256 97.04 256.5 96.65 257 96.3 257.64 95.9 258.5 95.61 259 95.2 259.5 94.57 260 93.94 260.5 93.6 261 93.58 262 93.3 262.59 92.8 263.07 92.29 263.5 91.72 264 91.2 264.5 90.73 265 90.3 265.55 89.8 266.5 89.65 267 89.45 268 89.3 268.68 89 269.5 88.75 270 88.3 270.82 88.02 271.5 87.8 272.23 87.61 273 87.3 273.82 86.8 274.42 86.3 274.84 85.8 275.35 85.36 276 85.14 276.5 84.92 277.5 84.91 278.5 84.88 279.5 84.79 280 84.3 280.75 83.8 281.08 83.06 281.5 82.51 282 82.15 282.5 81.8 283.07 81.3 283.72 80.8 284.24 80.3 284.72 79.8 285.16 79.18 285.5 78.3 285.73 77.71 286 77.3 286.76 77.18 287.5 76.8 288.18 76.3 288.51ZM70.8 291.73 69.8 291.86 69.62 291 70.3 290.54 71.07 291 70.8 291.73ZM94.8 224.02 93.8 224.15 92.8 224.26 91.8 224.33 90.8 224.37 89.8 224.34 88.8 224.25 87.8 224.06 87.3 223.87 86.78 223.5 86.8 222.71 87.23 222 87.7 221.5 88.25 221 88.8 220.56 89.3 220.2 89.8 219.85 90.33 219.5 91.16 219 91.8 218.65 92.3 218.38 93.03 218 93.8 217.63 94.3 217.4 95.2 217 95.8 216.75 96.4 216.5 97.3 216.15 97.8 215.96 98.8 215.6 99.3 215.43 100.3 215.09 100.8 214.93 101.8 214.63 102.3 214.48 103.3 214.19 104 214 104.8 213.79 105.8 213.54 106.3 213.42 107.3 213.19 108.16 213 108.8 212.86 109.8 212.66 110.6 212.5 111.3 212.36 112.3 212.18 113.3 212 113.8 211.91 114.8 211.73 115.8 211.56 116.3 211.47 117.3 211.3 118.3 211.12 118.96 211 119.8 210.84 120.8 210.66 121.66 210.5 122.3 210.38 123.3 210.19 124.3 210.02 124.8 209.92 125.8 209.75 126.8 209.6 127.5 209.5 128.3 209.38 129.3 209.26 130.3 209.15 131.3 209.06 132.23 209 132.8 208.96 133.8 208.92 134.8 208.89 135.8 208.89 136.8 208.92 137.8 208.96 138.31 209 139.3 209.08 140.3 209.19 141.3 209.34 142.13 209.5 142.8 209.64 143.8 209.89 144.3 210.04 145.3 210.38 145.8 210.59 146.66 211 147.3 211.39 147.8 211.76 148.3 212.25 148.8 212.97 148.99 213.5 148.96 214.5 148.78 215 148.3 215.72 147.8 216.26 147.3 216.69 146.8 217.05 146.08 217.5 145.3 217.91 144.8 218.15 143.98 218.5 143.3 218.77 142.61 219 141.8 219.26 140.94 219.5 140.3 219.68 139.3 219.91 138.8 220.01 137.8 220.21 136.8 220.38 135.98 220.5 135.3 220.6 134.3 220.73 133.3 220.84 132.3 220.93 131.3 221 130.8 221.04 129.8 221.11 128.8 221.16 127.8 221.21 126.8 221.25 125.8 221.28 124.8 221.31 123.8 221.34 122.8 221.37 121.8 221.39 120.8 221.42 119.8 221.45 118.8 221.48 118.07 221.5 117.3 221.53 116.3 221.56 115.3 221.61 114.3 221.65 113.3 221.7 112.3 221.76 111.3 221.83 110.3 221.9 109.3 221.98 108.8 222.03 107.8 222.13 106.8 222.23 105.8 222.35 104.8 222.47 104.3 222.54 103.3 222.68 102.3 222.82 101.3 222.97 100.8 223.05 99.8 223.21 98.8 223.37 98.03 223.5 97.3 223.62 96.3 223.78 95.3 223.94 94.8 224.02ZM74.8 279.52 74.05 279.5 73.3 279.41 72.3 279.13 71.8 278.92 71 278.5 70.3 278.04 69.8 277.65 69.3 277.21 68.8 276.71 68.3 276.16 67.8 275.54 67.4 275 67.06 274.5 66.74 274 66.3 273.24 65.9 272.5 65.66 272 65.3 271.22 64.99 270.5 64.79 270 64.42 269 64.25 268.5 63.94 267.5 63.8 267 63.53 266 63.3 265.04 63.18 264.5 62.98 263.5 62.81 262.5 62.73 262 62.59 261 62.47 260 62.38 259 62.31 258 62.28 257.5 62.23 256.5 62.21 255.5 62.2 254.5 62.22 253.5 62.26 252.5 62.3 251.86 62.36 251 62.44 250 62.56 249 62.69 248 62.8 247.32 62.93 246.5 63.13 245.5 63.3 244.72 63.46 244 63.72 243 63.86 242.5 64.15 241.5 64.3 241 64.62 240 64.8 239.48 65.13 238.5 65.3 237.99 65.62 237 65.8 236.38 66.03 235.5 66.25 234.5 66.33 234 66.46 233 66.55 232 66.64 231 66.75 230 66.82 229.5 67.04 228.5 67.3 227.69 67.59 227 67.86 226.5 68.3 225.84 68.8 225.24 69.3 224.76 69.8 224.37 70.37 224 71.3 223.55 71.8 223.38 72.8 223.13 73.8 223 74.3 222.98 75.3 223 75.8 223.04 76.8 223.17 77.8 223.35 78.47 223.5 79.3 223.73 80.2 224 80.8 224.24 81.34 224.5 81.92 225 82.12 226 81.92 227 81.79 227.5 81.57 228.5 81.41 229.5 81.35 230.5 81.41 231.5 81.6 232.5 81.8 233.16 82.12 234 82.35 234.5 82.8 235.37 83.16 236 83.47 236.5 83.8 237.03 84.3 237.75 84.8 238.41 85.3 238.99 85.8 239.48 86.3 239.86 86.8 240.14 87.8 240.41 88.8 240.4 89.8 240.31 90.8 240.33 91.49 240.5 92.3 240.91 92.8 241.35 93.3 241.95 93.63 242.5 93.88 243 94.24 244 94.37 244.5 94.56 245.5 94.66 246.5 94.68 247.5 94.62 248.5 94.47 249.5 94.3 250.29 94.09 251 93.8 251.76 93.44 252.5 93.15 253 92.8 253.52 92.3 254.12 91.8 254.63 91.3 255.08 90.8 255.51 90.23 256 89.71 256.5 89.27 257 88.8 257.64 88.3 258.5 88.06 259 87.8 259.58 87.45 260.5 87.27 261 86.94 262 86.77 262.5 86.47 263.5 86.3 264.04 86.01 265 85.8 265.66 85.54 266.5 85.3 267.21 85.03 268 84.8 268.63 84.47 269.5 84.27 270 83.84 271 83.62 271.5 83.3 272.15 82.85 273 82.57 273.5 82.27 274 81.8 274.73 81.3 275.42 80.84 276 80.41 276.5 79.92 277 79.38 277.5 78.8 277.97 78.3 278.32 77.8 278.62 77.01 279 76.3 279.26 75.3 279.47 74.8 279.52ZM133.3 219.03 132.3 219.08 131.3 219.11 130.3 219.11 129.3 219.08 128.3 219.03 127.8 219 126.8 218.91 125.8 218.81 124.8 218.68 123.8 218.52 123.3 218.43 122.3 218.23 121.3 218 120.8 217.86 119.8 217.55 119.3 217.33 118.63 217 118.14 216.5 118.3 215.69 118.8 215.15 119.3 214.76 119.8 214.43 120.52 214 121.3 213.61 121.8 213.37 122.62 213 123.3 212.73 123.88 212.5 124.8 212.18 125.34 212 126.3 211.71 127.09 211.5 127.8 211.32 128.8 211.11 129.38 211 130.3 210.84 131.3 210.7 132.3 210.6 133.3 210.52 133.8 210.5 134.8 210.46 135.8 210.47 136.7 210.5 137.3 210.54 138.3 210.63 139.3 210.77 140.3 210.96 140.8 211.08 141.8 211.38 142.3 211.57 143.23 212 143.8 212.37 144.3 212.82 144.77 213.5 144.89 214 144.8 214.65 144.32 215.5 143.81 216 143.3 216.38 142.8 216.7 142.24 217 141.3 217.42 140.8 217.61 139.8 217.94 139.3 218.09 138.3 218.34 137.5 218.5 136.8 218.63 135.8 218.79 134.8 218.91 133.8 218.99 133.3 219.03ZM76.3 273.01 75.3 273.28 74.3 273.34 73.3 273.18 72.76 273 71.8 272.53 71.3 272.19 70.8 271.79 70.3 271.32 69.8 270.78 69.3 270.15 68.84 269.5 68.53 269 68.24 268.5 67.8 267.66 67.49 267 67.28 266.5 66.89 265.5 66.72 265 66.4 264 66.26 263.5 66 262.5 65.8 261.59 65.68 261 65.5 260 65.36 259 65.3 258.43 65.2 257.5 65.13 256.5 65.08 255.5 65.06 254.5 65.07 253.5 65.1 252.5 65.16 251.5 65.25 250.5 65.31 250 65.43 249 65.59 248 65.79 247 65.89 246.5 66.13 245.5 66.3 244.9 66.57 244 66.8 243.32 67.09 242.5 67.3 241.99 67.73 241 67.96 240.5 68.3 239.83 68.75 239 69.04 238.5 69.35 238 69.8 237.29 70.3 236.57 70.72 236 71.11 235.5 71.53 235 72 234.5 72.58 234 73.3 233.58 73.8 233.47 74.33 233.5 75.3 233.83 75.8 234.11 76.36 234.5 77.01 235 77.59 235.5 78.12 236 78.61 236.5 79.07 237 79.49 237.5 79.89 238 80.3 238.57 80.8 239.31 81.23 240 81.52 240.5 81.8 241.04 82.28 242 82.51 242.5 82.8 243.19 83.13 244 83.3 244.5 83.64 245.5 83.8 246.08 84.05 247 84.26 248 84.36 248.5 84.52 249.5 84.62 250.5 84.68 251.5 84.7 252.5 84.69 253.5 84.64 254.5 84.56 255.5 84.45 256.5 84.31 257.5 84.24 258 84.08 259 83.88 260 83.77 260.5 83.54 261.5 83.3 262.41 83.14 263 82.83 264 82.66 264.5 82.3 265.48 82.1 266 81.8 266.69 81.42 267.5 81.16 268 80.8 268.65 80.3 269.45 79.91 270 79.53 270.5 79.09 271 78.6 271.5 78.02 272 77.32 272.5 76.8 272.79 76.3 273.01ZM135.8 216.59 134.8 216.73 133.8 216.81 132.8 216.82 131.8 216.76 130.8 216.63 130.18 216.5 129.3 216.2 128.8 215.95 128.28 215.5 128.3 214.51 128.8 214 129.3 213.7 129.8 213.44 130.8 213.08 131.3 212.94 132.3 212.73 133.3 212.59 134.3 212.52 135.3 212.52 136.3 212.6 137.3 212.77 138.17 213 138.8 213.3 139.3 213.67 139.65 214.5 139.3 215.11 138.8 215.54 137.92 216 137.3 216.22 136.3 216.5 135.8 216.59ZM74.8 267.03 74.27 267 73.3 266.75 72.78 266.5 72.06 266 71.51 265.5 71.05 265 70.67 264.5 70.3 263.96 69.8 263.08 69.52 262.5 69.3 262 68.91 261 68.75 260.5 68.46 259.5 68.3 258.83 68.12 258 67.96 257 67.83 256 67.79 255.5 67.72 254.5 67.69 253.5 67.7 252.5 67.75 251.5 67.8 250.85 67.89 250 68.03 249 68.22 248 68.34 247.5 68.59 246.5 68.8 245.85 69.1 245 69.31 244.5 69.77 243.5 70.04 243 70.34 242.5 70.8 241.83 71.3 241.22 71.8 240.71 72.3 240.29 72.8 239.96 73.8 239.53 74.3 239.42 75.3 239.42 75.8 239.53 76.8 239.95 77.3 240.27 77.8 240.67 78.3 241.16 78.8 241.75 79.3 242.45 79.64 243 79.91 243.5 80.3 244.3 80.6 245 80.8 245.56 81.11 246.5 81.3 247.23 81.49 248 81.67 249 81.8 249.94 81.87 250.5 81.95 251.5 81.98 252.5 81.98 253.5 81.93 254.5 81.84 255.5 81.78 256 81.65 257 81.46 258 81.3 258.69 81.09 259.5 80.8 260.45 80.61 261 80.3 261.78 79.98 262.5 79.72 263 79.3 263.75 78.8 264.49 78.39 265 77.93 265.5 77.37 266 76.8 266.41 76.3 266.67 75.3 266.98 74.8 267.03ZM75.8 262.22 74.8 262.39 73.8 262.18 73.3 261.93 72.73 261.5 72.24 261 71.8 260.44 71.3 259.62 71 259 70.79 258.5 70.45 257.5 70.3 256.97 70.08 256 69.92 255 69.83 254 69.8 253.5 69.78 252.5 69.8 251.86 69.86 251 69.98 250 70.16 249 70.3 248.43 70.57 247.5 70.8 246.87 71.19 246 71.46 245.5 71.8 244.96 72.3 244.32 72.8 243.83 73.3 243.46 74.3 243.04 74.8 242.98 75.3 243.01 76.3 243.35 76.8 243.67 77.3 244.11 77.8 244.69 78.3 245.44 78.61 246 78.84 246.5 79.22 247.5 79.38 248 79.63 249 79.8 249.95 79.88 250.5 79.97 251.5 80 252.5 79.98 253.5 79.9 254.5 79.8 255.22 79.67 256 79.44 257 79.29 257.5 78.94 258.5 78.72 259 78.3 259.83 77.86 260.5 77.46 261 76.96 261.5 76.3 261.98 75.8 262.22ZM75.8 258.19 74.8 258.43 73.8 258.06 73.3 257.61 72.85 257 72.58 256.5 72.3 255.84 72.05 255 71.85 254 71.79 253.5 71.74 252.5 71.78 251.5 71.84 251 72.02 250 72.3 249.05 72.53 248.5 72.8 247.98 73.3 247.29 73.8 246.83 74.57 246.5 75.3 246.49 75.8 246.68 76.3 247.03 76.8 247.59 77.3 248.45 77.53 249 77.8 249.88 77.93 250.5 78.06 251.5 78.1 252.5 78.05 253.5 77.9 254.5 77.79 255 77.46 256 77.25 256.5 76.8 257.26 76.3 257.83 75.8 258.19Z" stroke="#6a6a6a" stroke-width="0.7" fill="none" stroke-linejoin="round"/>
<rect x="50.3" y="187" width="126" height="110" fill="none" stroke="#231f20" stroke-width="1.1"/>
<line x1="86.5" y1="187" x2="86.5" y2="297" stroke="#231f20" stroke-width="1.2"/>
<line x1="50.3" y1="232.6" x2="176.3" y2="232.6" stroke="#231f20" stroke-width="1.2"/>
<path d="M50.3 272.5h-3.0M50.3 264.89h-1.8M50.3 260.44h-1.8M50.3 257.29h-1.8M50.3 254.84h-1.8M50.3 252.84h-1.8M50.3 251.15h-1.8M50.3 249.68h-1.8M50.3 248.39h-1.8M50.3 247.7h-3.0M50.3 240.09h-1.8M50.3 235.64h-1.8M50.3 232.49h-1.8M50.3 230.04h-1.8M50.3 228.04h-1.8M50.3 226.35h-1.8M50.3 224.88h-1.8M50.3 223.59h-1.8M50.3 222.2h-3.0M50.3 214.59h-1.8M50.3 210.14h-1.8M50.3 206.99h-1.8M50.3 204.54h-1.8M50.3 202.54h-1.8M50.3 200.85h-1.8M50.3 199.38h-1.8M50.3 198.09h-1.8M50.3 196.7h-3.0M50.3 189.09h-1.8M50.3 280.1h-3.0M50.3 285.6h-1.8M50.3 291.1h-1.8M50.3 297h-3.0M76.7 297v3.0M85.53 297v1.8M90.7 297v1.8M94.36 297v1.8M97.2 297v1.8M99.53 297v1.8M101.49 297v1.8M103.19 297v1.8M104.69 297v1.8M106.2 297v3.0M115.03 297v1.8M120.2 297v1.8M123.86 297v1.8M126.7 297v1.8M129.03 297v1.8M130.99 297v1.8M132.69 297v1.8M134.19 297v1.8M135.6 297v3.0M144.43 297v1.8M149.6 297v1.8M153.26 297v1.8M156.1 297v1.8M158.43 297v1.8M160.39 297v1.8M162.09 297v1.8M163.59 297v1.8M164.7 297v3.0M173.53 297v1.8M67.5 297v3.0M59.5 297v1.8M51.5 297v1.8M50.3 297v3.0" stroke="#231f20" stroke-width=".8" fill="none"/>
<text x="41.1" y="199.81" font-size="7.8" text-anchor="end" fill="#231f20">10</text>
<text x="41.4" y="196.61" font-size="5.62" fill="#231f20">5</text>
<text x="41.1" y="224.81" font-size="7.8" text-anchor="end" fill="#231f20">10</text>
<text x="41.4" y="221.61" font-size="5.62" fill="#231f20">4</text>
<text x="41.1" y="250.71" font-size="7.8" text-anchor="end" fill="#231f20">10</text>
<text x="41.4" y="247.51" font-size="5.62" fill="#231f20">3</text>
<text x="41.1" y="274.91" font-size="7.8" text-anchor="end" fill="#231f20">10</text>
<text x="41.4" y="271.71" font-size="5.62" fill="#231f20">2</text>
<text x="41.1" y="282.01" font-size="7.8" text-anchor="end" fill="#231f20">0</text>
<text x="41.1" y="299.91" font-size="7.8" text-anchor="end" fill="#231f20">−235</text>
<text x="67" y="308.6" font-size="7.8" text-anchor="middle" fill="#231f20">0</text>
<text x="75.1" y="308.6" font-size="7.8" text-anchor="middle" fill="#231f20">10<tspan dy="-3.2" font-size="5.62">2</tspan></text>
<text x="104.6" y="308.6" font-size="7.8" text-anchor="middle" fill="#231f20">10<tspan dy="-3.2" font-size="5.62">3</tspan></text>
<text x="134.4" y="308.6" font-size="7.8" text-anchor="middle" fill="#231f20">10<tspan dy="-3.2" font-size="5.62">4</tspan></text>
<text x="163.1" y="308.6" font-size="7.8" text-anchor="middle" fill="#231f20">10<tspan dy="-3.2" font-size="5.62">5</tspan></text>
<text x="50.4" y="314.4" font-size="7.8" text-anchor="middle" fill="#231f20">−188</text>
<text x="54.1" y="197.4" font-size="7.9" fill="#231f20">4.9</text>
<text x="172.9" y="197.4" font-size="7.9" text-anchor="end" fill="#231f20">26.3</text>
<text x="52.1" y="295" font-size="7.9" fill="#231f20">60.9</text>
<text x="173.1" y="295" font-size="7.9" text-anchor="end" fill="#231f20">8.0</text>
<text x="96.5" y="184.6" font-size="9.6" textLength="30.1" lengthAdjust="spacingAndGlyphs" fill="#231f20">iaHLH</text>
<path d="M275.36 236.19h.9M253.16 221.2h.9M234.96 274.08h.9M243.81 276.24h.9M268.91 212.22h.9M276.53 206.14h.9M235.03 267.74h.9M230.15 268.86h.9M275.33 207.12h.9M256.23 248.15h.9M292.46 201.54h.9M235.25 266.85h.9M258.71 241.53h.9M285.07 226.77h.9M266.34 239.25h.9M264.56 254.59h.9M255.88 220.03h.9M265.24 230.3h.9M260.35 256.52h.9M238.19 238.39h.9M266.42 239.68h.9M266.54 223.07h.9M241.86 218.93h.9M257.42 271.19h.9M266.61 231.55h.9M279.89 207.15h.9M252.97 276.23h.9M253.82 262.77h.9M232.79 278.63h.9M253.58 211.65h.9M344.64 217.26h.9M246.57 279.35h.9M295.36 197.78h.9M334.89 211.04h.9M229.29 277.89h.9M261.58 245.78h.9M234.38 229.43h.9M235.91 238.07h.9M246.36 275.01h.9M242.61 234.71h.9M253.54 215.52h.9M226.93 216.37h.9M251.93 248.2h.9M243.99 224.54h.9M270.18 226.75h.9M252.82 251.29h.9M261.75 217.87h.9M337.06 203.49h.9M276.47 224.34h.9M281.36 262.14h.9M249.71 222.6h.9M293.46 232.44h.9M233.9 289.24h.9M263.35 244.34h.9M282.09 240.92h.9M234.11 245.73h.9M229.39 263.63h.9M248.36 279.07h.9M234.42 238.17h.9M246.15 278.89h.9M230.6 265.17h.9M267.89 247.88h.9M268.63 232.48h.9M260.84 290.81h.9M261.8 226.74h.9M249.79 213.47h.9M237.35 236.83h.9M237.67 221.36h.9M255.6 262.52h.9M243.2 205.61h.9M260.37 231.39h.9M226.1 217.61h.9M260.07 265.85h.9M244.26 282.95h.9M247.47 272.75h.9M301.5 224.57h.9M234.57 261.18h.9M282.73 247.23h.9M280.08 232.65h.9M266.94 240.63h.9M267.23 249.55h.9M249.42 206.58h.9M278.34 231.33h.9M230.61 243.56h.9M257.32 255.48h.9M254.13 268.52h.9M271.34 224.4h.9M258.32 252.41h.9M257.33 248.76h.9M256.28 250.88h.9M238.73 274.92h.9M232.62 246.03h.9M247.03 235.88h.9M234.24 257.2h.9M250.97 224.3h.9M238.79 274.81h.9M243.19 224.15h.9M261.16 216.28h.9M268.53 246.06h.9M252.25 266.31h.9M265.69 255.33h.9M294.44 228.89h.9M244.6 229.53h.9M230.31 252.3h.9M236 272.56h.9M236.86 293.36h.9M272.32 229.82h.9M282.21 242.44h.9M281.95 229.41h.9M236.24 268.88h.9M262.16 246.45h.9M247.26 236.8h.9M264.92 230.39h.9M269.08 245h.9M231.66 254.39h.9M263.78 219.58h.9M235.61 244.58h.9M254.17 282.32h.9M265.97 240.18h.9M263.76 240.22h.9M245.64 230.81h.9M258.66 266.12h.9M246.76 277.39h.9M258.64 263.01h.9M241.28 277.88h.9M262.61 247.68h.9M252.09 276.44h.9M255.15 271.9h.9M246.16 282.92h.9M254.42 231.56h.9M265.99 243.51h.9M240.94 280.41h.9M267.95 212.33h.9M259.96 235.64h.9M291.31 201.01h.9M275.08 244.44h.9M298.41 249.48h.9M293.57 199.02h.9M263.57 222.72h.9M261.27 216.38h.9M339.5 207.82h.9M234.91 244.24h.9M236.01 273.08h.9M293.08 231.53h.9M233.72 281.05h.9M235.27 277.39h.9M233.95 240.25h.9M238.29 277.8h.9M274.78 230.59h.9M262.82 238.64h.9M243.34 278.2h.9M257.41 256.6h.9M268.54 242.39h.9M234.99 260.82h.9M253.44 245.16h.9M277.72 233.52h.9M239.61 240.74h.9M289.75 260.73h.9M283.29 240.51h.9M260.95 270.95h.9M224.39 254.59h.9M261.49 223.82h.9M252.73 238.45h.9M259.63 217.92h.9M234.89 274.19h.9M268.01 254.97h.9M286.72 226.41h.9M287.58 230.2h.9M239.89 230.32h.9M251.63 274.05h.9M244.36 280.36h.9M253.17 234.85h.9M264.36 247.4h.9M256.74 211.53h.9M258.22 251.05h.9M235.86 242.56h.9M243.14 279.34h.9M230.71 275.29h.9M270.81 225.36h.9M269.92 242.37h.9M231.59 241.71h.9M242.21 275.74h.9M272.17 240.87h.9M249.62 243.37h.9M261.39 231.43h.9M232.68 235.9h.9M254.19 269.08h.9M246.84 223.61h.9M257.84 208.98h.9M271.44 233.77h.9M249.57 280.52h.9M302.92 226.21h.9M251.8 222.01h.9M262.94 230.42h.9M267.11 220.32h.9M265.28 213.25h.9M233.65 236.27h.9M240.45 233.8h.9M266.83 223.65h.9M242.77 287.77h.9M234.86 271.71h.9M263.28 246.31h.9M249.45 241.42h.9M301.65 226.23h.9M243.04 280.43h.9M263.55 235h.9M249.31 226.96h.9M266.86 233.1h.9M277.45 208.64h.9M252.1 277.5h.9M250.39 242.27h.9M231.42 221.53h.9M335.49 207.41h.9M265.78 252.18h.9M254.57 230.69h.9M323.85 227.01h.9M250.88 223.39h.9M276.28 239.65h.9M258.04 233.7h.9M267.32 235.82h.9M238.93 224.37h.9M231.77 256.41h.9M269.17 245.16h.9M256.89 239.24h.9M276.14 251.41h.9M271.23 248.67h.9M237.13 221.88h.9M268.97 217.17h.9M253.66 245.33h.9M250.69 242.44h.9M231.7 263.46h.9M248.66 279.79h.9M265.31 216.8h.9M232.55 254.8h.9M272.98 256.2h.9M230.53 272.94h.9M272.18 249.79h.9M261.38 246.52h.9M318.47 221.85h.9M248.63 287.65h.9M255.39 253.33h.9M224.93 226.81h.9M249.77 237h.9M310.18 223.5h.9M253.34 239.75h.9M254.92 261.28h.9M234.48 220.51h.9M271.94 245.08h.9M262.7 237.91h.9M238.02 273.51h.9M252.62 246.01h.9M260.17 246.4h.9M331 204.77h.9M336.95 215.75h.9M250.72 282.5h.9M258.02 272.18h.9M253.44 224.09h.9M240.85 275.7h.9M284.05 228.13h.9M231.7 254.37h.9M250.32 225.19h.9M228.57 255.18h.9M226.92 245.03h.9M279.27 238.37h.9M273.66 239.07h.9M245.42 221.78h.9M258.11 230.95h.9M268.98 239.68h.9M272.36 252.19h.9M237.02 271.11h.9M236.02 270.92h.9M238.32 228.98h.9M228.4 254.49h.9M244.9 275.8h.9M235.58 253.74h.9M234.7 233.45h.9M285.58 200.37h.9M277.63 243.9h.9M258.84 262.02h.9M255.73 287.47h.9M228.33 256.42h.9M252.02 272.81h.9M246.47 230.73h.9M273.61 224.75h.9M269.15 221.66h.9M271.16 225.39h.9M253.09 277.83h.9M239.39 242.17h.9M239.87 272.47h.9M231.95 264.14h.9M263.7 233.73h.9M338.23 210.7h.9M244.08 228.26h.9M226.82 259.24h.9M235.78 244.51h.9M245.45 210.73h.9M294.81 229.39h.9M233.15 255.04h.9M275.73 235.09h.9M287.08 225.34h.9M259.21 246.87h.9M253.11 230.39h.9M251.66 271.67h.9M229.58 274.45h.9M243.66 286.19h.9M256.71 264.02h.9M237.63 273.16h.9M262.83 220.55h.9M262.45 227.53h.9M246.34 289.98h.9M245.63 277.57h.9M266.12 226.42h.9M262.98 228.78h.9M233.5 272.39h.9M252.07 269.04h.9M254.23 265.41h.9M262.69 213.23h.9M236.36 230.22h.9M230.12 234.57h.9M291.22 203.1h.9M250.33 270.12h.9M232.9 221.21h.9M298.06 248.55h.9M253.73 266.4h.9M242.73 230.02h.9M294.32 228.15h.9M250.91 234.89h.9M251.05 236.55h.9M232.58 259.93h.9M270.13 208.28h.9M256.12 225.17h.9M224.16 260.25h.9M256.9 254.92h.9M236.21 268.6h.9M234.88 267.14h.9M286.2 199.95h.9M274.44 248.51h.9M257.9 227.92h.9M271.24 228.28h.9M294.93 233.91h.9M252.29 272.72h.9M238.9 241.41h.9M231.36 257.02h.9M289.74 226.04h.9M244.33 235.79h.9M260 223.41h.9M291.96 229.67h.9M264.32 265.98h.9M259.9 220.98h.9M251.98 221.03h.9M262.42 239.5h.9M237.8 276.81h.9M255 261.43h.9M267.5 217.34h.9M266.22 214.26h.9M285.12 227.59h.9M303.82 227.39h.9M240.43 284.7h.9M241.95 225.26h.9M252.69 242.3h.9M251.57 272.54h.9M234.03 254.47h.9M246.7 232.2h.9M230.28 258.56h.9M235.62 265.47h.9M258.68 228.89h.9M256.8 288.3h.9M247.03 282.1h.9M240.48 232.61h.9M293.04 262.41h.9M260.96 236.02h.9M252.75 249.62h.9M239.27 238.77h.9M247.38 223.19h.9M263.35 222.8h.9M237.46 237.06h.9M232.75 255.53h.9M253.02 246.05h.9M240.87 232.7h.9M270.74 221.24h.9M255.59 269.55h.9M237.1 240.83h.9M225.16 234.86h.9M301.38 224.6h.9M222.43 250.58h.9M284 256.71h.9M270.55 234.5h.9M272.75 229.25h.9M274.47 248.13h.9M266.12 233.76h.9M239.34 281.12h.9M231.09 252.89h.9M251.33 270.75h.9M269.64 235.55h.9M233.45 228.45h.9M272.73 222.18h.9M250.86 271.14h.9M256.82 236.13h.9M241.01 280.51h.9M249.33 222.26h.9M235.07 271.36h.9M233.28 255h.9M255.78 224.35h.9M256.32 229.22h.9M247.44 274.82h.9M275.4 230.06h.9M290.37 242.34h.9M245.52 277.03h.9M256.8 251.58h.9M235.97 276.18h.9M284.21 224.58h.9M265.77 220.29h.9M260.62 217.46h.9M260.91 254.79h.9M251.11 225.31h.9M252.23 240.68h.9M229.42 220.93h.9M243.3 277.06h.9M256.41 259.83h.9M254.1 204.89h.9M242.56 279.5h.9M290.01 239.47h.9M235.04 243.23h.9M243.26 219.2h.9M249.14 285.1h.9M264.65 214.15h.9M331.01 206.52h.9M270.8 232.47h.9M272.85 227.19h.9M262.26 250.36h.9M268.43 237.08h.9M252.6 247.25h.9M263.85 216.29h.9M321.87 202.97h.9M254.14 242.4h.9M243.93 238.86h.9M280.43 247.36h.9M252.53 277.36h.9M273.78 236.38h.9M277.35 230.98h.9M275.56 222.9h.9M222.55 275.76h.9M317.1 227.57h.9M264.71 225.26h.9M256.29 287.7h.9M246.47 224.27h.9M242.61 240.44h.9M278.86 246.8h.9M254.8 219.42h.9M263.93 232.31h.9M237.7 245.94h.9M257.71 235.43h.9M252.58 267.13h.9M234.75 257.65h.9M252.31 243.33h.9M253.33 271.86h.9M252.68 229.02h.9M283.16 253.08h.9M295.59 227.94h.9M227.98 259.94h.9M250.26 234.51h.9M325.11 224.88h.9M268.31 210.45h.9M241.71 210.7h.9M235.57 247.41h.9M282.35 236.77h.9M263.49 211.45h.9M254.19 256.54h.9M249.91 237.43h.9M265.22 232.01h.9M262.27 228.36h.9M257.17 270.75h.9M275.36 227.9h.9M270.62 227.9h.9M236.87 236.57h.9M235.48 247.46h.9M260.82 278.07h.9M234.06 256.04h.9M239.89 221.54h.9M274.9 228.1h.9M264.58 213.57h.9M234.39 242.04h.9M237.13 241.93h.9M261.96 226.54h.9M259.86 225.73h.9M255.36 255.91h.9M229.3 248.03h.9M333.09 208.45h.9M254.72 256.02h.9M225.32 260.78h.9M306.28 223.86h.9M257.32 267.56h.9M268.77 223.23h.9M248.68 227.34h.9M335.43 218.6h.9M302.22 231.71h.9M240.22 227.8h.9M253.81 237.72h.9M298.95 230.35h.9M226.99 267.85h.9M249.03 233.54h.9M223.04 289.01h.9M253.08 271.18h.9M249.45 273.86h.9M259.32 284.72h.9M281.1 230.07h.9M256.67 231.03h.9M239.2 225.1h.9M275.03 247.91h.9M236.82 278.79h.9M231.62 249.99h.9M269.41 233.24h.9M239.33 241.27h.9M256.18 241.13h.9M246.47 279.74h.9M287.19 229.4h.9M266.22 238.47h.9M249.34 238.9h.9M246.84 215.81h.9M264.76 227.34h.9M287.88 241.45h.9M237.94 270.99h.9M269.25 239.11h.9M255.09 235.01h.9M281.28 226.92h.9M249.21 242.41h.9M236.58 246.36h.9M270.66 236.89h.9M250.89 271.14h.9M227.8 271.23h.9M261.53 253.47h.9M238.22 244.16h.9M271.94 238.91h.9M272.95 259.44h.9M261.13 224.1h.9M247.28 223.63h.9M263.96 250.39h.9M234.07 260.37h.9M244.04 215.07h.9M229.85 217.94h.9M236.32 234.32h.9M260.04 244.79h.9M266.85 215.09h.9M268.41 232.78h.9M254.7 230.66h.9M283.42 259.53h.9M266.47 215.71h.9M247.23 226.41h.9M256.2 264.74h.9M252.42 237.67h.9M261.98 213.34h.9M230.66 240.47h.9M242.11 239.26h.9M294.52 252.62h.9M256.32 215.79h.9M267.17 222.22h.9M259.53 228.35h.9M234.48 221.94h.9M256.98 268.47h.9M232.04 244.04h.9M261.02 236.37h.9M254.12 261.87h.9M328.46 202.29h.9M250.8 229h.9M274.51 231.03h.9M260.66 222.55h.9M256.27 252.76h.9M266.28 223.62h.9M272.52 225.57h.9M254.57 263.37h.9M249.78 245.12h.9M257.09 267.77h.9M272.56 206.55h.9M228.75 254.27h.9M243.8 236.93h.9M251.1 230.03h.9M254.54 243.34h.9M263.3 226.51h.9M289.97 227.92h.9M276.08 249.6h.9M239.28 228.49h.9M273.06 224.33h.9M254.74 256.16h.9M333.26 209.33h.9M253.35 233.65h.9M269.6 220.19h.9M232.26 285.37h.9M271.24 272h.9M236.09 237.17h.9M234.45 267.06h.9M254.71 238.65h.9M238.66 238.47h.9M242.34 279.48h.9M230.72 262.26h.9M295.89 227.75h.9M277.68 229.71h.9M236.23 268.16h.9M251.65 218.01h.9M277.89 242.78h.9M261.35 235.12h.9M231.32 245.21h.9M285.69 202.58h.9M229.07 243.02h.9M286.34 234.46h.9M236.84 231.04h.9M254.34 227h.9M255.79 231.44h.9M233.18 264.39h.9M284.61 225.21h.9M231.49 227.25h.9M262.49 211.06h.9M298.93 243.95h.9M285.47 250.68h.9M298.65 227.86h.9M269.46 262.73h.9M266.8 233.24h.9M258.04 269.9h.9M275.15 228.75h.9M249.5 270.27h.9M265.52 224.31h.9M241.83 226.62h.9M228.96 225.05h.9M257.11 221.06h.9M259.66 246.65h.9M282.98 238.2h.9M255.15 229.45h.9M284.14 227.42h.9M231.32 245.32h.9M254.47 240.2h.9M255.36 225.02h.9M268.32 225.17h.9M256.1 262.62h.9M252.76 235.69h.9M244.14 237.24h.9M234.25 246.69h.9M267.23 222.37h.9M228.72 258.9h.9M260.43 246.81h.9M234.97 273.63h.9M262.84 228.63h.9M334.56 213.58h.9M335.96 220.1h.9M239.52 229.65h.9M271.11 222.96h.9M249.67 220.93h.9M240.14 227.79h.9M279.2 224.91h.9M253.45 265.66h.9M241.85 239.75h.9M256.41 248.37h.9M258.05 245.4h.9M234.21 259.84h.9M252.53 250.59h.9M249.21 230.42h.9M236.41 278.13h.9M252.94 260.99h.9M266.15 208.19h.9M266.64 249.21h.9M230.76 290.51h.9M237.37 270.13h.9M249.7 280.22h.9M278.44 227.24h.9M252.91 249.94h.9M249.19 274.88h.9M255.1 272.35h.9M228.6 264.1h.9M288.56 246.66h.9M229.63 258.18h.9M233.02 260.62h.9M253.38 250.78h.9M233.16 257.89h.9M271.25 237.54h.9M282.89 224.59h.9M251.02 243.57h.9M233.36 278.12h.9M261.39 233.65h.9M263.86 248.62h.9M269.89 219.97h.9M261.41 284.94h.9M245.42 237.53h.9M278.67 206.73h.9M279.77 236.42h.9M229.14 265.06h.9M271.3 229.92h.9M248.41 279.41h.9M236.59 240.82h.9M250.1 229.43h.9M331.2 206.59h.9M228.92 268.26h.9M252.07 226.9h.9M235.43 252.64h.9M238.93 274.75h.9M242.86 276.86h.9M316.43 222.54h.9M255.91 242.63h.9M258.62 250.39h.9M256.02 231.66h.9M267.56 223.21h.9M235 253.82h.9M251 232.2h.9M234.87 226.99h.9M272.96 222.44h.9M285.79 232.63h.9M294.37 232.99h.9M246.47 218.9h.9M245.47 275.92h.9M245.21 226.57h.9M260.59 259.94h.9M258.36 225.06h.9M256.78 287.22h.9M249.55 213.8h.9M234.05 229.43h.9M238.46 275.13h.9M267.85 228.58h.9M279.32 203.92h.9M257.94 262.08h.9M251.74 234.26h.9M243.44 229.89h.9M259.95 220.68h.9M258.2 217.14h.9M267.44 230.92h.9M234.42 246.6h.9M237.82 289.04h.9M241.8 238.97h.9M245.37 234.15h.9M271.18 232.19h.9M283.02 225.19h.9M273.14 210.93h.9M286.48 246.7h.9M254.84 248.79h.9M243.85 278.1h.9M254.46 276.98h.9M254.32 271.48h.9M251.83 224.84h.9M262.67 236.39h.9M323.9 202.94h.9M238.36 274.73h.9M288.39 234.22h.9M241.22 220.51h.9M230.1 275.56h.9M295.96 248.86h.9M259.7 229.86h.9M237.64 241.87h.9M261.69 218.71h.9M235.94 282.3h.9M260.51 244.74h.9M265.54 209.73h.9M290.63 227.68h.9M264.71 205.62h.9M246.22 292.2h.9M264.09 240.49h.9M240.08 235.16h.9M253.55 263.01h.9M241.84 220.55h.9M248.7 275.01h.9M233.56 265.28h.9M258.68 233.93h.9M234.53 250.55h.9M274.12 225.39h.9M305.67 226h.9M266.72 223.8h.9M251.22 231.53h.9M299.61 230.42h.9M321.53 202.53h.9M328.19 217.78h.9M279.27 204.52h.9M256.9 248.71h.9M263.13 219.94h.9M264.2 244.96h.9M231.93 257.15h.9M231.1 244.41h.9M253.89 264.17h.9M254.87 273.75h.9M232.08 226.76h.9M234.98 269.72h.9M230.83 238.09h.9M259.86 257.34h.9M260.7 237.73h.9M268.68 218.38h.9M234.26 230.05h.9M243.7 279.22h.9M234.09 231.69h.9M243.2 286.55h.9M260.85 249.44h.9M277.23 244.8h.9M276.18 238.86h.9M226.19 266.1h.9M233.75 249.82h.9M268.44 239.19h.9M236.93 245.12h.9M247.74 236.84h.9M245.2 282.93h.9M244.73 233.1h.9M246.95 218.05h.9M274.31 245.63h.9M243.95 235.67h.9M276.41 206.71h.9M249.93 222.08h.9M256.26 254h.9M257.51 262.21h.9M252.34 248.54h.9M315.12 200.28h.9M252.68 265.66h.9M328.5 217.34h.9M279.15 224.58h.9M246.12 284.95h.9M238.91 274.99h.9M256.12 244.79h.9M267.37 237.68h.9M253.68 258.49h.9M227.76 225.66h.9M248.99 242.01h.9M220.96 219.23h.9M252.07 226.79h.9M251.23 227.17h.9M245.23 234.52h.9M271.35 207.99h.9M286.33 203.45h.9M237.48 240.28h.9M257.09 267.51h.9M262.02 234.69h.9M234.41 255.84h.9M233.51 253.32h.9M266.8 239.28h.9M230.5 244.53h.9M253.08 277.87h.9M256.61 233.57h.9M283.67 230.87h.9M271.98 223.42h.9M267.33 210.85h.9M230.86 256.82h.9M257.29 271.1h.9M255.05 251.64h.9M235.16 241.66h.9M250.49 224.89h.9M256.99 232.15h.9M266.06 217.19h.9M260.82 225.68h.9M278.75 236.86h.9M229.73 251.81h.9M288.32 226.91h.9M283.31 247.22h.9M237.33 276.28h.9M241.36 274.87h.9M256.58 264.14h.9M250.76 271.64h.9M257.22 216.14h.9M255.28 272.65h.9M241.46 237.48h.9M260.48 223.45h.9M279.02 237.99h.9M235.6 271.56h.9M250.53 235.61h.9M269.67 228.51h.9M249.77 246.19h.9M237.34 272h.9M269.22 222.13h.9M239.1 239.53h.9M264.86 220.88h.9M239.88 274.11h.9M290.15 228.86h.9M237.21 230.01h.9M258.48 233.21h.9M301.35 197.69h.9M281.31 240.11h.9M324.17 226.84h.9M270.17 225.17h.9M269.45 245.28h.9M259.03 230.51h.9M256.56 223.47h.9M335.46 205.2h.9M245.41 276.48h.9M265.96 225.51h.9M234.74 267.08h.9M224.62 276.96h.9M244.96 279.42h.9M254.64 275.34h.9M256.46 224.11h.9M252.87 251.12h.9M270.94 222.63h.9M263.9 251.09h.9M269.07 218.8h.9M249.1 220.65h.9M271.15 239.83h.9M232.01 254.27h.9M235.96 271.53h.9M284.22 205.27h.9M232.86 271.73h.9M235.92 246.13h.9M270.07 224.74h.9M237.99 235.49h.9M252.31 217.54h.9M235.4 269.75h.9M236.79 227.65h.9M286.22 224.27h.9M257.67 243.73h.9M248.81 228.96h.9M262.32 221.44h.9M265.51 233.97h.9M249 235.13h.9M283 233.71h.9M253.45 258.62h.9M234.07 268.92h.9M246.07 229.78h.9M254.98 237.4h.9M233.6 229.7h.9M268.66 230.05h.9M293.58 225.98h.9M234.05 262.14h.9M246.32 231.8h.9M250.4 227.89h.9M334.58 217.79h.9M242.36 233.3h.9M276.39 227.51h.9M255.93 249.45h.9M258.96 262.51h.9M249.14 230.65h.9M322.34 202.27h.9M256.98 266.69h.9M262.7 230.91h.9M262.98 237.1h.9M254.61 235.07h.9M272.77 209.9h.9M339.23 216.52h.9M283.03 204.45h.9M233.61 236.27h.9M241.66 289.51h.9M278.68 247.98h.9M244.52 226.38h.9M261.67 206.55h.9M242.37 233.47h.9M292.56 226.22h.9M290.73 234.51h.9M264.24 216.63h.9M275.89 233.09h.9M275.4 244.01h.9M253.5 218.8h.9M249.04 229.35h.9M252.26 239.87h.9M247.09 230.98h.9M260.03 226h.9M242.41 284.44h.9M295.74 203.16h.9M241.02 223.2h.9M247.31 282.35h.9M235.84 228.76h.9M234.94 262.79h.9M296.83 230.81h.9M293.5 232.21h.9M254.94 273.06h.9M282.57 256.72h.9M245.05 282.82h.9M245.62 277.22h.9M232.21 243.66h.9M247 288.12h.9M230.21 237.02h.9M283.17 231.93h.9M263.8 254.69h.9M290.92 226.67h.9M270.72 235.63h.9M255.26 231.42h.9M253.28 242.44h.9M270.6 224.6h.9M244.22 278.21h.9M312.94 223.1h.9M247.53 277.13h.9M253.3 270.48h.9M284.93 243.88h.9M270.1 225.64h.9M234.33 254.21h.9M279.82 233.15h.9M263.27 246.85h.9M275.84 226.24h.9M261.88 237.42h.9M287.05 225.4h.9M236.92 271.52h.9M259.37 229.07h.9M238.75 275.55h.9M252.53 206.52h.9M249.48 272.85h.9M264.92 223.33h.9M254.41 261.55h.9M262.46 245.58h.9M244.33 275.7h.9M265.28 241.94h.9M240.88 224.01h.9M252.93 273.29h.9M268.19 227.83h.9M274.24 261.31h.9M251.22 246.44h.9M259.45 228.65h.9M309.74 226.4h.9M257.66 278.97h.9M277.54 257.6h.9M230.19 233.22h.9M256.92 249.63h.9M269.96 209.83h.9M227.23 235.4h.9M233.51 249.03h.9M256.06 250.78h.9M232.3 239.15h.9M285.62 239.12h.9M286 231.36h.9M287.39 234.22h.9M254.31 250.38h.9M238.33 288.48h.9M251.97 244.1h.9M250.11 244.9h.9M239.11 284.05h.9M259.63 250.53h.9M231.73 270h.9M229.35 264.22h.9M259.22 259.38h.9M275.07 236.5h.9M265.51 244.29h.9M252.58 281.49h.9M231.44 262.6h.9M243.22 232.54h.9M264.38 232.6h.9M259.89 259.29h.9M278.33 236.1h.9M264.52 257.93h.9M271.41 222.25h.9M229.75 260.56h.9M261.93 251.44h.9M240.95 239.68h.9M235.32 269.12h.9M259.96 214.68h.9M259.72 267.5h.9M242.28 240.14h.9M234 239.29h.9M232.81 241.23h.9M267.3 245.18h.9M261.98 246.13h.9M248.35 237.04h.9M273.38 228.66h.9M319.59 222.31h.9M264.58 238.07h.9M270.47 209.17h.9M240.26 237.74h.9M278.56 256.32h.9M249.35 238.4h.9M248.09 228.87h.9M260.04 225.64h.9M231.35 290.55h.9M282.53 225.69h.9M331.95 219.53h.9M267.68 224.63h.9M276.52 245.06h.9M277.64 207.73h.9M270.93 221.08h.9M244.38 287.84h.9M258.17 249.06h.9M248.98 228.71h.9M272.73 255h.9M255.09 279.46h.9M268.86 224.31h.9M230.5 240.2h.9M272.2 227.47h.9M249.4 270.63h.9M254.36 239.54h.9M230.94 244.87h.9M248.77 243.65h.9M234.42 253.08h.9M256.06 248.47h.9M287.73 233.31h.9M263.86 237.99h.9M252.37 235.73h.9M261.74 266.92h.9M250.81 224.37h.9M256.7 261.64h.9M250.16 283.68h.9M240.93 224.64h.9M239.28 274.38h.9M240.84 239.05h.9M236.2 270.82h.9M263.56 219.97h.9M245.62 228.81h.9M276.44 240.27h.9M242.54 239.36h.9M281.23 234.52h.9M261.99 238.07h.9M243.2 230.18h.9M228.52 259.32h.9M252.63 221.75h.9M251.78 281.97h.9M239.45 238.21h.9M255.85 226.49h.9M237.55 277.39h.9M282.53 240.11h.9M263.4 239.25h.9M231.23 267.99h.9M228.66 261.46h.9M278.76 233.99h.9M249.65 287.64h.9M231.7 253.04h.9M237.4 270.83h.9M262.12 234.58h.9M256.43 224.74h.9M283.36 225.39h.9M233.67 252.16h.9M259.35 225.19h.9M247.17 235.8h.9M273.25 230.38h.9M227.36 226.2h.9M274.24 234.31h.9M265.1 240.37h.9M262.14 225.76h.9M261.21 263.15h.9M252.48 229.91h.9M271.91 229.04h.9M250.38 229.09h.9M252.64 229.8h.9M239.07 278.36h.9M320.36 221.06h.9M237.59 227.79h.9M235.49 247.11h.9M238.11 240.25h.9M255.42 254.38h.9M268.49 237.95h.9M288.5 225.58h.9M247.59 234.74h.9M276.03 209.3h.9M259.03 239.3h.9M255.29 249.14h.9M286.55 228.73h.9M251.63 272.4h.9M237.63 236h.9M254.88 240.03h.9M281.61 230.56h.9M233.44 265.17h.9M233.76 260.87h.9M254.91 255.7h.9M273.55 230.64h.9M276.22 255.57h.9M276.3 264.73h.9M234.84 242.09h.9M266.06 229.07h.9M258.05 238.23h.9M249.72 273.64h.9M267.48 223.25h.9M244.1 286.04h.9M253.51 230.55h.9M234.13 262.55h.9M263.15 225.73h.9M234.73 236.98h.9M272.76 265.34h.9M232.36 266.25h.9M266.3 218.8h.9M336.55 205.05h.9M259.48 222.49h.9M234.9 250.52h.9M332.22 217.63h.9M250.91 220.15h.9M238.99 274.43h.9M248.28 222.09h.9M232.76 247.71h.9M293.85 237.07h.9M232.08 238.31h.9M240.93 222.48h.9M272.42 204.81h.9M259.63 244.33h.9M255.05 253.66h.9M242.31 238.42h.9M256.93 253.34h.9M268.97 227.78h.9M253.81 227.34h.9M330.8 216.45h.9M295.03 227.17h.9M258.8 221.75h.9M251.64 223.89h.9M254.9 246.87h.9M255.5 251.65h.9M235.46 231.08h.9M275.16 245.66h.9M265.37 227.04h.9M260.38 210.8h.9M292.41 233.24h.9M253.87 239.31h.9M285.59 251.14h.9M265.7 242.51h.9M252.94 266.12h.9M247.88 272.75h.9M281.25 234.19h.9M278.95 206.93h.9M231.77 251.94h.9M244.8 283.12h.9M232.32 251.83h.9M288.53 230.24h.9M278.8 203.65h.9M244.08 225.58h.9M249.73 242.3h.9M226.13 270.56h.9M275.99 233.08h.9M287 203.3h.9M237.93 217.44h.9M278.16 226.43h.9M275.54 232.14h.9M234.24 262.46h.9M244.99 294.51h.9M276.08 237.6h.9M282.83 229h.9M249.38 235.38h.9M270.16 216.74h.9M323.7 219.5h.9M228.22 252.03h.9M305.35 228.13h.9M252.09 240.6h.9M255.67 262.69h.9M273.07 210.81h.9M321.05 223.6h.9M231.7 259.86h.9M252.13 281.55h.9M239.79 286.16h.9M240.68 285.61h.9M268.78 234.04h.9M266.16 221.38h.9M238.34 237.79h.9M266.35 214.47h.9M244.02 232.21h.9M252.77 245.81h.9M234.35 251.38h.9M272.4 222.34h.9M266.61 220.77h.9M254.3 232.7h.9M322.6 199.01h.9M246.1 230.46h.9M268.98 233.28h.9M269.81 226.38h.9M235.17 267.42h.9M235.71 238.79h.9M288.33 228.47h.9M242.57 228.76h.9M267.02 216.93h.9M233.84 250.47h.9M237.3 274.7h.9M260.35 263.32h.9M225.5 286.12h.9M222.7 221.3h.9M336.16 209.58h.9M229.83 215.61h.9M256.81 220.82h.9M247.31 227.24h.9M235.41 254.08h.9M249.45 277.6h.9M245.3 231.95h.9M249.99 237.99h.9M318.29 224.56h.9M230.45 244.95h.9M310.45 226.23h.9M337.18 204.86h.9M266.45 233.69h.9M257.57 217.5h.9M267.26 208.25h.9M267.58 233.16h.9M257.04 227.55h.9M250.42 241.69h.9M241.36 230.79h.9M263.57 226.45h.9M255.76 253.54h.9M277.95 235.82h.9M226.93 251.55h.9M234.49 233.03h.9M277.65 237.88h.9M252.16 226.66h.9M341.9 210.28h.9M231.99 255.44h.9M261.75 245.2h.9M262.04 221.84h.9M269.48 218.43h.9M272.17 205.21h.9M237.04 235.59h.9M240.41 216.96h.9M256.8 234.49h.9M227.33 261.86h.9M270.42 228.76h.9M267.89 244.46h.9M263.62 241.86h.9M255.04 223.57h.9M256.56 235.12h.9M281.17 243.63h.9M252.44 216.21h.9M248.66 282.92h.9M286.62 201.32h.9M244.46 237.94h.9M275.08 233.83h.9M248.6 243.15h.9M242.27 225.18h.9M263.78 241.93h.9M255.98 249.12h.9M253.89 262.85h.9M315.8 201.14h.9M262.76 226.07h.9M272.71 251.88h.9M243.56 277.61h.9M226.81 281h.9M237.72 246.01h.9M255.51 289.74h.9M286.99 239.52h.9M232.09 248.93h.9M255.4 233.44h.9M238.47 238.46h.9M254.9 242.85h.9M253.57 258.46h.9M282.16 245.34h.9M233.69 265.59h.9M239.36 276.94h.9M238.06 231.35h.9M305.27 200.63h.9M234.28 246.25h.9M236.48 238.04h.9M251.41 246.76h.9M248.24 236.22h.9M328.66 219.47h.9M320.2 201.47h.9M249.25 272.72h.9M262.23 271.15h.9M254.91 268.45h.9M268.01 212.96h.9M264.02 218.23h.9M254.96 270.09h.9M281.3 234.77h.9M249.45 234.76h.9M247.3 237.39h.9M238.16 221.28h.9M323.05 203.24h.9M236.37 245.6h.9M271.21 224.84h.9M244.84 282.69h.9M270.72 235.07h.9M235.78 273.9h.9M244.54 287.76h.9M231.79 255.91h.9M250.37 276.88h.9M236.98 245.57h.9M273.02 243.69h.9M240.22 240.79h.9M279.18 227.69h.9M262.74 217.12h.9M248.36 227.65h.9M260.58 218.81h.9M269.13 260.77h.9M270.27 251.62h.9M243.14 238.99h.9M332.78 225.76h.9M286.62 224.59h.9M254.41 242.65h.9M273.41 239.96h.9M230.84 222.25h.9M264.55 212.05h.9M273.47 230.68h.9M246.2 274.93h.9M269.38 233.28h.9M277.07 248.24h.9M257.62 258.51h.9M263.04 225.52h.9M278.55 225.84h.9M231.74 245.6h.9M273.29 247.98h.9M282.87 259.17h.9M258.65 224.87h.9M244.49 238.57h.9M251.34 242.29h.9M287.38 225.32h.9M266.06 234.31h.9M264.94 237.27h.9M240.18 274.24h.9M236.56 278.29h.9M245.9 222.1h.9M282.21 226.42h.9M234.59 251.75h.9M243.35 231.12h.9M232.14 252.98h.9M299 202.27h.9M261.5 216.53h.9M239.4 239.77h.9M256.95 227.56h.9M235.22 277.02h.9M246.69 280.74h.9M249.81 244.39h.9M257.49 265.86h.9M334.44 208.3h.9M287.31 224.28h.9M272.14 234.22h.9M253.41 242.31h.9M267.18 223.25h.9M269.23 257.2h.9M282.07 225.29h.9M253.12 272.7h.9M240.59 279.26h.9M254.33 248.3h.9M229.78 248.08h.9M335.3 212.51h.9M267.71 254.29h.9M248.21 286.73h.9M322.76 202.89h.9M253.47 242.46h.9M233.72 249.34h.9M236.32 246.28h.9M283.74 204.69h.9M250.84 245.51h.9M242.18 235.46h.9M253.53 284.85h.9M248 276.59h.9M259.02 219.16h.9M259.72 259.63h.9M275.47 234.43h.9M235.11 251.3h.9M265.51 235.02h.9M269.35 238.15h.9M279.24 226.83h.9M261.25 212.9h.9M233.94 243.4h.9M243.64 229.32h.9M282.93 224.76h.9M244.73 221.55h.9M242.09 239.45h.9M242.33 230.39h.9M269.77 250.13h.9M265.43 217.04h.9M251.39 221.95h.9M259.11 221.15h.9M231.99 277.04h.9M264.32 223.66h.9M248.58 226.71h.9M262.62 230.05h.9M260.35 256.26h.9M265.77 222.24h.9M251.34 230.91h.9M262.32 220.21h.9M229.27 269.28h.9M253.19 228.83h.9M267.7 214.41h.9M257.34 253.78h.9M256.78 258.6h.9M238.58 234.76h.9M254 246.09h.9M251.7 242.74h.9M239.19 241.94h.9M246.23 235.28h.9M270.44 247.3h.9M265.15 227.16h.9M271.99 224.91h.9M237.03 269.11h.9M229.18 248.99h.9M249.85 272.21h.9M251.12 274.62h.9M240.99 237.05h.9M223.08 250.28h.9M291.6 248.65h.9M253.28 262.85h.9M290.36 227.94h.9M271.72 255.73h.9M230.14 242.1h.9M274.72 228.04h.9M326.12 219.2h.9M288.37 252.97h.9M268.29 221.99h.9M235.1 270.66h.9M249.03 219.44h.9M245.19 231.89h.9M238.36 238.05h.9M294.38 202.54h.9M268.08 235.33h.9M250.51 228.37h.9M251.1 243.9h.9M257.48 232.14h.9M259.36 230.47h.9M270.44 247.91h.9M247.55 233.08h.9M240.13 230.4h.9M249.67 232.09h.9M258.89 251.21h.9M230.26 281.53h.9M252.35 268.16h.9M245.48 238.5h.9M271.02 231.56h.9M261.54 218.51h.9M306.95 201.25h.9M249.52 243.61h.9M270.25 239.86h.9M333.26 203.65h.9M258.64 251.05h.9M278.09 227.51h.9M266.81 218.78h.9M260.55 220.5h.9M267.8 226.33h.9M266.82 219.61h.9M300.32 202.38h.9M277.5 224.03h.9M294.81 225.78h.9M283.52 224.78h.9M227.22 284.25h.9M265.05 217.32h.9M264.39 220.8h.9M253.51 257.85h.9M255.74 252.26h.9M223.9 244.02h.9M270.61 239.32h.9M278.98 226.08h.9M296.81 225.77h.9M241.41 224.54h.9M238.93 243.1h.9M268.91 226.36h.9M234.87 235.67h.9M254.8 212.62h.9M237.48 283.91h.9M235.08 252.12h.9M228.85 266.88h.9M270.77 230.31h.9M231.93 266.63h.9M268.82 208.77h.9M251.95 276.37h.9M235.93 271.33h.9M279.42 231.55h.9M255.22 245.71h.9M249.01 281.31h.9M273.3 203.72h.9M299.72 227.56h.9M239.94 274.95h.9M261.89 275.88h.9M266.62 253.9h.9M236.82 273.2h.9M274.88 236.86h.9M336.62 209.03h.9M254.19 224.47h.9M252.55 246.26h.9M266.72 248.23h.9M266.85 245.72h.9M249.26 224.29h.9M236.81 239.81h.9M245.67 238.47h.9M243.25 220.28h.9M229.71 267.42h.9M251.94 236.92h.9M331.92 221h.9M332.17 224.02h.9M308.24 228.13h.9M277.12 238.24h.9M273.37 210.63h.9M307.09 225.43h.9M274.38 242.09h.9M265.81 258.9h.9M230.87 262.63h.9M257.55 250.33h.9M273.86 233.05h.9M257.57 235.87h.9M260.25 248.11h.9M247.84 236.86h.9M250.16 273.85h.9" stroke="#505050" stroke-width=".9" fill="none"/>
<path d="M241.31 235.65h.9M238.73 222.48h.9M233.61 248.73h.9M289.59 202.33h.9M336.71 209.18h.9M229.92 228.01h.9M300.8 230.59h.9M243.49 221.03h.9M268.96 234.31h.9M326 220.61h.9M232.23 217.47h.9M258.01 212.62h.9M293.34 226.77h.9M254.56 274.43h.9M261.65 260.79h.9M264.84 245.03h.9M261.79 229.37h.9M272.42 228.24h.9M258.53 220.29h.9M224.05 221.09h.9M228.63 253.82h.9M249.26 236.39h.9M251.89 270.79h.9M260.12 247.24h.9M267.27 243.68h.9M252.3 229.89h.9M279.78 247.56h.9M233.15 265.47h.9M261.39 235.08h.9M257.69 232.7h.9M235.69 249.91h.9M249.47 272.07h.9M252.91 266.27h.9M278.85 235.49h.9M240.96 234.93h.9M294.31 229.28h.9M256.47 248.57h.9M254.87 258.7h.9M287.13 241.61h.9M282.74 195.24h.9M233.23 283.57h.9M264.75 204.96h.9M235.15 256.46h.9M241.33 275.64h.9M287.92 254.35h.9M267.48 216.21h.9M232.33 254.55h.9M264.49 220.4h.9M248.4 242.71h.9M251.92 270.74h.9M243.62 217.25h.9M235.11 262.59h.9M235.91 247.65h.9M241.72 228.67h.9M295.36 231.56h.9M234.53 259.13h.9M233.64 270.78h.9M231.83 267.21h.9M258.95 265.17h.9M256.26 224h.9M272.59 254.29h.9M308.91 228.88h.9M253.89 246.05h.9M262.67 219.01h.9M255.3 245.34h.9M266.93 230.56h.9M235.01 260.93h.9M258.26 232.9h.9M290.15 252.4h.9M278.78 203.33h.9M239.44 277.58h.9M285.07 225.67h.9M273.05 204.1h.9M231.5 229.55h.9M251.27 226.99h.9M260.77 240.83h.9M270.67 240.68h.9M257.83 277.4h.9M275.05 207.95h.9M252.91 225.2h.9M273.21 230.62h.9M254.86 255.37h.9M257.63 280.48h.9M247.26 229.61h.9M286.01 236.24h.9M250.24 269.92h.9M282.47 226.8h.9M285.15 227.78h.9M240.19 241.26h.9M250.25 215.43h.9M254.95 274.37h.9M282.41 224.27h.9M258.72 230.71h.9M249.73 216.75h.9M242.06 274.29h.9M235.24 273.79h.9M236.83 234.16h.9M237.79 272.63h.9M279.84 247.27h.9M268.08 230.75h.9M247.13 284.68h.9M269.75 235.25h.9M334.08 196.27h.9M254.32 278.6h.9M277.66 250.77h.9M263.01 209.28h.9M252.99 224.53h.9M281.46 228.76h.9M228.61 235.87h.9M311 223.71h.9M230.54 271.45h.9M235.88 246.26h.9M233.68 247.41h.9M244.54 224.06h.9M249 216.81h.9M286.45 239.81h.9M260.53 243.92h.9M240.35 281.49h.9M247.77 224.07h.9M275.67 243.45h.9M249.46 233.28h.9M292.35 233.17h.9M255.36 261.97h.9M261.7 221.7h.9M309.87 225.16h.9M256.88 215.01h.9M270.4 236.52h.9M246.45 276.89h.9M234.4 279.01h.9M264.73 243.66h.9M262.25 226.34h.9M280.8 238.47h.9M237.29 243.52h.9M234.82 255.81h.9M272.2 240.41h.9M258.56 240.68h.9M233.39 244.59h.9M245.47 236.21h.9M258.47 224.91h.9M264.29 229.68h.9M265.39 237.42h.9M233.41 277.33h.9M249.89 270.23h.9M252.62 243.37h.9M232.84 275.21h.9M276.16 237.58h.9M244.4 279.19h.9M266.19 209.05h.9M333.2 204.6h.9M235.4 276.63h.9M251.49 243.3h.9M266.82 269.46h.9M242.2 281.48h.9M243.85 227.88h.9M254.39 236.35h.9M267.78 220h.9M269.78 248.32h.9M286.9 230.42h.9M241.41 216.52h.9M305.95 224.21h.9M230.28 265.49h.9M275.18 256.73h.9M288.59 235.76h.9M275.07 209.36h.9M229.74 243.67h.9M234.02 249.31h.9M255.28 225.31h.9M271.98 222.09h.9M234.21 274.42h.9M255.16 260.05h.9M256.17 223.79h.9M339.1 204.18h.9M257.12 236.93h.9M333.48 206.47h.9M253.94 222.1h.9M266.05 217.91h.9M248.71 277.71h.9M337.23 209.82h.9M263.45 253.03h.9M275.32 243.97h.9M251.78 271.42h.9M255.48 220.8h.9M260.73 228.08h.9M279.74 249.94h.9M282.19 255.56h.9M270 226.59h.9M270.46 229.68h.9M243.83 237.53h.9M270.49 244.16h.9M245.39 236.03h.9M257.4 250.37h.9M278.9 238.11h.9M236.87 273.53h.9M246.3 236.56h.9M251.93 282.23h.9M262.03 225.1h.9M250.5 283.35h.9M281.54 248.77h.9M265.45 220.43h.9M265.9 212.08h.9M257.55 273.22h.9M250.63 238.71h.9M255.6 232.05h.9M273.37 234.6h.9M269.01 223.9h.9M236.79 221.22h.9M256.51 273.91h.9M248.34 293.24h.9M276.44 225.46h.9M252.33 245.42h.9M244.64 216.45h.9M257.35 259.23h.9M281.85 246.67h.9M255.6 236.9h.9M283.58 235.27h.9M253.62 246.59h.9M261.02 214.17h.9M236.07 273.13h.9M268.16 218.14h.9M251.52 234.57h.9M273.96 232.52h.9M240.68 277.97h.9M229.08 268.46h.9M275.97 249.37h.9M234.52 246.23h.9M264.16 209.94h.9M239.39 233.7h.9M271.24 240.75h.9M250.67 271.12h.9M264.93 223.56h.9M252.09 266.77h.9M265.28 223.59h.9M269.39 226.02h.9M271.46 235.33h.9M263.65 223.93h.9M314.69 199.78h.9M226.06 234.67h.9M321.74 220.88h.9M253.72 266.26h.9M248.97 232.77h.9M247.53 202.58h.9M255.49 252h.9M287.05 235.52h.9M256.56 251.2h.9M256.05 251.91h.9M287.63 228.74h.9M261.5 252.64h.9M234.19 243.79h.9M258.72 200.18h.9M255.75 240.04h.9M256.48 251.66h.9M289.64 249.07h.9M244.86 218.17h.9M226.23 218.94h.9M237.1 243.4h.9M274.15 229.12h.9M244.1 233.49h.9M252.1 245.93h.9M310.37 201.12h.9M235.48 250.71h.9M238.67 235.5h.9M234.4 268.66h.9M266.08 239.35h.9M237.83 235.07h.9M256.35 251.07h.9M264.21 230.31h.9M274.16 242.38h.9M247.66 219.15h.9M246.65 283.09h.9M250.49 233.27h.9M229.42 258.71h.9M239.37 237.9h.9M253.41 242.78h.9M327.32 202.95h.9M237.58 272.75h.9M240.73 227.53h.9M267.15 233.39h.9M276.65 228.03h.9M240.41 223.3h.9M242.46 288.08h.9M266.85 226.1h.9M268.89 252.49h.9M258.42 265.4h.9M294.66 229.24h.9M291.15 202.82h.9M259.24 224.96h.9M248.4 211.28h.9M305.1 200.85h.9M255.62 272.82h.9M233.31 272.45h.9M224.74 258.83h.9M242.11 240.58h.9M307.95 201.57h.9M321.26 221.62h.9M243.7 232.64h.9M256.02 277.69h.9M244.48 220.71h.9M265.08 223h.9M264.96 244.33h.9M253.23 280.97h.9M252.54 238.67h.9M293.82 253.15h.9M256.29 249.89h.9M230.67 254.56h.9M279.81 226.23h.9M230.27 248.24h.9M274.51 226.53h.9M229.58 250.46h.9M237.24 232.55h.9M229.43 251.83h.9M244.99 236.06h.9M241.62 240.18h.9M250.83 244.81h.9M241.66 279.53h.9M231.66 216.9h.9M289.65 225.33h.9M253.58 239.11h.9M258.23 218.79h.9M230.81 252.01h.9M255.6 235.45h.9M238.59 232.11h.9M327.23 199.31h.9M287.04 228.06h.9M308.34 224.61h.9M335.23 200.42h.9M264.06 267.64h.9M261.79 213.96h.9M266.94 234.22h.9M245.36 236.48h.9M278 202.36h.9M255.75 252.07h.9M273.59 222.62h.9M288.15 232.16h.9M256.55 258.77h.9M221.53 255.92h.9M274.67 223.84h.9M271.15 213.33h.9M260.73 234.36h.9M239.81 240.08h.9M264.67 265.74h.9M235.06 264.22h.9M257.26 211.94h.9M255.5 222.81h.9M268.36 221.71h.9M244.44 278.27h.9M273.93 223.3h.9M231.96 226.23h.9M258.44 245.11h.9M261.23 221.88h.9M238.73 228.68h.9M253.27 276.95h.9M259.58 202.08h.9M251.34 235.22h.9M237.26 239.25h.9M253.04 277.85h.9M270.82 211.4h.9M266.83 234.02h.9M273.42 262.4h.9M283.96 225.15h.9M328.55 202.64h.9M256.38 233.9h.9M316.16 223.39h.9M252.84 223.2h.9M268.91 223.25h.9M242.17 277.34h.9M262.7 247.45h.9M258.36 243.06h.9M253.63 251.77h.9M236.34 268.57h.9M266.24 230.55h.9M253.53 239.39h.9M256.28 252.87h.9M245.57 275.93h.9M233.84 250.33h.9M276.33 224.37h.9M286.52 203.27h.9M307.33 233.81h.9M261.51 231.13h.9M243.1 279.55h.9M283.94 203.64h.9M237.7 270.36h.9M307.2 201.53h.9M264.11 229.84h.9M308.3 224.05h.9M266.27 222.65h.9M237.32 242.97h.9M247.05 215.27h.9M279.62 225.36h.9M321.51 220.89h.9M234.01 257.17h.9M234.32 260.18h.9M234.08 266.12h.9M225.12 241.29h.9M302.05 227.69h.9M251.4 282.97h.9M260.38 264.46h.9M264.77 220.29h.9M262.46 218.53h.9M245.76 291.52h.9M262.75 237.95h.9M259.3 241.76h.9M314.5 201.31h.9M228.28 250.81h.9M291.64 265.64h.9M254.17 265.99h.9M271.92 231.51h.9M247.97 273.67h.9M258.26 217.14h.9M263.34 220.31h.9M273.35 230.11h.9M239.78 225.49h.9M275.92 209.33h.9M238.31 292.79h.9M281.42 230.78h.9M242.59 231.55h.9M254.56 229.41h.9M327.04 219.16h.9M231.18 220.94h.9M236.13 276.94h.9M234.49 276.4h.9M261.6 232.71h.9M245.98 224.85h.9M246.69 218.68h.9M242.76 240.13h.9M234.53 260.27h.9M281.72 227.62h.9M241.22 240.32h.9M249.78 209.78h.9M229.29 261.14h.9M263.43 249.49h.9M246.07 275.12h.9M249.72 241.77h.9M239.32 275.78h.9M234.53 247.25h.9M269.76 224.82h.9M251.1 226.35h.9M250.37 247.66h.9M263.08 252.28h.9M245.84 226.4h.9M277.09 249.55h.9M243.99 291.9h.9M272.55 225.22h.9M244.48 220.84h.9M276.09 231.27h.9M257.62 266.54h.9M258.24 210.46h.9M268.56 239.95h.9M267.7 255.41h.9M258.67 261.41h.9M284.21 225.71h.9M245.77 287.49h.9M332.39 207.97h.9M276.01 224.76h.9M258.91 236.86h.9M264.94 228.18h.9M242.67 238.33h.9M244.96 236.75h.9M234.06 258.91h.9M258.16 215.68h.9M272.8 221.93h.9M255.59 266.89h.9M265.87 213.68h.9M237.83 273.45h.9M342.08 215.13h.9M265.06 231.98h.9M278.4 225.33h.9M255.67 223.15h.9M241.1 287.08h.9M252.18 281.79h.9M252.95 267.61h.9M260.27 271.31h.9M265.26 205.63h.9M265.53 244.25h.9M235.32 223.01h.9M266.05 260.45h.9M262.96 223.26h.9M232.48 260.35h.9M258.11 242.38h.9M236.41 244.83h.9M223.3 234.48h.9M250.86 243.41h.9M291.77 225.79h.9M243.15 275.93h.9M339.86 207.29h.9M236.07 277.37h.9M256.88 279.53h.9M233.45 260.54h.9M234.9 254.45h.9M234.36 261.65h.9M250.05 234.81h.9M251.94 279.08h.9M227.03 241.99h.9M309.09 227.69h.9M256.47 217.45h.9M249.42 275.22h.9M254.6 230.29h.9M249.72 240.61h.9M267.04 224.57h.9M255.23 250.51h.9M312.88 198.04h.9M293.52 198.3h.9M233.75 258.72h.9M281.06 234.86h.9M266.47 230.85h.9M269.64 222.1h.9M258.81 244.58h.9M235.2 254.01h.9M278.86 247.7h.9M235.55 248.6h.9M245.42 275.4h.9M308.64 228.49h.9M245.36 288.84h.9M251.29 284.51h.9M242.9 231.27h.9M250.97 217.83h.9M259.72 245.12h.9M234.5 289.09h.9M291.98 260.59h.9M228.75 262.53h.9M256.71 248.96h.9M275.08 230.39h.9M270.03 235.15h.9M338.75 215.44h.9M268.27 215.24h.9M283.1 228.84h.9M234.02 257.64h.9M269.03 222.71h.9M331.03 206.18h.9M233.19 271.32h.9M343.86 204.42h.9M236.29 269.45h.9M249.67 239.06h.9M249.98 228.78h.9M227.89 258.73h.9M240.66 275.53h.9M282.75 230.15h.9M238.69 234.89h.9M234.63 258.22h.9M241.51 275.23h.9M329.98 218.98h.9M240.84 273.68h.9M254.32 255.07h.9M264.46 207.37h.9M256.82 243.82h.9M238.38 285.71h.9M258.89 249.55h.9M249.06 231.02h.9M254.23 256.03h.9M252.62 270.04h.9M332.08 215.28h.9M251.85 234.88h.9M278.36 247.39h.9M234.88 260.93h.9M253.38 277.07h.9M242.97 233.45h.9M236.06 253.86h.9M273.79 244.93h.9M284.36 260.62h.9M277.62 224.37h.9M335.83 223.68h.9M253.22 276.2h.9M262.53 216.41h.9M296.09 201.66h.9M230.23 229.2h.9M235.77 243.68h.9M246.18 235.07h.9M235.94 251.62h.9M234.28 240.01h.9M250.2 231.26h.9M249.44 270.54h.9M261.15 223.83h.9M251.98 249.5h.9M232.23 265.35h.9M269.42 225.69h.9M250.77 269.26h.9M274.35 225.92h.9M261.57 217.18h.9M273.43 245.88h.9M256.99 272.97h.9M251.34 230.84h.9M235.61 295.23h.9M255.15 277.19h.9M239.84 239.74h.9M273.48 246.92h.9M237.96 242.75h.9M253.66 248.26h.9M245.84 229.19h.9M243.4 211.8h.9M260.42 232.12h.9M274.67 226.13h.9M230.02 244.96h.9M314.16 200.76h.9M250.77 242.61h.9M244.12 231.68h.9M231.37 250.74h.9M267.33 211.01h.9M258.43 234.33h.9M237.82 243.5h.9M314.04 223.59h.9M264.41 229.33h.9M240.05 240.3h.9M250.33 270.42h.9M253.83 242.5h.9M301.96 201.62h.9M238.07 245.19h.9M230.56 273.12h.9M256.02 251.33h.9M247.27 286.18h.9M246.05 237h.9M274.13 247.02h.9M279.47 238.3h.9M231.49 241.02h.9M223.46 267.68h.9M233.88 239.34h.9M245.69 289.18h.9M245.23 237.31h.9M249.31 234.85h.9M231.47 252.76h.9M244.48 236.65h.9M275.62 230.23h.9M234 267.67h.9M283.48 231h.9M231.69 260.16h.9M262.7 263.21h.9M296.99 226.25h.9M237.12 275.07h.9M241.91 291.36h.9M274.98 222.5h.9M343.62 210.59h.9M238.66 275.39h.9M282.33 228.9h.9M255.32 263.32h.9M244.75 294.91h.9M234.58 273.98h.9M264.53 226.69h.9M310.19 223.59h.9M250.34 279.68h.9M258.47 232.25h.9M227.32 264.77h.9M238.4 239.74h.9M249.28 284.76h.9M287.04 197.88h.9M264.78 230.79h.9M283.1 206.48h.9M233.96 238.61h.9M266.8 224.26h.9M251.6 247h.9M334.21 216.69h.9M243.39 238.45h.9M234.82 261.77h.9M316.96 200.65h.9M244.04 215.61h.9M286.48 227.18h.9M240.9 240.85h.9M340.72 209.75h.9M260.58 218.98h.9M267.83 242.86h.9M317.03 221.42h.9M266.85 245.85h.9M250.86 226.78h.9M244.79 286.98h.9M234.57 245.05h.9M266.2 226.35h.9M235.88 273.05h.9M277.13 248.29h.9M282.21 229.69h.9M257.56 204.74h.9M229.26 255.81h.9M277.39 253.97h.9M248.65 274.69h.9M236.24 250.93h.9M276.23 256.31h.9M259.96 240.97h.9M258.59 223.2h.9M238.58 243.17h.9M260.81 231.72h.9M279.59 206.48h.9M280.18 203.43h.9M269.66 246.39h.9M233.44 254.9h.9M255.57 251.17h.9M279.6 227.13h.9M250 211.89h.9M262.71 243.76h.9M303.74 224.53h.9M235.04 228.15h.9M226.05 256.42h.9M252.32 236.58h.9M267.19 242.4h.9M253.96 247.52h.9M335.72 209.85h.9M315.17 224.62h.9M257.87 224.13h.9M238.3 219.02h.9M243.59 233.3h.9M241.61 292.71h.9M256.42 207.85h.9M253.13 226.02h.9M245.36 238.56h.9M265.29 214.86h.9M266.96 212.66h.9M291.57 231.72h.9M297.14 197.13h.9M250.13 276.52h.9M280.58 227.87h.9M267.13 227.92h.9M253.19 271.8h.9M236.14 271.82h.9M237.54 245.35h.9M241 234.41h.9M274.55 229.57h.9M286.77 227.82h.9M233.65 285.71h.9M274.82 255.14h.9M276.68 231.1h.9M282.24 225.54h.9M270.37 226.9h.9M253.3 285.92h.9M254.81 241.35h.9M260.76 252.75h.9M268.94 214.86h.9M331.31 214.96h.9M248.34 272.13h.9M227.65 221.35h.9M301.55 224.54h.9M266.81 259.26h.9M273.29 222.77h.9M255.11 226.08h.9M235.25 265.37h.9M226.96 239.77h.9M233.83 253.25h.9M265.6 247.09h.9M225.94 216.58h.9M272 241.95h.9M264.43 231.61h.9M234.49 264.83h.9M237.69 244.76h.9M233.14 230.11h.9M258.09 241.44h.9M287.85 252.93h.9M227.84 255.07h.9M237.01 245.66h.9M267.29 217.27h.9M285.68 226.75h.9M246.47 278.9h.9M262.2 217.03h.9M262.96 231.28h.9M277.65 238.44h.9M331.14 216.31h.9M251.04 247.6h.9M258.42 242.77h.9M269.24 252.17h.9M256 250.72h.9M270.28 239.92h.9M221.8 283.9h.9M337.63 213.07h.9M273.2 230.82h.9M338.74 206.4h.9M272.56 221.84h.9M253.42 272.7h.9M252.31 237.18h.9M271.84 228.75h.9M254.07 237.11h.9M282.91 229.69h.9M240.35 213.9h.9M257.64 252.29h.9M267.11 246.98h.9M256.28 221.99h.9M237.12 238.7h.9M227.96 253.97h.9M286.2 226.17h.9M238.3 280.37h.9M286.73 231.41h.9M279.45 250.05h.9M265.07 203.91h.9M240.23 228.84h.9M284.41 233.04h.9M261.08 232.72h.9M252.77 246.9h.9M278 250.31h.9M252.55 280.56h.9M256.83 237.4h.9M284.04 238.02h.9M247.73 284.69h.9M267.15 223.12h.9M232.77 260.16h.9M289.42 236.27h.9M256.25 242.49h.9M258.66 222.06h.9M270.59 211h.9M245.81 220.99h.9M253.52 244.23h.9M250.97 240.94h.9M280.36 238.63h.9M248.97 228.76h.9M280.32 225.18h.9M243.18 238.65h.9M273.91 227.03h.9M253.43 245.99h.9M270.15 207.23h.9M257.07 208.35h.9M226.88 251.81h.9M282.86 241.4h.9M236.19 233.17h.9M266.87 222.34h.9M282.04 235.18h.9M233 247.06h.9M230.87 273.35h.9M230.27 270.15h.9M284.88 224.42h.9M265.39 244.22h.9M241.31 212.35h.9M261.96 226.21h.9M258.87 259.37h.9M244.18 278.22h.9M252.73 271.49h.9M259.15 240.23h.9M232.91 228.9h.9M256.49 272.55h.9M273.83 209.45h.9M257.45 240.05h.9M268.71 235.76h.9M292.85 254.73h.9M273.22 209.31h.9M264.45 239.22h.9M275.16 226.06h.9M251.22 273.41h.9M257.77 226.96h.9M283.25 226.95h.9M251.63 270.14h.9M273.08 241.25h.9M294.33 225.32h.9M250.32 234.89h.9M294.6 224.92h.9M267.53 215.5h.9M278.19 225.82h.9M270.04 208.52h.9M262.85 258.44h.9M260.89 217.17h.9M246.13 225.33h.9M250.36 272.38h.9M237.63 273.41h.9M283.18 248.29h.9M257.24 220.97h.9M274.55 253.28h.9M240.77 219.32h.9M236.63 252.52h.9M235.01 273.17h.9M232.88 263.83h.9M253.67 239.14h.9M275.51 230.53h.9M245.04 214.11h.9M242.24 227.59h.9M264.52 231.55h.9M234.44 243.9h.9M269.06 239.79h.9M243.3 223.23h.9M239.35 231.08h.9M269.57 242.01h.9M278.51 249.42h.9M229.21 241.72h.9M258.18 249.25h.9M296.39 229.89h.9M243.08 276.55h.9M281.07 242.68h.9M327.22 220.68h.9M269.79 230.72h.9M236.44 211.32h.9M266.59 213.46h.9M301.53 229.17h.9M248.19 281.44h.9M232.48 264.77h.9M252 232.68h.9M281.67 232.46h.9M249.03 237.06h.9M257.12 258.88h.9M278.84 197.12h.9M232.35 260.2h.9M305.71 224.7h.9M266.99 236.56h.9M235.98 268.62h.9M253.67 284.93h.9M261.11 229.6h.9M254.7 223.89h.9M232.66 232.09h.9M248.87 241.56h.9M255.45 213.52h.9M233.87 280.64h.9M265.28 228.64h.9M271.43 210.86h.9M271.89 221.82h.9M253.31 251.53h.9M229.18 244.29h.9M262.2 213.28h.9M241.78 230.85h.9M245.28 278.57h.9M237 242.29h.9M257.74 235.38h.9M271 234.57h.9M286.92 244.32h.9M282.84 231.54h.9M259.5 243.24h.9M243.23 226.98h.9M226.77 243.84h.9M253.83 266.42h.9M317.17 225.54h.9M233.45 241.25h.9M238.42 227.68h.9M234.81 274.27h.9M248.39 278.56h.9M266.51 223.3h.9M256.16 262.46h.9M255.69 280.19h.9M241.51 228.74h.9M264.12 231.46h.9M267.11 242.5h.9M246.44 237.57h.9M236.95 270.08h.9M269.49 220.27h.9M252.22 202.8h.9M231.33 270.88h.9M235.82 247.11h.9M268.37 227.99h.9M251.81 247.19h.9M254.74 284.27h.9M233.24 259.97h.9M249.77 276.08h.9M229.98 234.82h.9M325.68 218.88h.9M292.46 238.91h.9M264.02 241.32h.9M236.48 269.12h.9M239.61 236.5h.9M252.07 236.55h.9M263.39 225.78h.9M274.15 236.28h.9M230.12 267.87h.9M235.47 247.91h.9M247.09 218.87h.9M228.84 228.71h.9M254.32 260.02h.9M276.79 225.9h.9M279.14 235.6h.9M265 212.14h.9M317.5 221.44h.9M259.62 230.91h.9M230.74 232.1h.9M245.02 221.67h.9M251.6 272.63h.9M265.8 252.36h.9M279.29 226.23h.9M228.59 233.64h.9M263.17 238.62h.9M260.13 255.47h.9M280.06 246.57h.9M244.03 276.42h.9M264.42 256.52h.9M247.07 285.37h.9M266.51 239.66h.9M308.06 200.91h.9M256 247.98h.9M274.26 225.28h.9M253.49 263.94h.9M263 240.6h.9M270.35 247.84h.9M259.98 228.08h.9M272.83 211.21h.9M275.43 229.46h.9M262.02 211.84h.9M249.32 229.61h.9M247.03 235.95h.9M277.05 247.04h.9M308.29 224.43h.9M269.93 223.72h.9M239.1 283.37h.9M275.5 225.15h.9M222.08 220.96h.9M246.44 237.63h.9M271.81 225.6h.9M266.67 229.12h.9M250.26 245.35h.9M241.66 240.16h.9M270.12 212.17h.9M240.9 287.02h.9M259.89 238.15h.9M261.67 242.94h.9M233.27 238.46h.9M243.3 287.94h.9M275.14 244.2h.9M231.84 247.85h.9M244.67 214.22h.9M234.78 252.73h.9M240.33 220.17h.9M262.07 213.19h.9M225.14 260.75h.9M292.55 226.06h.9M270.35 228.9h.9M228.8 280.97h.9M301.64 228.48h.9M243.87 277.95h.9M263.19 216.53h.9M262.8 241.77h.9M286.16 225.33h.9M276.51 241.83h.9M288.02 203.76h.9M331.37 204.49h.9M289.93 244.7h.9M248.56 227.8h.9M250.76 239.83h.9M261.41 221.63h.9M263.81 219.47h.9M247.93 278.72h.9M268.42 216.03h.9M242.05 275.27h.9M228.62 247.37h.9M234.13 288.53h.9M267.86 210.17h.9M272.68 243.63h.9M228.3 256.34h.9M232.02 238.49h.9M272.78 240.64h.9M253.31 269.66h.9M277.56 239.38h.9M271.5 237h.9M258.36 244.84h.9M248.7 213.33h.9M246.66 228.35h.9M236.17 238.76h.9M253.02 249.06h.9M287.55 227.81h.9M259.51 253.11h.9M254 221.68h.9M236.78 237.04h.9M284.3 251.16h.9M265.69 258.77h.9M283.05 240.14h.9M233.45 275.06h.9M252.88 222.64h.9M302.66 245.72h.9M262.38 243.86h.9M266.99 218.28h.9M261.33 227.65h.9M251.57 244.54h.9M234.54 280.93h.9M233.86 270.39h.9M242.67 286.76h.9M270.05 214.93h.9M264.01 216.15h.9M291.81 228.79h.9M240.88 273.52h.9M253.63 271.98h.9M270.33 225.26h.9M242.05 282.26h.9M289.32 232.34h.9M277.19 230.51h.9M253.47 250.96h.9M273.99 224.77h.9M251.28 242.49h.9M273.02 234.18h.9M237.57 225.07h.9M277.17 239.71h.9M236.6 269.18h.9M237.01 238.22h.9M306.25 202.17h.9M281.01 252.2h.9M273.79 231.7h.9M254.95 257.2h.9M283.54 228.88h.9M250.55 274.95h.9M248.97 271.41h.9M255.75 236.28h.9M250.28 246.49h.9M226.73 242.08h.9M268.14 216.62h.9M291.4 226.38h.9M290.57 227.48h.9M260.67 271.66h.9M309.84 229.55h.9M242.13 276.42h.9M264.18 205.64h.9M258.88 232.66h.9M257.65 247.15h.9M269.92 252.32h.9M300.16 226.88h.9M251.41 240.05h.9M316 200.04h.9M301 265.05h.9M244.78 275.06h.9M272.79 248.89h.9M277.36 245.2h.9M245.69 279.73h.9M287.14 243.17h.9M237.6 283.15h.9M265.65 221.94h.9M258.68 231.91h.9M246.87 277.1h.9M253.53 289.05h.9M279.84 245.61h.9M252.28 237.77h.9M231.74 253.02h.9M281.31 246.61h.9M265.06 229.83h.9M250.33 240.36h.9M252.68 295.33h.9M254.13 234.56h.9M280.01 235.39h.9M295.11 237.68h.9M265.85 257.78h.9M259.5 230.46h.9M235.4 266.44h.9M268.31 230.9h.9M251.94 286.43h.9M256.48 269.57h.9M235.29 250.11h.9M269.53 240.3h.9M231.99 272.76h.9M254.23 225.49h.9M238.77 280.68h.9M254.57 277.34h.9M283.06 246.76h.9M232.43 295.03h.9M236.27 226.44h.9M239.61 235.13h.9M236.45 271.78h.9M263.74 218.97h.9M256.66 233.93h.9M258.45 222.77h.9M236.68 279.46h.9M263.42 240.61h.9M257.8 274.37h.9M278.16 240.23h.9M257.05 227.37h.9M254.65 264.02h.9M283.34 248.73h.9M266.89 242.33h.9M266.02 228.66h.9M332.1 207.29h.9M263.13 210.75h.9M245.57 231.59h.9M258.61 264.7h.9M234.28 249.64h.9M268.63 212.48h.9M253.57 256.92h.9M331 205.41h.9M273.95 224.9h.9M238.68 242.91h.9M248.53 221.23h.9M267.18 221.65h.9M268.45 216.19h.9M285.23 232.89h.9M224.87 270.63h.9M284.05 237.01h.9M283.23 205.05h.9M234.41 248.61h.9M310.93 224.61h.9M267.89 242.41h.9M254.63 258.9h.9M302.83 245.83h.9M257.09 274.24h.9M259.97 244.36h.9M252.58 238.37h.9M254.28 268.84h.9M267.69 238.79h.9M256.27 241.1h.9M236.16 252.95h.9M241.62 238.73h.9M236.11 236.3h.9M275.56 222.69h.9M238.37 236.63h.9M308.89 224.44h.9M270.88 194.42h.9M273.47 226.66h.9M244.85 280.2h.9M233.62 255.22h.9M257.93 229.59h.9M283.41 228.84h.9M277.58 243.53h.9M258.31 264.42h.9M231.48 265.41h.9M254.99 267.21h.9M234.22 264.94h.9M249.58 229.96h.9M245.69 235.21h.9M271.4 221.69h.9M255.95 218.37h.9M286.55 227.59h.9M244.08 276.64h.9M324.48 199.33h.9M263.6 230.75h.9M266.29 214.52h.9M254.93 252.06h.9M236.67 245.75h.9M266.74 227.61h.9M271.53 223.82h.9M256.65 244.79h.9M254.41 294.8h.9M242.29 283.32h.9M260.3 235.12h.9M272.68 236.98h.9M249.79 244.02h.9M270.04 214.38h.9M256.1 230.31h.9M254 211.31h.9M234.8 252.33h.9M277.63 224.58h.9M241.61 226.18h.9M279.38 246.91h.9M227.7 247.37h.9M272.15 236.91h.9M274.5 261.48h.9M273.21 233.58h.9M255.6 255.56h.9M270.8 207.19h.9M243.7 229.32h.9M245.28 278.42h.9M249.12 278.9h.9M248.5 224.26h.9M271.72 239.38h.9M233.92 253.67h.9M243.15 289.41h.9M240.22 274.83h.9M248.73 225.49h.9M257.22 218.23h.9M303.39 202.22h.9M250.04 272.9h.9M235.66 251.8h.9M248.64 228.98h.9M228.04 247.18h.9M258.41 226.61h.9M285.32 237.73h.9M225.04 249.87h.9M289.58 229.12h.9M291.84 226.47h.9M232.34 251.27h.9M240.43 221.58h.9M265.27 242.32h.9M235.35 273.31h.9M287.56 237.66h.9M272.21 224.15h.9M263.24 257.64h.9M227.38 270.83h.9M248.47 271.4h.9M286.5 244.67h.9M261.11 284.74h.9M254.21 255.6h.9M275.33 248.6h.9M266.87 209.75h.9M243.73 231.85h.9M235.5 242.66h.9M251.13 289h.9M239.49 288.9h.9M229.87 259.57h.9M250.64 238.11h.9M241.29 238.87h.9M253.73 250.65h.9M238.07 239.6h.9M251.4 245.91h.9M236.8 212.74h.9M243.16 235.09h.9M279.44 233.51h.9M252.74 242.06h.9M246.63 235.02h.9M252.18 267.97h.9M258.53 275.06h.9M239.63 287.07h.9M267.5 235.12h.9M260.91 210.08h.9M274.38 237.38h.9M335.53 208.64h.9M247.75 276.56h.9M291.39 226.38h.9M238.55 288.84h.9M298.17 237.91h.9M254.22 236.15h.9M231.04 265.24h.9M255.76 229.9h.9M235.74 265.82h.9M262.91 228.94h.9M278.54 234.49h.9M245.49 278.29h.9M245.96 238.34h.9M252.94 268.78h.9M236.19 247.04h.9M245.3 282.59h.9M245.18 223.94h.9M282.1 207.11h.9M226.55 248.52h.9M269.89 247.91h.9M223.33 270.71h.9M278.66 243.2h.9M331.58 206.58h.9M263.91 219.88h.9M241.23 278.57h.9M302.05 201.78h.9M329.96 221.53h.9M255.83 258.55h.9M264.27 225.91h.9M341.78 206.68h.9M319.87 202.56h.9M231.31 255.51h.9M249.55 244.11h.9M232.88 242.2h.9M332.62 205.81h.9M255.6 246.95h.9M278.55 205.1h.9M279.82 229.74h.9M240.79 239.59h.9M256.84 226.38h.9M280.5 235.55h.9M259.18 246.98h.9M242.31 229.66h.9M237.45 286.16h.9M246.71 217.22h.9M263.38 215.51h.9M228.39 269.57h.9M230.76 254.29h.9M241.14 276.93h.9M243.57 279.48h.9M269.69 219.58h.9M301.31 200.62h.9M247.1 279.74h.9M236.2 273.64h.9M241.28 238.44h.9M266 243.18h.9M260.64 219.62h.9M309.17 226.24h.9M260.1 235.29h.9M266.24 235.06h.9M242.68 286.82h.9M255.2 255.38h.9M249.73 282.68h.9M257.38 219.18h.9M239.21 236.44h.9M258.23 258.03h.9M264.71 221.85h.9M237.09 243.75h.9M238.95 224.93h.9M337.17 211.57h.9M288.58 228.79h.9M250.35 222.07h.9M265.07 226.62h.9M256.72 222.66h.9M249.68 273.23h.9M238.37 274.28h.9M245.2 283h.9M254.17 263.82h.9M233.83 270.51h.9M265.3 223.37h.9M235.87 272.46h.9M253.89 251.53h.9M243.72 225.77h.9M232.78 265.83h.9M232.53 250.92h.9M275.9 223.73h.9M289.8 200.59h.9M257.21 228.36h.9M251.25 225.74h.9M321.6 202.77h.9M285.31 225.91h.9M280.95 248.9h.9M243.49 237.87h.9M323.13 222.85h.9M267.1 219.26h.9M256.69 263.33h.9M244.64 237.2h.9M260.59 252.38h.9M270.05 223.42h.9M253.89 236.54h.9M235.77 278.39h.9M246.17 276.44h.9M281.86 243.34h.9M243.46 234.67h.9M284.45 229.25h.9M238.55 196.2h.9M277.22 229.4h.9M244.41 227.95h.9M270.71 222.76h.9M235.24 267.55h.9M332.86 219.41h.9M255.24 271.42h.9M276.07 224.77h.9M255.41 256.54h.9M254.6 229.58h.9M224.42 252.18h.9M284.3 240.64h.9M280.64 229.17h.9M252.99 236.69h.9M277.56 233.77h.9M246.29 234.5h.9M232.74 223.32h.9M265.77 223.41h.9M273.33 250.09h.9M281.06 231.18h.9M252.22 233.96h.9M323.88 199.52h.9M262.4 241.39h.9M265.68 222.74h.9M283.57 230.23h.9M220.98 266.36h.9M263.37 215.99h.9M278.74 225.06h.9M265.07 238.98h.9M234.06 253.34h.9M249.21 243.4h.9M266.08 269.31h.9M239.46 280.96h.9M256.8 227.04h.9M239.88 225.11h.9M256.95 232.97h.9M321.78 203.03h.9M274.07 223.26h.9M258.25 238.26h.9M268.13 220.36h.9M241.14 273.87h.9M241.3 225.4h.9M234.86 272.98h.9M254.75 232.67h.9M261.65 219.21h.9M235.87 243.92h.9M251.93 224.95h.9M243.45 284.87h.9M230.64 267.38h.9M231.12 247.71h.9M254.87 237.11h.9M237.58 274.01h.9M253.88 226.65h.9M240.11 223.22h.9M287.11 229.39h.9M296.13 226.19h.9M259.4 227.91h.9M294.17 247.18h.9M258.25 245.71h.9M295.51 225.33h.9M243.29 276.11h.9M239.04 272.85h.9M249.34 238.58h.9M238.73 229.75h.9M301.92 225.93h.9M233.8 276.28h.9M318 201.15h.9M248.12 232.06h.9M269.39 223.13h.9M237.25 236.37h.9M265.27 221.83h.9M289.55 225.9h.9M270.42 222.43h.9M253.28 248.53h.9M250.17 238.39h.9M246.5 282.81h.9M272.01 251.4h.9M240.52 228.08h.9M265.72 215.44h.9M291.04 231.49h.9M262.76 225.76h.9M225.07 228.49h.9M264.91 233.7h.9M248.33 237.02h.9M251.89 245.82h.9M245.24 229.29h.9M237.19 274.97h.9M332.71 206.04h.9M276.05 225.98h.9M269.44 237.38h.9M253.09 270.05h.9M260.63 230.37h.9M247.71 223.22h.9M256.31 226.31h.9M254.4 249.47h.9M255.64 245.76h.9M263.68 219.22h.9M269.91 227.01h.9M261.93 218.85h.9M256.12 236.91h.9M249.82 236.35h.9M230.76 248.59h.9M238.59 275.45h.9M274.16 226.24h.9M267.57 230.31h.9M233.94 260.19h.9M241.18 238.19h.9M263.74 213.21h.9M273.87 227.2h.9M234.68 244.77h.9M284.38 204.63h.9M237.98 227.4h.9M285.05 245.25h.9M248.05 272.54h.9M271.29 240.57h.9M284.36 227.13h.9M281.97 249.31h.9M268.12 245.78h.9M254.06 264.14h.9M270.5 236.31h.9M260.62 246.05h.9M258.56 253.37h.9M268.46 224.11h.9M244.53 291.38h.9M260.53 228.61h.9M234.23 253.65h.9M253.63 275.28h.9M234.9 268.27h.9M278.36 230.04h.9M270.16 231.13h.9M286.79 241.35h.9M277.2 225.44h.9M240.06 288.46h.9M237.16 234.05h.9M228.14 248.88h.9M251.18 243.21h.9M252.53 246.08h.9M271.22 212.79h.9M260.6 224.88h.9M245.46 237.51h.9M260.29 244.35h.9M238.55 274.12h.9M264.02 214.45h.9M249.13 217.66h.9M235.62 265.8h.9M238.82 215.49h.9M271.41 225.64h.9M236.79 237.87h.9M239.45 220.19h.9M255.71 264.14h.9M235.88 284.72h.9M244.51 274.88h.9M273.77 226.18h.9M254.29 275.81h.9M246.51 277.84h.9M231.14 262.5h.9M241.19 279.82h.9M231.18 264.35h.9M268.92 230.58h.9M296.09 238.55h.9M253.42 225.99h.9M294.4 241.94h.9M290.39 234.15h.9M238.8 230.23h.9M342.44 209.97h.9M321.02 222.19h.9M287.56 226.62h.9M276.15 262.05h.9M291.08 245.88h.9M244.39 219.38h.9M234.62 268.55h.9M250.26 280.85h.9M237.33 271.36h.9M238.52 237.84h.9M257.15 256.51h.9M231.28 253.68h.9M255.77 226.42h.9" stroke="#8a8a8a" stroke-width=".9" fill="none"/>
<path d="M220 198.41 220.5 198.83 220.73 199.5 220.6 200.5 220.26 201ZM299.5 225.52 298.5 225.59 297.5 225.67 296.5 225.66 295.98 225.5 295 225.03 294.5 224.87 293.5 224.83 292.63 225 292 225.12 291 225.12 290.33 225 289.5 224.8 288.5 224.57 288 224.49 287 224.41 286 224.35 285 224.26 284 224.15 283 224.14 282 224.33 281.33 224.5 280.5 224.63 279.5 224.53 279 224.37 278.25 224 277.5 223.55 277 223.25 276.5 222.97 275.56 222.5 275 222.25 274.32 222 273.5 221.75 272.63 221.5 272 221.25 271.5 220.99 270.8 220.5 270.33 220 270 219.17 269.95 218.5 270 217.9 270.15 217 270.41 216 270.56 215.5 270.85 214.5 271 214 271.38 213 271.66 212.5 272.12 212 272.72 211.5 273.24 211 273.81 210.5 274.5 210.05 275 209.83 276 209.56 276.5 209.43 277.44 209 278 208.62 278.5 208.28 279.06 208 280 207.73 281 207.55 281.5 207.46 282.5 207.17 283 206.97 283.81 206.5 284.42 206 284.92 205.5 285.4 205 285.92 204.5 286.5 204.09 287 203.98 287.5 204.06 288.5 204.37 289.15 204.5 290 204.54 290.66 204.5 291.5 204.35 292.5 204.07 293 203.89 294 203.57 294.5 203.46 295.5 203.3 296.5 203.17 297.5 203.03 298 202.95 299 202.8 300 202.68 301 202.56 301.62 202.5 302.5 202.4 303.5 202.33 304.5 202.27 305.5 202.17 306.5 202.01 307 201.93 308 201.82 309 201.8 310 201.84 311 201.86 312 201.83 313 201.73 314 201.59 315 201.52 316 201.73 316.58 202 317.5 202.34 318.07 202.5 319 202.67 320 202.93 320.5 203.1 321.5 203.44 322 203.58 323 203.73 324 203.7 325 203.53 325.5 203.47 326.5 203.5 327 203.59 328 203.9 328.5 204.15 329 204.52 329.5 205.05 330 205.65 330.5 206.23 331 206.81 331.49 207.5 331.76 208 332 208.5 332.49 209.5 332.8 210 333.21 210.5 333.72 211 334.21 211.5 334.53 212 334.5 212.87 334 213.33 333.5 213.54 332.5 213.85 332 214.11 331.5 214.56 331 215.27 330.56 216 330.17 216.5 329.52 217 329 217.23 328.22 217.5 327.5 217.72 326.63 218 326 218.21 325.22 218.5 324.5 218.84 324 219.12 323.41 219.5 322.56 220 322 220.21 321 220.43 320.5 220.54 319.5 220.81 318.76 221 318 221.2 317 221.42 316.5 221.53 315.5 221.82 314.96 222 314 222.41 313.5 222.6 312.5 222.89 311.82 223 311 223.16 310 223.37 309.37 223.5 308.5 223.66 307.5 223.75 306.5 223.77 305.5 223.81 304.5 223.87 303.5 223.95 303 224.01 302 224.29 301.46 224.5 300.59 225 300 225.37 299.5 225.52ZM243.5 275.08 242.9 275 242.13 274.5 241.63 274 241.17 273.5 240.7 273 240.19 272.5 239.58 272 239 271.57 238.5 271.14 238 270.55 237.66 270 237.38 269.5 237 268.85 236.5 268.03 236.2 267.5 236 266.63 235.97 266 235.92 265 235.73 264 235.5 263.23 235.33 262.5 235.14 261.5 235 260.96 234.67 260 234.53 259 234.92 258 235.17 257.5 235.42 256.5 235.43 255.5 235.53 255 236 254.16 236.3 253.5 236.5 252.77 236.5 252 236.37 251.5 236 250.69 235.67 250 235.5 249.46 235.5 248.91 235.97 248 236.43 247.5 236.88 247 237.27 246.5 237.63 246 238 245.44 238.49 244.5 238.68 244 239 243.03 239.31 242.5 239.75 242 240.38 241.5 241 241.16 241.5 240.94 242.5 240.54 243 240.3 243.5 240 244.25 239.5 245 239.02 245.5 238.8 246.23 238.5 247 238.12 247.5 237.84 248.5 237.52 249.06 238 249.43 239 249.56 239.5 249.5 240.3 249 240.95 248.51 241.5 248.26 242 248.3 243 248.55 243.5 249 244.15 249.49 245 249.71 245.5 250 246.31 250.23 247 250.5 247.78 250.86 248.5 251.2 249 251.58 249.5 252 250.12 252.46 251 252.71 251.5 253.04 252 253.5 252.62 254 253.42 254.21 254 254.15 255 253.94 255.5 253.5 256.38 253.23 257 253.03 258 253.02 259 253 259.99 252.95 260.5 252.85 261.5 252.87 262.5 253 263.41 253.07 264 252.97 264.5 252.5 265.23 252.03 266 251.77 266.5 251.5 267.07 251.12 268 250.91 268.5 250.5 269.31 250 269.95 249.5 270.44 249 270.91 248.5 271.44 248.08 272 247.77 272.5 247.49 273 247 273.8 246.5 274.39 246 274.74 245 274.83 244 274.97 243.5 275.08ZM301.52 297 302.04 296.5 303 296.38 303.5 296.51 304.09 297ZM302 222.02 301 222.07 300 222.1 299 222.12 298 222.13 297 222.12 296 222.1 295 222.07 294 222.02 293.5 221.99 292.5 221.93 291.5 221.85 290.5 221.75 289.5 221.64 288.51 221.5 288 221.43 287 221.26 286 221.07 285.5 220.97 284.5 220.73 283.65 220.5 283 220.3 282.13 220 281.5 219.75 280.95 219.5 280.02 219 279.5 218.65 279 218.25 278.5 217.73 278.03 217 277.85 216.5 277.8 215.5 278 214.79 278.39 214 278.74 213.5 279.16 213 279.66 212.5 280.22 212 280.85 211.5 281.5 211.04 282 210.71 282.5 210.39 283.16 210 284 209.54 284.5 209.28 285.06 209 286 208.56 286.5 208.33 287.28 208 288 207.71 288.54 207.5 289.5 207.14 290 206.97 291 206.64 291.5 206.48 292.5 206.18 293.15 206 294 205.76 295 205.52 295.5 205.4 296.5 205.17 297.39 205 298 204.88 299 204.69 300 204.54 300.5 204.47 301.5 204.32 302.5 204.2 303.5 204.1 304.5 204.02 305 203.98 306 203.91 307 203.86 308 203.82 309 203.81 310 203.81 311 203.83 312 203.87 313 203.93 313.82 204 314.5 204.06 315.5 204.16 316.5 204.29 317.5 204.45 318 204.54 319 204.74 320 204.99 320.5 205.11 321.5 205.41 322 205.58 323 205.95 323.5 206.16 324.2 206.5 325 206.94 325.5 207.26 326 207.62 326.5 208.03 327 208.54 327.5 209.19 327.92 210 328.07 210.5 328.15 211.5 328 212.26 327.73 213 327.45 213.5 327 214.12 326.5 214.69 326 215.17 325.5 215.59 324.96 216 324.22 216.5 323.5 216.94 323 217.22 322.45 217.5 321.5 217.96 321 218.18 320.22 218.5 319.5 218.79 318.89 219 318 219.31 317.39 219.5 316.5 219.77 315.65 220 315 220.18 314 220.42 313.5 220.53 312.5 220.75 311.5 220.94 311 221.03 310 221.21 309 221.36 308 221.49 307.5 221.56 306.5 221.68 305.5 221.78 304.5 221.87 303.5 221.94 302.5 222 302 222.02ZM244.5 261.14 243.5 261.14 243 260.5 242.82 260 242.57 259 242.5 258.12 242.5 257.88 242.57 257 242.82 256 243 255.5 243.5 254.86 244.5 254.86 245 255.5 245.18 256 245.43 257 245.5 257.88 245.5 258.12 245.43 259 245.18 260 245 260.5 244.5 261.14ZM305.5 220.02 304.5 220.09 303.5 220.15 302.5 220.18 301.5 220.19 300.5 220.19 299.5 220.17 298.5 220.13 297.5 220.06 296.76 220 296 219.93 295 219.82 294 219.67 293.01 219.5 292.5 219.4 291.5 219.18 290.79 219 290 218.77 289.21 218.5 288.5 218.22 288 217.99 287.1 217.5 286.5 217.08 286 216.62 285.51 216 285.27 215.5 285.15 214.5 285.43 213.5 285.7 213 286.06 212.5 286.51 212 287.03 211.5 287.65 211 288.35 210.5 289 210.09 289.5 209.8 290.05 209.5 291 209.03 291.5 208.8 292.19 208.5 293 208.18 293.5 207.99 294.5 207.64 295 207.49 296 207.18 296.67 207 297.5 206.78 298.5 206.55 299 206.45 300 206.24 301 206.07 301.5 205.99 302.5 205.84 303.5 205.72 304.5 205.61 305.5 205.53 306 205.5 307 205.43 308 205.39 309 205.36 310 205.36 311 205.37 312 205.41 313 205.47 313.5 205.51 314.5 205.6 315.5 205.72 316.5 205.88 317.09 206 318 206.19 319 206.46 319.5 206.6 320.5 206.96 321 207.16 321.7 207.5 322.5 207.96 323 208.3 323.5 208.72 324 209.25 324.5 210 324.71 210.5 324.83 211.5 324.61 212.5 324.37 213 324 213.55 323.5 214.14 323 214.62 322.5 215.02 321.83 215.5 321.01 216 320.5 216.29 320 216.54 319 216.99 318.5 217.21 317.74 217.5 317 217.77 316.29 218 315.5 218.25 314.58 218.5 314 218.66 313 218.9 312.5 219 311.5 219.22 310.5 219.4 309.86 219.5 309 219.64 308 219.77 307 219.89 306 219.98 305.5 220.02ZM307 218.02 306 218.1 305 218.15 304 218.19 303 218.19 302 218.17 301 218.12 300 218.04 299.5 217.99 298.5 217.86 297.5 217.69 296.61 217.5 296 217.35 295 217.04 294.5 216.85 293.72 216.5 293 216.08 292.5 215.7 292 215.18 291.61 214.5 291.53 213.5 291.95 212.5 292.32 212 292.82 211.5 293.44 211 294 210.62 294.5 210.32 295.08 210 296 209.57 296.5 209.35 297.43 209 298 208.8 298.98 208.5 299.5 208.35 300.5 208.1 301 207.99 302 207.78 303 207.6 303.62 207.5 304.5 207.37 305.5 207.24 306.5 207.13 307.5 207.05 308.21 207 309 206.95 310 206.91 311 206.9 312 206.91 313 206.95 313.61 207 314.5 207.08 315.5 207.21 316.5 207.41 317 207.53 318 207.81 318.52 208 319.5 208.43 320 208.71 320.5 209.05 321.03 209.5 321.5 210.09 321.87 211 321.82 212 321.5 212.72 321 213.4 320.5 213.89 320 214.29 319.5 214.63 318.88 215 318 215.44 317.5 215.67 316.65 216 316 216.24 315.15 216.5 314.5 216.7 313.5 216.95 313 217.07 312 217.29 311 217.48 310.5 217.57 309.5 217.73 308.5 217.86 307.5 217.97 307 218.02ZM308.5 216.01 307.5 216.06 306.5 216.09 305.5 216.09 304.5 216.06 303.5 216 303 215.95 302 215.82 301 215.62 300.49 215.5 299.5 215.15 299 214.92 298.35 214.5 297.88 214 297.68 213 298 212.33 298.5 211.78 299 211.38 299.6 211 300.5 210.56 301 210.35 301.93 210 302.5 209.82 303.5 209.52 304 209.39 305 209.14 305.63 209 306.5 208.82 307.5 208.64 308.46 208.5 309 208.43 310 208.32 311 208.26 312 208.23 313 208.25 314 208.33 315 208.47 315.5 208.57 316.5 208.84 317 209.01 318 209.5 318.5 209.86 319 210.39 319.32 211 319.28 212 319 212.54 318.5 213.12 318 213.53 317.26 214 316.5 214.38 316 214.58 315 214.93 314.5 215.08 313.5 215.33 312.66 215.5 312 215.62 311 215.77 310 215.88 309 215.97 308.5 216.01ZM312.5 214.02 311.5 214.13 310.5 214.18 309.5 214.15 308.5 214.07 308 214 307 213.76 306.22 213.5 305.5 213.02 305.24 212.5 305.5 211.84 306 211.35 306.5 210.99 307.48 210.5 308 210.31 308.95 210 309.5 209.87 310.5 209.68 311.5 209.57 312.5 209.54 313.5 209.6 314.5 209.77 315.3 210 316 210.36 316.5 210.8 316.8 211.5 316.5 212.27 316 212.77 315.5 213.1 314.62 213.5 314 213.7 313 213.94 312.5 214.02ZM312.5 213.07 311.5 213.15 310.5 213.1 309.9 213 309 212.61 308.59 212 309 211.38 309.56 211 310.5 210.67 311.22 210.5 312 210.42 313 210.44 313.5 210.51 314.5 210.89 315 211.47 315 211.56 314.5 212.35 314 212.65 313 212.99 312.5 213.07Z" stroke="#6a6a6a" stroke-width="0.7" fill="none" stroke-linejoin="round"/>
<rect x="220" y="187" width="126" height="110" fill="none" stroke="#231f20" stroke-width="1.1"/>
<line x1="258.6" y1="187" x2="258.6" y2="297" stroke="#231f20" stroke-width="1.2"/>
<line x1="220" y1="232.6" x2="346" y2="232.6" stroke="#231f20" stroke-width="1.2"/>
<path d="M220 248.6h-3.0M220 240.79h-1.8M220 236.22h-1.8M220 232.98h-1.8M220 230.46h-1.8M220 228.41h-1.8M220 226.67h-1.8M220 225.16h-1.8M220 223.84h-1.8M220 222.6h-3.0M220 214.79h-1.8M220 210.22h-1.8M220 206.98h-1.8M220 204.46h-1.8M220 202.41h-1.8M220 200.67h-1.8M220 199.16h-1.8M220 197.84h-1.8M220 196.7h-3.0M220 188.89h-1.8M220 280.1h-3.0M220 286.7h-1.8M220 293.3h-1.8M220 273.5h-1.8M220 266.9h-1.8M220 260.3h-1.8M220 253.7h-1.8M220 297h-3.0M248.5 297v3.0M257.15 297v1.8M262.21 297v1.8M265.8 297v1.8M268.58 297v1.8M270.86 297v1.8M272.78 297v1.8M274.45 297v1.8M275.92 297v1.8M278 297v3.0M286.65 297v1.8M291.71 297v1.8M295.3 297v1.8M298.08 297v1.8M300.36 297v1.8M302.28 297v1.8M303.95 297v1.8M305.42 297v1.8M307 297v3.0M315.65 297v1.8M320.71 297v1.8M324.3 297v1.8M327.08 297v1.8M329.36 297v1.8M331.28 297v1.8M332.95 297v1.8M334.42 297v1.8M334.7 297v3.0M343.35 297v1.8M235.4 297v3.0M227.4 297v1.8M243.4 297v1.8M220 297v3.0" stroke="#231f20" stroke-width=".8" fill="none"/>
<text x="210.8" y="198.61" font-size="7.8" text-anchor="end" fill="#231f20">10</text>
<text x="211.1" y="195.41" font-size="5.62" fill="#231f20">5</text>
<text x="210.8" y="224.51" font-size="7.8" text-anchor="end" fill="#231f20">10</text>
<text x="211.1" y="221.31" font-size="5.62" fill="#231f20">4</text>
<text x="210.8" y="250.51" font-size="7.8" text-anchor="end" fill="#231f20">10</text>
<text x="211.1" y="247.31" font-size="5.62" fill="#231f20">3</text>
<text x="210.8" y="282.01" font-size="7.8" text-anchor="end" fill="#231f20">0</text>
<text x="210.8" y="299.31" font-size="7.8" text-anchor="end" fill="#231f20">−285</text>
<text x="234.5" y="308.6" font-size="7.8" text-anchor="middle" fill="#231f20">0</text>
<text x="244.6" y="308.6" font-size="7.8" text-anchor="middle" fill="#231f20">10<tspan dy="-3.2" font-size="5.62">2</tspan></text>
<text x="276.4" y="308.6" font-size="7.8" text-anchor="middle" fill="#231f20">10<tspan dy="-3.2" font-size="5.62">3</tspan></text>
<text x="305.6" y="308.6" font-size="7.8" text-anchor="middle" fill="#231f20">10<tspan dy="-3.2" font-size="5.62">4</tspan></text>
<text x="333.7" y="308.6" font-size="7.8" text-anchor="middle" fill="#231f20">10<tspan dy="-3.2" font-size="5.62">5</tspan></text>
<text x="220.4" y="314.4" font-size="7.8" text-anchor="middle" fill="#231f20">−159</text>
<text x="223.8" y="197.4" font-size="7.9" fill="#231f20">1.0</text>
<text x="342.6" y="197.4" font-size="7.9" text-anchor="end" fill="#231f20">79.3</text>
<text x="221.8" y="295" font-size="7.9" fill="#231f20">16.0</text>
<text x="342.8" y="295" font-size="7.9" text-anchor="end" fill="#231f20">3.6</text>
<text x="257.9" y="184.6" font-size="9.6" textLength="50.9" lengthAdjust="spacingAndGlyphs" fill="#231f20">Other sHLH</text>
<path d="M429.8 225.58h.9M420.98 254.19h.9M425.76 224.85h.9M426.6 212.4h.9M419.34 218.28h.9M422.89 219.51h.9M414.91 222.87h.9M457 205.91h.9M427.76 225.38h.9M452.64 208.86h.9M426.89 217.38h.9M408.53 268.4h.9M427.92 217.19h.9M430.07 222.82h.9M403.32 231.13h.9M469.51 208.67h.9M421.16 232.44h.9M435.26 228.07h.9M421.41 215.31h.9M441.26 213.25h.9M403.83 246.36h.9M423.2 209.5h.9M425.47 221.33h.9M425.63 227.97h.9M417.92 223.68h.9M425.99 219.99h.9M419.6 209.15h.9M421.55 228.5h.9M400.23 255.88h.9M434.19 212.97h.9M473.53 225.95h.9M416.5 221.19h.9M424.47 228.28h.9M407.57 218.63h.9M429.65 222.22h.9M426.75 221.11h.9M449.73 233.96h.9M461.84 207.99h.9M414.87 269.82h.9M410.69 222.45h.9M419.03 222.79h.9M431.47 228.24h.9M430.52 226.62h.9M480.91 211.13h.9M426.74 223.63h.9M434.85 232.36h.9M420.53 235.64h.9M441.16 231.34h.9M423.01 228.22h.9M440.73 231.25h.9M436.68 233.39h.9M461.26 233.08h.9M419.1 223.81h.9M427.55 227.15h.9M444.97 232.88h.9M417.35 242.79h.9M427.01 217.95h.9M436.57 238.08h.9M426.93 212.43h.9M428.47 223.03h.9M458.69 234.67h.9M420.5 225.33h.9M458.43 235.98h.9M417.24 216.14h.9M434.15 213.71h.9M418.16 211.95h.9M419.63 215.9h.9M422.38 225.61h.9M421.44 225h.9M431.95 219.7h.9M452.49 230.74h.9M453.04 209.21h.9M468.27 228.57h.9M425.96 212.86h.9M487.63 212.39h.9M469.34 228.87h.9M431.63 225.14h.9M425.35 212.84h.9M402.09 286.03h.9M498.88 219.46h.9M421.66 214.77h.9M419.72 223.25h.9M410.99 270.03h.9M416.55 211.13h.9M432.89 216.88h.9M487.72 216h.9M435.48 204.12h.9M452.2 230.91h.9M428.21 214.66h.9M420.89 223.94h.9M419.69 254.75h.9M433.32 231.91h.9M400.86 220.67h.9M455.93 208.71h.9M403.41 217.58h.9M426.47 231.27h.9M412.15 217.35h.9M424.74 233.7h.9M424.61 226.03h.9M470.19 228.05h.9M408.51 205.69h.9M480.48 211.64h.9M410.26 228.82h.9M482.47 207.97h.9M415.79 216.9h.9M416.8 220.39h.9M426.63 228.22h.9M474.85 222.98h.9M422.88 223.81h.9M426.16 217.21h.9M426.79 220.52h.9M425.55 228.24h.9M430.07 221.15h.9M479.85 209.42h.9M424.96 223.97h.9M433.42 228.85h.9M458.45 205.41h.9M435.37 216.03h.9M421.89 212.57h.9M422.55 228.02h.9M429.28 232.08h.9M459.29 230.58h.9M475.38 210.59h.9M423.95 236.13h.9M440.73 211.62h.9M412.31 239.79h.9M431.3 216.67h.9M479.69 220.95h.9M428.98 227.25h.9M452.11 230.4h.9M469.28 225.8h.9M469.86 208.44h.9M423.71 231.71h.9M442.21 212.81h.9M460.27 228.49h.9M426.62 211.15h.9M410.71 253.43h.9M480.58 222.06h.9M424.09 220.01h.9M431.2 225.97h.9M489.01 205.45h.9M451.02 233.97h.9M450.83 230.94h.9M414.12 235.88h.9M433.85 246.25h.9M462.79 206.89h.9M419.02 257.53h.9M420.44 208.89h.9M406.13 269.28h.9M414.94 228.42h.9M428.54 221.46h.9M437 207.28h.9M421.75 252.65h.9M451.56 230.05h.9M466.82 232.54h.9M490.66 217.35h.9M415.06 226.28h.9M418.1 216.89h.9M431.69 216.87h.9M441.62 229.48h.9M419.84 217.51h.9M409.01 215.48h.9M425.02 234.55h.9M416.46 210.98h.9M419 275.91h.9M425.94 230.12h.9M453.28 232.07h.9M414.11 240.72h.9M443.14 203.85h.9M427.57 250.51h.9M457.7 230.94h.9M449.86 208.29h.9M418.42 226.59h.9M428.56 218.45h.9M451.11 210.72h.9M412.2 226.25h.9M422.6 227.09h.9M466.18 226.94h.9M431 225.95h.9M431.04 218.13h.9M446.62 230h.9M419.11 223.34h.9M423.19 225.15h.9M414.38 218.79h.9M472.83 224.79h.9M483.43 217.51h.9M479.96 214.24h.9M439.59 204.57h.9M409.15 265.06h.9M410.47 243.12h.9M469.47 225.97h.9M440.95 206.24h.9M442.31 206.8h.9M425.63 211.45h.9M428.22 220.53h.9M417.91 230.21h.9M427.81 218.26h.9M417.23 211.37h.9M404.68 226.19h.9M435 216.35h.9M420.53 219.12h.9M440.81 213.7h.9M451.16 231.2h.9M426.41 218.35h.9M476.09 224.04h.9M411.42 236.87h.9M429.57 220.18h.9M431.84 229.39h.9M430.87 219.14h.9M424.5 224.1h.9M457.89 235.45h.9M435.4 239.34h.9M428.09 223.15h.9M420.49 225.15h.9M420.91 226.67h.9M432.27 231.28h.9M410.64 215.29h.9M449.66 209.6h.9M440.67 213.31h.9M417.7 224.29h.9M422.93 215.48h.9M446.95 205.37h.9M432.51 227.09h.9M423.65 214.6h.9M473.93 224.35h.9M423.68 219.69h.9M418.28 232.95h.9M439.56 209.59h.9M420.73 216.53h.9M420.14 221.44h.9M423.25 241.48h.9M417.13 216.88h.9M429.63 219.28h.9M433.22 234.32h.9M419.03 219.27h.9M419.5 226.64h.9M424.71 210.98h.9M432.95 226.55h.9M429.25 227.97h.9M423.88 224.07h.9M425.17 223.31h.9M482.49 209.56h.9M428.34 215.41h.9M439.36 208.32h.9M434.49 212.64h.9M434.65 216.03h.9M422.24 208.96h.9M456.18 208.27h.9M482.84 215.88h.9M446.52 210.96h.9M422.66 228.36h.9M416.25 231.76h.9M465.22 207.25h.9M479.48 219.66h.9M428.65 230.24h.9M459.63 229.61h.9M415.36 230.51h.9M428.42 226.89h.9M431.85 238.62h.9M435.29 233.67h.9M417.46 222.38h.9M425.25 234.65h.9M421.73 214.08h.9M414.49 219.54h.9M431.98 215.89h.9M423.56 234.91h.9M445.77 239.76h.9M417.18 221.25h.9M419.64 234.12h.9M424.03 232.6h.9M418.56 214.77h.9M438.45 228.8h.9M443.06 230.71h.9M426.91 226.25h.9M425.6 225.63h.9M416.46 244.42h.9M436.37 212.47h.9M426.8 212.88h.9M458.79 208.32h.9M475.98 210.24h.9M401.12 246.09h.9M432.43 226.22h.9M454.47 233.2h.9M492 221.8h.9M426.05 233.15h.9M411.37 215.26h.9M421.35 215.8h.9M422.5 223.86h.9M426.32 223.33h.9M465.18 227.38h.9M426.4 230.64h.9M476.75 211.2h.9M428.41 218.37h.9M418.75 211.59h.9M435.84 236.68h.9M430.08 231.35h.9M432.53 231.22h.9M418.44 222.1h.9M428.58 210.02h.9M418.4 220.29h.9M426.33 220.88h.9M425.37 229.92h.9M418.5 231.14h.9M418.36 238.31h.9M405.66 261.19h.9M430.32 230.71h.9M482.99 223.33h.9M426.72 226.54h.9M423.26 230.09h.9M452.63 229.32h.9M417.45 222.05h.9M427.65 211.68h.9M470.4 228.39h.9M419.06 238.17h.9M485.08 211.03h.9M427.1 213.45h.9M419.54 211.89h.9M435.33 233.73h.9M489.54 199.23h.9M426.04 226.12h.9M408.06 265.3h.9M479.38 211.31h.9M414.97 223.39h.9M414.87 231.22h.9M435.08 228.97h.9M442 211.95h.9M469.78 228.58h.9M432.25 229.18h.9M418.15 235.47h.9M434.11 235.53h.9M425.56 228.56h.9M486.77 222.46h.9M415.24 227.81h.9M423.93 225.19h.9M428.8 220.19h.9M411.82 220.32h.9M453.05 230.52h.9M427.62 221.95h.9M429.78 226.79h.9M443.52 212.59h.9M433.9 232.58h.9M455.76 229.3h.9M430.68 231.45h.9M417.83 224.88h.9M433.97 215.97h.9M426.92 225.61h.9M432.7 231.29h.9M440.82 231.24h.9M406.55 274.15h.9M477.68 225.22h.9M445.21 230.93h.9M428.58 213.32h.9M447.48 206.56h.9M485.65 212.54h.9M422.92 215.14h.9M422.61 236.16h.9M489.06 217.18h.9M430.55 219.57h.9M424.42 222.24h.9M457.16 233.74h.9M408.41 264.98h.9M439.12 212.66h.9M420.26 228.4h.9M426.46 210.56h.9M418.98 247.86h.9M442.78 208.85h.9M416.78 217.81h.9M451.53 235.02h.9M420.98 218.66h.9M475.2 228.73h.9M492.11 218.66h.9M421.33 218.6h.9M414.37 219.38h.9M434.76 230.8h.9M434.37 207.97h.9M424.31 230.13h.9M437.21 236.39h.9M431.6 231.53h.9M446.12 238.1h.9M425.81 216.01h.9M430.02 220.49h.9M429.57 221.33h.9M427.73 234.33h.9M407.4 224.27h.9M420.39 227.95h.9M426.79 235.3h.9M439.7 212.19h.9M411.46 227.44h.9M407.94 236.55h.9M447.94 210.04h.9M444.79 207.25h.9M418.61 218.4h.9M430.24 219.4h.9M446.27 209.19h.9M422.12 211.12h.9M428.26 220.59h.9M409.66 256.85h.9M431.71 231.17h.9M480.2 219.42h.9M458.62 229.7h.9M433.46 236.78h.9M444.5 237.28h.9M425.26 229.84h.9M449.66 229.65h.9M428.18 225.32h.9M429.12 199.73h.9M477.56 220.89h.9M415.16 229.87h.9M452 209.14h.9M478.75 209.99h.9M442.35 236.34h.9M464.96 208.16h.9M447.21 210.77h.9M468.62 208.75h.9M405.03 241.72h.9M427.97 256.29h.9M429.82 220.24h.9M421.3 233.61h.9M434.22 227.47h.9M416.34 235.82h.9M419.77 214.74h.9M414.67 228.38h.9M445.08 231.15h.9M430.02 226.97h.9M427.21 212.14h.9M427.02 228.1h.9M431.94 216.81h.9M420.46 225.94h.9M455.91 230.39h.9M418.76 229.4h.9M454.79 209.5h.9M433.04 215.52h.9M414.75 203.36h.9M429.44 227.88h.9M417.7 220.56h.9M410.46 217.12h.9M420.9 225.86h.9M420.8 217.07h.9M413.89 247.79h.9M451.09 205.61h.9M465.97 228.72h.9M457.78 209.01h.9M433.96 215.3h.9M443.61 209.65h.9M427.54 222.66h.9M415.27 218.81h.9M427.49 222.46h.9M423.22 215.16h.9M430.22 220.43h.9M484.04 220.25h.9M412.21 215.34h.9M412.24 226.47h.9M425.46 223.91h.9M415.71 228.81h.9M467.13 229.95h.9M480.72 209.91h.9M426.83 214.06h.9M482.04 220.47h.9M428.58 238.41h.9M424.02 226.41h.9M430.72 218.25h.9M428.1 238.78h.9M428.6 228.26h.9M453.06 231.9h.9M408.6 259.54h.9M430.98 215.21h.9M413.74 257.26h.9M458.13 230.88h.9M418.88 217.09h.9M419.07 228.51h.9M403.27 250.7h.9M487.75 212.56h.9M424.52 215.4h.9M482.65 219.16h.9M426.24 226.78h.9M435.11 212.23h.9M415.84 219.34h.9M470.15 225.3h.9M425.61 215.41h.9M425.48 223.74h.9M482.28 215.12h.9M406.73 226.18h.9M417.8 231.35h.9M435.65 228.2h.9M489.78 213.28h.9M425.21 229.06h.9M451.5 229.45h.9M426.71 223.9h.9M427.97 221.01h.9M431.41 212.7h.9M408.96 252.74h.9M427.56 233.25h.9M411.97 218.3h.9M430.54 214.42h.9M481.19 210.13h.9M435.64 215.7h.9M413.35 223.46h.9M424.34 234.71h.9M401.75 229.43h.9M427.3 220.57h.9M410.94 240.04h.9M418.9 219.43h.9M427.4 226.28h.9M433.56 215.02h.9M429.14 218.71h.9M425.95 224.82h.9M436.88 238h.9M434.95 214.45h.9M420.31 224.79h.9M409.62 256.8h.9M472.76 228.34h.9M411.31 263.38h.9M429.75 225.81h.9M421.51 224.26h.9M450 234.41h.9M468.27 206.68h.9M474.89 206.59h.9M413.47 214.8h.9M424.44 219.53h.9M452.02 232.64h.9M442.94 235.42h.9M424.19 231.65h.9M418.15 218.27h.9M419.91 210.83h.9M458.68 230.31h.9M421.87 219.34h.9M442.34 207.99h.9M460.49 208.8h.9M430.27 223.06h.9M482.25 220.73h.9M418.94 249.86h.9M418.28 221.46h.9M422.09 221h.9M432.34 225.95h.9M428.88 217.6h.9M473.28 208.21h.9M480.86 214.18h.9M429.91 218.78h.9M486.94 224.55h.9M418.47 245.53h.9M479.77 213.62h.9M427.94 228.17h.9M420.3 230.69h.9M423.84 222.73h.9M420.31 226.57h.9M422.95 218.52h.9M426.8 228.19h.9M405.98 224.6h.9M427.21 215.69h.9M487.86 216.48h.9M412.57 218.38h.9M431.89 227.18h.9M457.38 207.95h.9M472.93 209.34h.9M433.03 216.52h.9M444.68 230.68h.9M413.11 218.98h.9M419.8 225.01h.9M434.61 228.74h.9M420.29 213.09h.9M461.65 206.09h.9M433.44 236.85h.9M429.84 228.21h.9M476.18 230.68h.9M415.47 266.26h.9M420.66 236.92h.9M418.57 225.15h.9M434.83 232.61h.9M453.8 210.14h.9M436.08 212.08h.9M423.88 223.94h.9M430.37 217h.9M423.73 223.7h.9M425.31 220.02h.9M409.83 222.11h.9M481.37 210.13h.9M427.95 228.44h.9M429.94 227.66h.9M427.69 222.9h.9M414.81 230.92h.9M419.39 217.68h.9M434.8 215.17h.9M403.88 221.86h.9M445.74 232.25h.9M441 229.94h.9M432.69 229.12h.9M416.64 218.57h.9M430.74 213.67h.9M470.77 227.03h.9M421.24 226.28h.9M415.45 234.34h.9M441.88 235.44h.9M419.82 212.83h.9M440.9 239.55h.9M423.14 226.42h.9M435.81 210.92h.9M482.38 211h.9M417.39 223.85h.9M425.81 216.16h.9M437.98 215.14h.9M451.34 230.98h.9M415.15 213.98h.9M439.3 230.09h.9M416.56 228.9h.9M418.18 255.29h.9M432.69 218.75h.9M480.04 216.86h.9M408.75 221.49h.9M449.64 211.05h.9M422.68 216.77h.9M435.69 227.45h.9M432.29 218.44h.9M426.34 217.3h.9M412.21 227.42h.9M413.91 222.66h.9M470.47 228.59h.9M431.65 225.72h.9M455.49 206.4h.9M499.88 216.24h.9M424.85 225.34h.9M423.77 217.33h.9M468.97 229.02h.9M447.05 236.4h.9M431.31 226.59h.9M429.19 225.92h.9M413.45 222.85h.9M419.05 211.61h.9M412.17 271.01h.9M425.04 231.72h.9M419.23 224.03h.9M451.99 236.71h.9M429.81 231.82h.9M428.23 225.33h.9M422.03 222h.9M460.75 228.91h.9M417.05 211.06h.9M413.72 212.43h.9M437.7 208.26h.9M432.58 230.35h.9M450.06 211.12h.9M435.28 227.72h.9M464.68 234.42h.9M411.47 229.54h.9M432.25 219.21h.9M411.06 223.37h.9M485.95 213.74h.9M467.14 227.53h.9M413.67 276.5h.9M459.23 229.46h.9M430.9 227.62h.9M408.57 272.29h.9M424.35 204.72h.9M433.95 217.57h.9M409.39 220.98h.9M455.23 229.51h.9M439.43 235.26h.9M432.39 210.33h.9M426.33 214.27h.9M409.73 227.51h.9M429.83 234.31h.9M474.18 224.45h.9M442.39 209.23h.9M432.53 229.82h.9M422.36 215.07h.9M433.74 215.73h.9M436.33 212.61h.9M421.99 218.71h.9M437.14 207.32h.9M424.57 221.31h.9M423.09 226.52h.9M429.84 212.17h.9M439.61 212.13h.9M411.58 216.99h.9M479.3 210.82h.9M423.94 217.88h.9M449.48 208.19h.9M426.99 218.1h.9M434.02 214.43h.9M413.92 255.87h.9M426.4 228.68h.9M424.84 216.28h.9M418.67 218.9h.9M433.28 217.12h.9M433.54 231.75h.9M422.5 255.09h.9M482.53 215.81h.9M426.21 217.85h.9M443.02 229.58h.9M483.47 212.56h.9M425.58 221.46h.9M422.38 215.15h.9M454.6 208.58h.9M443.89 210.17h.9M414.65 223.77h.9M422.92 223.14h.9M452.7 210.19h.9M411.76 216.16h.9M440.27 232.73h.9M434.94 215.61h.9M473.87 209.61h.9M419.87 215.53h.9M485.93 213.32h.9M432.36 218.28h.9M415.44 223.1h.9M411.32 225.69h.9M400.78 264.98h.9M450.2 208.17h.9M422.3 228.73h.9M428.13 217.84h.9M417 211.53h.9M440.78 230.29h.9M443.26 229.84h.9M424.37 223.01h.9M430.33 220.65h.9M418.48 227.46h.9M419.3 224.58h.9M468.38 208.29h.9M442.07 210.71h.9M435.16 229h.9M435.09 214.59h.9M475.38 222.99h.9M429.84 212.72h.9M426.16 222.62h.9M405.67 236.18h.9M419.84 220.13h.9M429.19 216.3h.9M423.98 210.71h.9M429.72 221.28h.9M427.72 226.8h.9M431.36 230.82h.9M427.12 237.85h.9M461.52 232.45h.9M412.19 219.01h.9M450.04 229.66h.9M435.57 212.34h.9M471.86 205.32h.9M427.82 213.45h.9M434.77 235.96h.9M423.68 216.44h.9M415.48 211.74h.9M419.2 224.96h.9M473.24 208.77h.9M417.29 215.73h.9M467.57 228.75h.9M421.91 224.4h.9M421.84 223.44h.9M478.89 222.19h.9M414.59 223.79h.9M401.38 269.13h.9M448.95 205.67h.9M468.14 227.56h.9M432.56 217.84h.9M469.23 226.39h.9M418.12 223.96h.9M418.27 216.39h.9M481.85 208.45h.9M414.39 248.56h.9M445.37 236.49h.9M430.58 216.43h.9M414.29 214.66h.9M416.7 208.58h.9M411.84 262.6h.9M455.18 237.56h.9M420.78 216.46h.9M416.09 254.11h.9M425.38 225.83h.9M437.94 230.53h.9M417.07 223.85h.9M430.41 228.7h.9M415.43 251.79h.9M434.06 215.83h.9M485.83 210.75h.9M412.12 214.15h.9M431.06 218.09h.9M439.95 235.15h.9M414.82 218.71h.9M427.02 218.26h.9M415.63 209.36h.9M419.83 226.36h.9M439.76 213.62h.9M419.26 216.85h.9M441.93 231.27h.9M405.45 212.08h.9M422.92 228.91h.9M422.9 221.71h.9M480.23 212.79h.9M415.23 252.86h.9M408.18 224.14h.9M425.61 234.6h.9M420.35 241.4h.9M419.72 245.46h.9M455.86 209.33h.9M491.37 215.54h.9M425.66 228.93h.9M442.99 205.63h.9M409.99 223.74h.9M459.01 206.41h.9M420.67 256.79h.9M419.29 226.46h.9M416.4 236.37h.9M426.41 223.96h.9M402.83 221.59h.9M427.71 220.6h.9M413.6 267.32h.9M416.79 224.5h.9M433.24 229.14h.9M414.56 270.82h.9M427.79 217.79h.9M425.36 221.09h.9M426.29 220.17h.9M420.14 226.13h.9M454.62 232.99h.9M432.07 228.23h.9M457.22 209.32h.9M457.68 232.25h.9M478.6 222.62h.9M456.39 229.1h.9M427.17 225.74h.9M413.36 245.64h.9M422.72 216.47h.9M468.47 208.05h.9M467.09 228.73h.9M449.87 206.09h.9M456.67 232.28h.9M438.83 231.78h.9M451.28 235.79h.9M431.7 230.44h.9M425.72 224.83h.9M460.8 207.86h.9M434.84 207.65h.9M425.32 230.5h.9M430.81 235.19h.9M432.57 217.41h.9M448.26 239.45h.9M432 226.22h.9M408.12 220.89h.9M437.39 229.61h.9M479.87 211.35h.9M443.08 233.61h.9M423.35 221.24h.9M420.74 226.42h.9M418.79 210.42h.9M423.92 220.43h.9M493.05 210.64h.9M412.71 250.16h.9M426.55 219.6h.9M472.17 207.82h.9M425.46 212.82h.9M424.41 221.41h.9M424 214.83h.9M463.93 230.28h.9M433.36 231.78h.9M463.38 205.76h.9M416.24 230.31h.9M439.69 210.16h.9M429.96 215.88h.9M431.4 210h.9M434.03 212.23h.9M431.26 214.2h.9M428.89 219.38h.9M430.78 220.32h.9M431.65 225.95h.9M476.47 209.42h.9M419.89 225.17h.9M419.39 228.4h.9M451.78 207.13h.9M451.66 207.56h.9M426.69 217.01h.9M429.08 214.06h.9M418.86 249.76h.9M422.56 225.58h.9M440.32 208.79h.9M427.33 209.91h.9M477.36 207.55h.9M432.53 226.29h.9M434.82 237.49h.9M471.98 225.55h.9M427.83 215.54h.9M408.94 225.63h.9M422.36 229.72h.9M423.33 223.77h.9M466.97 231.89h.9M438.64 228.92h.9M434.26 227.16h.9M424.28 211.55h.9M480.56 221.72h.9M430.17 224.75h.9M442 230.68h.9M483.04 211.55h.9M418.69 218.14h.9M417.04 222.24h.9M468.76 208.41h.9M441.71 230.21h.9M422.5 215.8h.9M420.28 220.68h.9M402.16 219.88h.9M418.9 274.85h.9M467.81 233.1h.9M427.37 216.06h.9M435.64 216.71h.9M426.18 223.47h.9M463.12 234h.9M424.28 217.14h.9M466.24 208.26h.9M414.8 229.73h.9M489.28 213.61h.9M420.41 226.69h.9M418.3 224.78h.9M416.39 211.38h.9M426.17 212.88h.9M419.16 233.18h.9M465.06 229.17h.9M420.89 233.45h.9M476.21 208.51h.9M426.94 221.79h.9M441.2 211.15h.9M424.53 225.64h.9M430.17 221.52h.9M424.46 236.55h.9M407.1 213.9h.9M421.68 232.47h.9M452.44 230.37h.9M420.75 216.34h.9M468.73 226.68h.9M408.21 254.93h.9M477.09 223.35h.9M434.69 217.09h.9M481.25 215.67h.9M427.07 226.1h.9M418.49 234.13h.9M435.44 232.3h.9M430.27 209.74h.9M426.5 227.79h.9M445.33 230.91h.9M474.03 227.62h.9M487.41 208.98h.9M419.46 220.69h.9M430.36 226.12h.9M429.8 222.67h.9M474 224.75h.9M419.18 245.88h.9M434.05 226.83h.9M443.37 232.61h.9M408.01 267.55h.9M427.87 222.31h.9M479.97 219.45h.9M480.7 210.14h.9M430.71 220.86h.9M413.03 220.66h.9M465.79 231.44h.9M433.57 234.68h.9M444.42 232.89h.9M415.14 207.94h.9M419.46 230.81h.9M436.37 228.81h.9M419.43 218.42h.9M433.58 232.65h.9M413.14 215.88h.9M419 219.26h.9M447.98 202.1h.9M448.84 233.23h.9M483.55 215.42h.9M452.35 229.38h.9M430.42 218.71h.9M432.25 226.44h.9M478.77 209.4h.9M427.5 231.51h.9M430.96 219.57h.9M448.93 205.81h.9M414.12 227.95h.9M428.15 226.64h.9M423.5 217.92h.9M489.17 225.82h.9M401.7 221.13h.9M411.59 216.26h.9M431.72 210.43h.9M420.78 206.91h.9M406.19 250.43h.9M423.18 228.94h.9M482.72 207.17h.9M428.15 227.58h.9M425.06 223.92h.9M431.04 212.21h.9M414.88 214.29h.9M402.45 263.79h.9M438.63 233.68h.9M415.97 221.69h.9M425.86 225.76h.9M420.98 208.09h.9M437.8 215.17h.9M444.16 206.95h.9M410.98 246.42h.9M423.97 223.69h.9M461.09 206.77h.9M410.61 230.24h.9M417.39 240.96h.9M498.37 212.06h.9M427.5 217.68h.9M416.21 210.26h.9M441.2 229.89h.9M411.52 236.76h.9M431.62 232.88h.9M493.26 210.88h.9M436.11 205.68h.9M462.11 209.09h.9M414.39 211.99h.9M425.84 219.57h.9M421.54 228.01h.9M427.18 214.51h.9M479.31 224.1h.9M482.44 215.49h.9M426.01 209.81h.9M460.78 229.31h.9M426.45 225.26h.9M428.22 216.07h.9M454.71 231.64h.9M435.64 210.96h.9M474.51 208.26h.9M408.08 221.47h.9M411.89 283.43h.9M419.03 218.11h.9M426.1 231.6h.9M434.65 212.42h.9M429.52 226.75h.9M454.1 229.52h.9M445.32 209.35h.9M483.51 209.12h.9M413.97 256.34h.9M453.41 230.18h.9M424.4 229.31h.9M469.13 208.85h.9M480 218.86h.9M427.47 221.44h.9M437.87 209.33h.9M406.33 214.92h.9M463.05 228.78h.9M436.38 213.68h.9M412.7 220.93h.9M418.13 220.67h.9M417.77 209.37h.9M421.21 236.94h.9M475.7 223.89h.9M408.13 254.17h.9M471.19 208.68h.9M442.92 229.4h.9M426.27 223.77h.9M413.69 222.3h.9M440.94 230.2h.9M428.46 221.24h.9M434.53 227.83h.9M415.93 220.58h.9M487.7 218.76h.9M416.64 221.46h.9M433.52 231.06h.9M429.13 224.75h.9M419.88 221.09h.9M502.15 209.9h.9M424.47 222.36h.9M427.24 225.1h.9M424.13 236.65h.9M488.06 209.02h.9M417.97 229.76h.9M422.2 222.85h.9M421.03 248.47h.9M433.89 229.36h.9M417.01 233.47h.9M475.35 224.12h.9M425.86 223.4h.9M432.57 236.67h.9M431.61 228.59h.9M398.71 220.93h.9M427.51 227.99h.9M415.59 226.78h.9M414.59 211.89h.9M418.63 229.93h.9M438.97 205.84h.9M442.04 230.75h.9M428.01 230.54h.9M478.05 210.79h.9M413.12 293.41h.9M420.06 226.19h.9M437.54 214.28h.9M423.84 222.69h.9M419.76 237.63h.9M426.02 219.24h.9M423.48 216.61h.9M422.67 215.94h.9M404.73 274.49h.9M466.37 227.85h.9M422.41 222.48h.9M440.66 211.36h.9M421.23 222.67h.9M423.02 234.48h.9M427.45 221.11h.9M418.69 214.58h.9M462.68 207.51h.9M416.57 237.69h.9M435.39 230.91h.9M428.43 214.66h.9M424.01 233.44h.9" stroke="#505050" stroke-width=".9" fill="none"/>
<path d="M427.47 228.46h.9M428.2 265.33h.9M435.64 213.04h.9M468.3 204.51h.9M410.65 226.66h.9M481.28 217.53h.9M456.29 208.61h.9M429.26 210.08h.9M427.08 218.82h.9M426.69 223.12h.9M436.71 215.15h.9M488.89 224.36h.9M479.81 213.22h.9M463.02 230.15h.9M465.7 229.14h.9M464.83 232.49h.9M412.5 225.72h.9M480.13 213.22h.9M457.03 209.51h.9M424.42 219.86h.9M474.83 226.74h.9M404.07 228.8h.9M480.05 211.65h.9M448.07 229.9h.9M454.96 209.58h.9M406.29 280.62h.9M446.9 230.09h.9M413.09 217.38h.9M419.61 252.98h.9M435.42 227.38h.9M434.26 233.77h.9M474.29 227.11h.9M421.95 215.06h.9M424.52 222.61h.9M406.1 217.71h.9M435.02 216.6h.9M456.32 231.05h.9M429.47 220.47h.9M477.2 209.22h.9M429.23 231.67h.9M463.36 203.77h.9M417.21 221.14h.9M484.01 217.69h.9M421.73 206.45h.9M425.69 217.02h.9M412.43 226.31h.9M411.78 239.86h.9M415.17 276.9h.9M414.3 246.05h.9M414.77 220.9h.9M443.58 206.35h.9M414.71 223.1h.9M430.15 216.51h.9M479.69 220.75h.9M421.89 246.47h.9M420.59 214.6h.9M422.45 231.5h.9M427.87 216.42h.9M457.15 209.16h.9M443.23 211.79h.9M419.38 222.42h.9M429.11 219.53h.9M442.64 235.84h.9M481.09 210.38h.9M480.28 214.57h.9M416.9 222.51h.9M422.62 215.66h.9M491.2 207.66h.9M413.5 208.43h.9M475.98 225.07h.9M433.88 216.68h.9M422.31 219.99h.9M426.58 215.39h.9M422.18 208.44h.9M479.86 218.98h.9M408.3 264.86h.9M410.71 234.37h.9M424.76 203.45h.9M476.22 227.59h.9M409.11 224.48h.9M407.62 233.26h.9M432.68 210.67h.9M399.8 223.38h.9M430.65 224.58h.9M419.25 239.44h.9M416.64 220.35h.9M417.72 238.55h.9M492.31 211.3h.9M414.27 282.76h.9M405.91 214.49h.9M431.07 216.03h.9M447.18 210.33h.9M451.3 204.09h.9M418.91 231.57h.9M432.55 216.49h.9M487.89 202.74h.9M453.83 209.07h.9M480.59 211.48h.9M429.89 226.04h.9M460.9 209.22h.9M455.43 230.55h.9M416.82 239.04h.9M415.02 219.88h.9M431.9 218.03h.9M437.93 231.48h.9M427.87 223.22h.9M425.73 216.69h.9M468.27 232.09h.9M407.66 248.56h.9M476.29 210.22h.9M430.72 224.85h.9M421.44 230.7h.9M416.27 220.22h.9M409.82 236.35h.9M429.24 220.34h.9M459.73 228.27h.9M419.78 225.33h.9M473.05 209.72h.9M419.12 224.43h.9M421.54 221.88h.9M417.98 229.05h.9M420.56 229.63h.9M437.01 213.42h.9M417.28 227.17h.9M479.29 218.54h.9M407.67 232.92h.9M421.79 222.19h.9M420.1 215.31h.9M422.8 220.32h.9M425.3 229.09h.9M433.94 212.31h.9M418.62 239.24h.9M428.91 221.41h.9M427.29 214.54h.9M477.53 224.63h.9M464.28 229.47h.9M438.76 234.55h.9M442.16 211.46h.9M407.7 224.6h.9M420.15 214.1h.9M419.97 225.94h.9M425.86 224.75h.9M442.51 206.73h.9M476.69 207.94h.9M417.87 213.36h.9M419.71 225.64h.9M462.82 234.24h.9M433.65 212.73h.9M417.11 224.03h.9M428.62 230.33h.9M430 216.41h.9M487.37 219.47h.9M433.82 211.61h.9M458.38 229.55h.9M422.42 234.06h.9M413.91 250.93h.9M426.85 220.73h.9M456.54 208.06h.9M480.43 210.85h.9M485.71 211.04h.9M442.33 229.43h.9M413.89 225.05h.9M459.95 228.3h.9M427.52 224.1h.9M435.26 232.89h.9M406.65 238.44h.9M437.67 213.24h.9M440.67 230.97h.9M452.99 230.02h.9M430.8 232.28h.9M418.01 218.83h.9M421.63 224.69h.9M439.75 231.37h.9M430.45 219.46h.9M440.64 234.33h.9M436.93 234.83h.9M407.35 221.01h.9M425.79 221.51h.9M471.97 208.61h.9M423.27 227.89h.9M422.05 221.48h.9M416.13 233.96h.9M425.24 216.86h.9M424.01 228.73h.9M455.75 230.44h.9M426.64 214.73h.9M422.72 219.6h.9M395.97 223.94h.9M442.43 212.08h.9M436.43 215.67h.9M429.65 212.3h.9M459.59 208.86h.9M426.59 227.18h.9M426.76 215.79h.9M428.34 230.45h.9M475.25 210.5h.9M421.51 224.55h.9M416.38 225.34h.9M405.31 251.68h.9M437.78 212.53h.9M434.99 238.05h.9M425.73 226.88h.9M469.5 207.19h.9M454.44 229.6h.9M424.34 230.58h.9M427.11 223.94h.9M418.71 226.19h.9M432.38 229.41h.9M430.22 224.11h.9M417.43 243.7h.9M421.04 222.8h.9M487.68 210.23h.9M421.72 229.93h.9M482.41 216.28h.9M423.28 211.73h.9M429.92 221.28h.9M416.18 217.65h.9M429.94 220.38h.9M431.64 212.88h.9M475.1 208.62h.9M431.05 229.86h.9M414.91 231.65h.9M436.12 234.17h.9M418.32 214.46h.9M416.37 226.57h.9M422.94 228.19h.9M427.25 219.22h.9M477.33 222.8h.9M423.03 221.61h.9M423.81 223.43h.9M469.68 233.84h.9M431.21 224.46h.9M406.88 211.3h.9M445.02 231.83h.9M435.75 228.36h.9M430.8 220.07h.9M428.15 223.55h.9M420.56 227.01h.9M456.38 207.87h.9M422.19 213.93h.9M427.44 226.65h.9M447.56 232.4h.9M414.15 229.9h.9M424.77 219.68h.9M429.41 236.78h.9M413.16 224.95h.9M426.84 228.79h.9M413.3 225.54h.9M427.7 219.23h.9M483.57 211.87h.9M436.48 214.92h.9M425.91 227.35h.9M413.99 225.89h.9M423.87 218.65h.9M480.13 219.89h.9M460.84 228.74h.9M441 239.58h.9M449.08 230.11h.9M452.7 229.35h.9M414.4 234.49h.9M486.3 214.99h.9M484.36 209.21h.9M424.36 233.77h.9M421.67 228.63h.9M436.07 199.71h.9M414.78 224.44h.9M415.42 219.86h.9M487.47 216.73h.9M420.99 225h.9M459.81 230.91h.9M452.53 209.23h.9M465.43 228.62h.9M465.23 232.73h.9M429.5 221.19h.9M428.83 223.75h.9M442.15 213.17h.9M440.4 212.44h.9M422.75 219.24h.9M480.33 209.05h.9M424.22 235.67h.9M431.83 225.53h.9M463.36 204.76h.9M410.5 206.34h.9M426.65 228.95h.9M419.76 229.76h.9M432.93 229.23h.9M432.84 210.83h.9M413.15 226.15h.9M443.64 196.58h.9M493.93 213.86h.9M428.51 227.49h.9M428.5 233.57h.9M404.04 226.87h.9M409.44 260.59h.9M423.33 238.2h.9M433.73 231.88h.9M416.82 223.96h.9M424.23 218.52h.9M424.22 216.17h.9M418.13 223.73h.9M475.78 223.15h.9M434.16 228.81h.9M466.16 203.7h.9M459.9 229.47h.9M485.07 211.86h.9M419.81 231.89h.9M465.02 207.45h.9M428.35 217.96h.9M413.84 221.27h.9M455.83 204.34h.9M432.2 218.19h.9M482.02 214.87h.9M428.09 228.96h.9M471.08 227.35h.9M415.49 222.36h.9M434.79 216.62h.9M413.02 228.85h.9M415.22 208.62h.9M482.91 212.67h.9M428.16 219.78h.9M428.25 221.46h.9M436.26 229.95h.9M419.55 232.88h.9M424.23 230.46h.9M407.63 218.42h.9M423.27 227.22h.9M426.35 225.53h.9M471.48 208.18h.9M431.53 216.47h.9M422.59 215.1h.9M489.86 217.32h.9M416.81 262.38h.9M447.92 242.16h.9M423.67 229.89h.9M423.58 221.15h.9M424.65 221.46h.9M419.83 264.36h.9M437.07 213.83h.9M477.33 228.36h.9M424.54 271.37h.9M436.95 210.17h.9M456.52 232.11h.9M437.5 215.12h.9M421.95 218.75h.9M411.57 243.94h.9M427.9 210.04h.9M418.6 224.99h.9M475.11 210.01h.9M412.68 214.71h.9M426.2 223.81h.9M442.71 230.51h.9M427.32 230.94h.9M428.33 213.06h.9M444.07 211.9h.9M437.17 229.13h.9M398.78 268.91h.9M420.97 216.37h.9M456.87 232.34h.9M480 226.07h.9M419.34 227.54h.9M428.68 214.29h.9M424.18 255.13h.9M445.47 211.61h.9M429.18 221.31h.9M485.89 222.18h.9M420.86 229.14h.9M429.93 220.09h.9M435.07 228.94h.9M416.42 218.78h.9M449.04 207.86h.9M419.59 218.15h.9M476.26 210.52h.9M424.4 202.56h.9M482.07 207.43h.9M408.14 251.55h.9M429.57 217.67h.9M470.29 227.06h.9M434.12 208.03h.9M436.75 205.53h.9M418.48 233.43h.9M489.37 223.33h.9M459.07 205.27h.9M421.18 231.69h.9M440.73 209.72h.9M413.95 211.36h.9M428.68 218.14h.9M412.16 215.06h.9M430.77 228.3h.9M475.2 228.85h.9M481.46 210.87h.9M434.65 214.34h.9M422.56 218.04h.9M451.07 229.34h.9M422.3 227.29h.9M456.85 229.22h.9M424.18 223.56h.9M464.54 228.14h.9M416.69 227.59h.9M417.48 219.76h.9M416.53 219.57h.9M454.24 229.47h.9M434.42 210.75h.9M431.61 214.82h.9M428.82 226.83h.9M419.91 205.67h.9M426.07 221.33h.9M425.74 220.13h.9M417.33 230.17h.9M439.91 209.16h.9M473.4 224.51h.9M426.2 219.28h.9M409.13 225.76h.9M414.29 232.21h.9M413.51 256.48h.9M418.62 229.53h.9M466.7 205.47h.9M433.38 229.15h.9M414.81 216.92h.9M429.61 213.58h.9M437.2 230.91h.9M428.72 236.37h.9M419.7 227.21h.9M418.1 223.08h.9M456.51 229.21h.9M399.41 290.06h.9M425.51 221.93h.9M482.93 216.8h.9M420.41 207.12h.9M487.89 212.89h.9M422.06 239.14h.9M411 266.62h.9M429.15 224.55h.9M429.57 214.25h.9M423.55 222.66h.9M408.81 260.41h.9M468.33 201.65h.9M409.29 227.69h.9M470.62 225.52h.9M414.55 220.78h.9M463.59 231.81h.9M424.12 219.52h.9M450.4 234.08h.9M420.14 227.06h.9M421.71 211.82h.9M426.96 222.43h.9M462.7 208.83h.9M432.4 229.06h.9M458.86 204.55h.9M454.42 206.5h.9M421.91 213.92h.9M414.11 218.66h.9M467.63 226.41h.9M419.99 219.27h.9M432.43 214.82h.9M479.72 212.6h.9M463.69 206.25h.9M482.4 223.1h.9M440.02 228.86h.9M475.64 228.42h.9M457.58 230.13h.9M431.94 217.03h.9M432.68 237.51h.9M436.45 228.27h.9M432.03 233.58h.9M444.49 206.53h.9M407.95 227.66h.9M432.17 231.31h.9M430.33 228.5h.9M444.29 239.37h.9M450.12 204.47h.9M418.1 273.79h.9M412.47 201.56h.9M452.73 208.33h.9M443.48 234.26h.9M420.61 242.37h.9M431.36 229.16h.9M429.56 225.61h.9M433.63 228.6h.9M422.04 228.27h.9M420.99 213.58h.9M479.24 224.86h.9M427.23 229.6h.9M412.12 217.99h.9M419.41 217.95h.9M423.83 217.06h.9M483.76 212.83h.9M424.06 236.31h.9M429.99 218.44h.9M422.22 227.43h.9M437.47 214.21h.9M476.64 211.17h.9M441.2 208.8h.9M414.19 251.45h.9M474.14 210.16h.9M429.81 238.96h.9M483.74 220.96h.9M424.93 223.04h.9M423.09 232.31h.9M409.44 218.7h.9M440.84 213.5h.9M409.8 260.23h.9M473.82 225.52h.9M423.79 216.48h.9M409.56 237.95h.9M411.44 226.87h.9M424.02 211.72h.9M410.38 219.55h.9M434.93 229.55h.9M451.82 229.67h.9M428.61 230.08h.9M473.62 224.61h.9M429.05 224.82h.9M446.17 211.43h.9M431.68 209.8h.9M420.13 228.17h.9M470.77 206.99h.9M418.86 232.3h.9M449.58 209.74h.9M439.63 205.27h.9M422.22 239.8h.9M417.87 268.33h.9M449.63 237.7h.9M409.57 212.37h.9M420.46 233.96h.9M420.55 237.86h.9M428.55 224.41h.9M441.54 212.48h.9M445.28 231.94h.9M416.19 230.52h.9M439.06 229.83h.9M439.73 213.4h.9M410.77 273.92h.9M424.3 257.64h.9M430 225.34h.9M456.16 230.22h.9M422.31 227.58h.9M437.2 214.04h.9M418.84 244.44h.9M480.81 210.13h.9M427.32 211.94h.9M429.54 216.87h.9M427.47 221.48h.9M440.9 229.27h.9M420.09 220.44h.9M462.95 208.62h.9M416.97 225.97h.9M460.89 228.45h.9M444.16 230.81h.9M468.04 206.96h.9M435.35 235.49h.9M435.31 205.82h.9M429.15 227.17h.9M481.18 216.23h.9M471.66 208.58h.9M440.4 228.91h.9M424.4 210.83h.9M480.43 214.27h.9M430.08 239.3h.9M416.73 211.92h.9M437.3 209.88h.9M438.83 211.46h.9M454.86 229.68h.9M424.39 211.11h.9M424.3 216.18h.9M430.13 232.67h.9M482.43 220.1h.9M399.41 225.91h.9M410.63 216.64h.9M443.91 210.29h.9M419.59 223.96h.9M429.73 203.79h.9M456.75 229.15h.9M425.64 217.64h.9M479.39 220.97h.9M471.51 229.19h.9M436.07 228.86h.9M426.4 217.41h.9M413.57 224.64h.9M432.84 228.92h.9M477.88 220.41h.9M431.08 232.37h.9M477.49 209.89h.9M418.05 228.81h.9M417.13 230.77h.9M424.39 238.84h.9M426.05 230.9h.9M473.95 209.03h.9M413.72 218.71h.9M453.42 230.96h.9M426.48 224.05h.9M430.23 227.52h.9M483.08 215.51h.9M477.78 220.31h.9M420.56 229.43h.9M426.42 261.89h.9M415.45 223.3h.9M450.75 235.71h.9M418.4 221.39h.9M433.88 216.16h.9M426.93 229.88h.9M475.57 229.8h.9M422.74 256.9h.9M412.96 221h.9M413.72 233.72h.9M426.84 219.37h.9M417.91 227.7h.9M430.04 227.46h.9M415.28 286.54h.9M471.28 224.78h.9M422.29 227.3h.9M424.18 227.02h.9M420.93 226.73h.9M429.35 215.26h.9M413.52 219.34h.9M408.04 219.12h.9M440.97 208.24h.9M450.25 209.3h.9M405.16 276.42h.9M420.9 232.48h.9M431.92 231.47h.9M428.8 229.57h.9M426.47 231.96h.9M424.61 238.11h.9M422.17 233.5h.9M412.9 212.51h.9M419.34 214.52h.9M426.2 250.37h.9M430.76 233.77h.9M482.52 209.96h.9M410.97 211.39h.9M429.71 220.17h.9M439.93 212.84h.9M455.14 229.72h.9M485.04 225.74h.9M446.13 229.93h.9M475.38 223.36h.9M433.98 227.05h.9M441.67 229.66h.9M424.35 228.86h.9M455.84 233.51h.9M421.48 214.11h.9M415.7 220.88h.9M475.4 229.17h.9M459.67 208.96h.9M466.2 229.08h.9M424.75 209.03h.9M439.05 231.6h.9M482.69 217.76h.9M447.86 238.29h.9M418.61 221.06h.9M415.56 258.84h.9M430.51 217.57h.9M418.93 216.47h.9M431.53 220.02h.9M439.49 212.64h.9M411.42 232.5h.9M414.36 251.88h.9M419.28 224.07h.9M424.22 212.67h.9M431.41 216.78h.9M420.53 215.22h.9M430.99 227.64h.9M421.19 214.18h.9M441.26 229.74h.9M417.77 226.22h.9M461.92 207.45h.9M466.63 205.93h.9M469.04 228.99h.9M424.17 223.71h.9M409.85 232.64h.9M421.07 217.85h.9M466.46 208.72h.9M418.66 214.13h.9M414.55 222.59h.9M412.37 225.68h.9M415.37 224.02h.9M483.13 206.49h.9M419.64 229.21h.9M483.92 216.5h.9M428.11 223.18h.9M434.46 235.94h.9M471.73 208.84h.9M431.07 216.17h.9M414.48 223.77h.9M450.32 203.23h.9M428.32 204.61h.9M414.3 237.84h.9M413.97 212.53h.9M414.25 227.18h.9M408.01 218.29h.9M479.92 209.5h.9M425.31 223.05h.9M435.6 212.44h.9M435.73 227.89h.9M418.08 266.78h.9M439.19 229.86h.9M430.21 228.43h.9M480.59 215.18h.9M407.44 279.33h.9M440.34 212.27h.9M463.25 203.88h.9M432.58 232.79h.9M457.71 205.73h.9M429.83 228.28h.9M465.34 227.78h.9M431.51 238.69h.9M430.82 216.44h.9M431.18 215.08h.9M416.36 220.42h.9M415.95 212.4h.9M415.53 239.05h.9M434.33 212.97h.9M411.4 217.94h.9M456.15 228.79h.9M459.06 234.41h.9M425.92 224.39h.9M406.62 287.07h.9M410.61 256.23h.9M481.76 212.15h.9M443.7 212.48h.9M415.91 239.6h.9M458.09 206.77h.9M484.81 213.81h.9M481.59 215.19h.9M423.89 225.75h.9M457.15 207.96h.9M427.87 227.74h.9M493.22 217.3h.9M430.04 228.76h.9M433.49 213.8h.9M429.48 229.3h.9M406.44 216.35h.9M488.25 214.37h.9M414.66 219.95h.9M414.16 231.06h.9M473.07 224.93h.9M432.13 236.06h.9M440.02 233.94h.9M482.78 226.82h.9M429.92 222.46h.9M430.4 226.04h.9M430.4 225.8h.9M467.53 226.53h.9M421.76 230.48h.9M389.64 225.07h.9M426.28 232.06h.9M425.43 214.6h.9M482.73 210.71h.9M431.78 216.8h.9M427.81 224.74h.9M420.98 231.68h.9M428.28 224.3h.9M413.43 218.22h.9M425.8 216.82h.9M445.51 232.35h.9M420.8 232.06h.9M421.08 215.82h.9M421.5 229.32h.9M431.36 234.37h.9M477.87 209.65h.9M442.9 236.02h.9M414.74 232.28h.9M414.23 216.63h.9M431.06 227.46h.9M466.53 208.97h.9M478.6 220.48h.9M441.76 213.06h.9M406.64 246.1h.9M417.01 231.17h.9M426.01 224.72h.9M442.32 210.74h.9M460.98 229.43h.9M470.09 230.2h.9M424.34 232.72h.9M473.18 226.89h.9M428.12 212.89h.9M418.78 224.88h.9M485.33 211.12h.9M427.92 229.09h.9M412.75 273.11h.9M422.68 224.03h.9M419.63 219.96h.9M418.3 226.36h.9M433.35 217.75h.9M462.6 206.09h.9M473.63 208.34h.9M478.04 221.06h.9M420.28 221.66h.9M436.55 231.22h.9M483.22 204.35h.9M419.75 213.25h.9M477.22 230.2h.9M413.24 228.71h.9M426.27 222.34h.9M429.5 222.69h.9M479.64 213.02h.9M430.49 225.81h.9M422.45 226.54h.9M486.85 217.26h.9M471.8 209.62h.9M456.31 230.72h.9M420.78 218.27h.9M433.33 216.51h.9M431.24 228.49h.9M439.83 248.63h.9M408.46 221.18h.9M481.06 213.01h.9M430.21 222.37h.9M413.61 230.5h.9M413.43 239.09h.9M420.4 229.18h.9M437.39 213.76h.9M447.86 231.27h.9M423.06 220.07h.9M421.44 219.06h.9M446.99 229.9h.9M424.98 220.57h.9M419.37 232.99h.9M428.21 230.92h.9M479.51 220.87h.9M423.4 235.03h.9M458.19 203.5h.9M484.54 224h.9M428.43 222.79h.9M428.8 212.56h.9M412.14 215.72h.9M418.02 233.53h.9M422.73 225.61h.9M427.58 224.22h.9M419.8 226.9h.9M411.63 222.03h.9M456.1 237.08h.9M459.36 230.86h.9M415.04 208.42h.9M414.47 263h.9M441.47 231.66h.9M468.35 208.67h.9M421.79 240.73h.9M456.67 207.34h.9M432.18 230.21h.9M430.22 217.02h.9M441.7 229.49h.9M416.84 232.97h.9M444.34 229.99h.9M429.69 231.21h.9M435.72 214.53h.9M418.97 225.06h.9M434.77 231.61h.9M463.75 204.57h.9M434.41 216.78h.9M436.74 214.25h.9M423.28 229.97h.9M419.76 245.36h.9M410.93 223.86h.9M424.05 237.27h.9M431.65 213.73h.9M485.15 214.99h.9M415.75 224.88h.9M431.14 224.68h.9M430.53 222.85h.9M429.76 218.18h.9M426.26 214.47h.9M480.3 213.7h.9M433.88 211.44h.9M416.32 220.65h.9M424.59 225.88h.9M430.8 212.38h.9M414.94 217.08h.9M430.45 218.82h.9M419.65 210.43h.9M434.72 211.63h.9M428.3 221.48h.9M438.02 231.47h.9M425.23 216.04h.9M476.87 224.88h.9M414.66 208.52h.9M442.39 213h.9M411.63 229.72h.9M491.88 216.74h.9M431.68 217.25h.9M410.43 231.73h.9M419.58 211.2h.9M425.15 222.25h.9M423.17 250.73h.9M475.18 209.29h.9M424.83 221.13h.9M415.73 233.16h.9M458 229.04h.9M407.51 218.6h.9M430.53 225.53h.9M432.23 226.67h.9M433.71 229.76h.9M423.69 221.85h.9M423.28 218.04h.9M423.43 209.19h.9M425.74 226.25h.9M419.31 213.44h.9M421.28 227.92h.9M439.77 229.24h.9M432.25 229.68h.9M431 231.23h.9M441.6 211.15h.9M423.74 215.4h.9M427.98 215.61h.9M437.97 232.18h.9M455.33 207.27h.9M433.47 209.69h.9M420.87 228.32h.9M420.41 228.44h.9M472.03 227.45h.9M428.49 215.78h.9M484.85 211.76h.9M433.54 218.23h.9M424.09 222.75h.9M411.59 232.75h.9M455 208.81h.9M424.18 224.69h.9M415.87 221.69h.9M423.22 217.58h.9M460.47 205.91h.9M429.63 230.74h.9M415.34 225.85h.9M485.43 213.68h.9M418.74 212.65h.9M424.31 225.67h.9M422.91 219.13h.9M447.54 244.99h.9M475.47 210.67h.9M429.15 219.79h.9M483.02 211.42h.9M492.31 206.58h.9M425.08 226.04h.9M421.22 216.26h.9M459.92 228.98h.9M429.61 226.08h.9M481.76 214.04h.9M466.37 203.45h.9M420.54 229.5h.9M487.19 213.11h.9M410.85 228.78h.9M478.32 210.73h.9M411.22 267.95h.9M416.87 216.36h.9M428.2 227.17h.9M451.11 210.33h.9M418.53 226.6h.9M413.04 221.19h.9M427.84 223.56h.9M424.78 226.43h.9M478.69 221.24h.9M446.01 205.37h.9M423.2 221.4h.9M423.9 224.66h.9M434.86 213.67h.9M410.18 227.56h.9M415.51 220.05h.9M422.13 235.19h.9M432.08 233.3h.9M422.79 226.17h.9M422.76 226.96h.9M410.73 211.17h.9M436.43 204.34h.9M428.87 218.33h.9M425.59 225.76h.9M449.1 209.78h.9M444.63 231.76h.9M426.24 225.72h.9M477.65 222.13h.9M419.96 219.71h.9M418.18 234.01h.9M469.16 204.74h.9M432.17 229.14h.9M477.85 223.23h.9M424.74 226.67h.9M429.41 218.43h.9M422.04 219.13h.9M436.91 232.7h.9M455.84 229.96h.9M420.72 226.67h.9M459.4 231.45h.9M482.15 216.66h.9M416.87 221.46h.9M438.25 228.86h.9M452.63 231.81h.9M481.81 218.26h.9M435.47 233.16h.9M490.57 217.8h.9M442.78 208.03h.9M433.29 214.73h.9M459.53 206.28h.9M449.2 229.83h.9M437.39 212.29h.9M478.55 227.02h.9M450.16 230.96h.9M422.25 231.05h.9M425.97 224.7h.9M481.65 212.74h.9M424.05 227.49h.9M424.62 219.67h.9M487.53 212.45h.9M443.67 211.23h.9M469.66 209.21h.9M427.96 225.94h.9M455.85 204.21h.9M412.55 220.51h.9M423.87 231.24h.9M416.61 216.48h.9M428.76 229.59h.9M428.54 219.12h.9M414.42 210.67h.9M429.46 227.84h.9M432.66 216.51h.9M418.97 261.82h.9M414.57 222.65h.9M420 203.67h.9M410.77 218.06h.9M416.55 217.84h.9M474.46 223.9h.9M472.23 208.65h.9M422.06 227.43h.9M421.4 260.21h.9M456.55 206.51h.9M401.93 238.66h.9M411.89 220.27h.9M430.2 215.85h.9M456.06 234.96h.9M418.06 219.98h.9M419.6 215.84h.9M418.26 238.87h.9M470.06 226.61h.9M414.66 210.52h.9M412.2 212.5h.9M428.47 224.73h.9M405.45 228.67h.9M424.06 225.71h.9M433.53 216.42h.9M488.22 215.47h.9M457.08 206.15h.9M434.29 232.85h.9M477.67 223.6h.9M428.7 228.24h.9M418.76 229.5h.9M413.89 244.77h.9M481.79 214.38h.9M432.19 215.55h.9M415.01 218.92h.9M422.31 229.85h.9M432.66 229.7h.9M423.43 222.14h.9M415.37 271.36h.9M433.08 217.71h.9M432.75 238.64h.9M419.73 225.87h.9M485.18 228.8h.9M441.2 238.03h.9M428.78 230.36h.9M473.46 224.67h.9M415.78 226.05h.9M472.11 224.49h.9M430.42 221.99h.9M417.94 219.59h.9M421.05 219.96h.9M426.06 220h.9M469.4 228.64h.9M436.9 210.63h.9M421.01 226.52h.9M415.87 223.78h.9M440.48 232.34h.9M437.23 214.39h.9M418.15 198.78h.9M444.07 206.2h.9M430.26 215.98h.9M429.93 213.12h.9M425.09 230.18h.9M425.42 228.45h.9M415.64 238.29h.9M416.5 228.9h.9M425.55 218.79h.9M420.09 227.84h.9M426.53 228.76h.9M421.01 199.94h.9M432.96 229.38h.9M432.52 217.88h.9M479.29 234.26h.9M436.99 203.05h.9M441.38 211.65h.9M429.94 223.05h.9M423.68 239.87h.9M418.85 213.44h.9M482.37 214.97h.9M449.2 231.57h.9M431.16 225.27h.9M433.26 215.81h.9M417.66 214.65h.9M489.11 220.75h.9M408.74 227.08h.9M444.49 230.42h.9M448.82 238.34h.9M429.01 229.62h.9M477.18 223.34h.9" stroke="#8a8a8a" stroke-width=".9" fill="none"/>
<path d="M449 229.53 448 229.69 447 229.77 446 229.72 445 229.62 444 229.5 443.5 229.44 442.5 229.28 441.5 229.12 440.67 229 440 228.91 439 228.79 438 228.65 437.42 228.5 436.5 228.1 436 227.8 435.5 227.47 434.71 227 434 226.62 433.5 226.36 432.82 226 432.09 225.5 431.58 225 431.24 224.5 431 224 430.65 223 430.52 222 430.86 221 431.23 220.5 431.69 220 432.25 219.5 432.83 219 433.38 218.5 433.89 218 434.37 217.5 434.89 217 435.5 216.5 436 216.17 436.5 215.88 437.2 215.5 438 215.07 438.5 214.8 439.1 214.5 440 214.1 440.5 213.91 441.5 213.56 442 213.38 442.91 213 443.5 212.7 444 212.45 444.93 212 445.5 211.79 446.5 211.55 447 211.45 448 211.3 449 211.18 450 211.03 450.5 210.92 451.5 210.68 452.32 210.5 453 210.35 454 210.16 454.8 210 455.5 209.83 456.5 209.61 457.15 209.5 458 209.36 459 209.24 460 209.17 461 209.14 462 209.15 463 209.16 464 209.15 465 209.17 466 209.25 467 209.39 467.8 209.5 468.5 209.58 469.5 209.68 470.5 209.77 471.5 209.85 472.5 209.98 473 210.08 474 210.35 474.5 210.51 475.5 210.83 476 211 477 211.4 477.5 211.66 478.03 212 478.66 212.5 479.16 213 479.52 213.5 479.93 214.5 480.02 215 480.02 216 479.95 216.5 479.64 217.5 479.41 218 479 218.72 478.5 219.49 478.13 220 477.73 220.5 477.28 221 476.76 221.5 476.15 222 475.5 222.48 475 222.81 474.5 223.1 473.76 223.5 473 223.88 472.5 224.12 471.74 224.5 471 224.88 470.5 225.13 469.68 225.5 469 225.79 468.4 226 467.5 226.35 467 226.53 466 226.97 465.5 227.2 464.64 227.5 464 227.69 463 227.89 462.22 228 461.5 228.12 460.5 228.3 459.5 228.5 459 228.61 458 228.77 457 228.87 456 228.98 455.5 229.06 454.5 229.21 453.5 229.29 452.5 229.3 451.5 229.31 450.5 229.36 449.5 229.46 449 229.53ZM457.5 226.03 456.5 226.17 455.5 226.28 454.5 226.37 453.5 226.43 452.5 226.46 451.5 226.47 450.5 226.46 449.5 226.41 448.5 226.33 447.5 226.22 446.5 226.07 446 225.97 445 225.75 444.11 225.5 443.5 225.29 442.76 225 442 224.62 441.5 224.31 441 223.95 440.5 223.47 440 222.73 439.75 222 439.78 221 440 220.38 440.5 219.52 440.92 219 441.42 218.5 441.99 218 442.5 217.62 443 217.27 443.5 216.95 444.26 216.5 445 216.11 445.5 215.86 446.28 215.5 447 215.19 447.5 214.99 448.5 214.61 449 214.44 450 214.11 450.5 213.96 451.5 213.67 452.15 213.5 453 213.28 454 213.06 454.5 212.96 455.5 212.76 456.5 212.59 457.15 212.5 458 212.38 459 212.26 460 212.16 461 212.09 462 212.05 463 212.03 464 212.03 465 212.06 466 212.13 467 212.24 468 212.41 468.5 212.51 469.5 212.75 470.27 213 471 213.28 471.5 213.52 472.32 214 472.94 214.5 473.4 215 473.73 215.5 474 216.33 474.05 217 473.98 217.5 473.61 218.5 473.31 219 472.93 219.5 472.48 220 471.95 220.5 471.34 221 470.65 221.5 470 221.92 469.5 222.22 468.99 222.5 468 223 467.5 223.24 466.88 223.5 466 223.86 465.5 224.05 464.5 224.4 464 224.56 463 224.86 462.48 225 461.5 225.26 460.5 225.48 460 225.59 459 225.79 458 225.96 457.5 226.03ZM458 224.54 457 224.67 456 224.78 455 224.85 454 224.89 453 224.9 452 224.88 451 224.82 450 224.71 449 224.56 448.5 224.46 447.5 224.21 446.85 224 446 223.64 445.5 223.37 444.95 223 444.43 222.5 444 221.72 443.88 221 444 220.4 444.44 219.5 444.84 219 445.35 218.5 445.95 218 446.5 217.62 447 217.3 447.51 217 448.47 216.5 449 216.25 449.58 216 450.5 215.63 451 215.45 452 215.11 452.5 214.96 453.5 214.67 454.14 214.5 455 214.29 456 214.07 456.5 213.97 457.5 213.78 458.5 213.62 459.46 213.5 460 213.44 461 213.34 462 213.27 463 213.24 464 213.25 465 213.3 466 213.4 466.61 213.5 467.5 213.67 468.5 213.95 469 214.14 469.77 214.5 470.5 214.98 471 215.45 471.38 216 471.58 216.5 471.62 217.5 471.48 218 471 218.89 470.51 219.5 470 220 469.5 220.42 469 220.79 468.5 221.12 467.85 221.5 467 221.94 466.5 222.18 465.76 222.5 465 222.8 464.44 223 463.5 223.32 462.87 223.5 462 223.75 461 223.98 460.5 224.1 459.5 224.3 458.5 224.47 458 224.54ZM460 223.02 459 223.18 458 223.3 457 223.39 456 223.45 455 223.47 454 223.45 453 223.39 452 223.27 451 223.08 450.5 222.95 449.5 222.6 449 222.35 448.47 222 448 221.5 447.7 220.5 448 219.59 448.43 219 448.94 218.5 449.5 218.07 450 217.74 450.5 217.44 451.33 217 452 216.69 452.5 216.48 453.5 216.09 454 215.91 455 215.59 455.5 215.44 456.5 215.17 457.18 215 458 214.81 459 214.62 459.76 214.5 460.5 214.39 461.5 214.29 462.5 214.23 463.5 214.21 464.5 214.25 465.5 214.36 466.29 214.5 467 214.68 467.89 215 468.5 215.32 469 215.69 469.5 216.28 469.79 217 469.68 218 469.44 218.5 469 219.1 468.5 219.61 468 220.02 467.31 220.5 466.5 220.96 466 221.22 465.37 221.5 464.5 221.85 464 222.02 463 222.34 462.4 222.5 461.5 222.73 460.5 222.93 460 223.02ZM460 222.04 459 222.15 458 222.21 457 222.23 456 222.19 455 222.1 454.34 222 453.5 221.8 452.65 221.5 452 221.11 451.5 220.52 451.39 220 451.51 219.5 452 218.81 452.5 218.34 453 217.96 453.73 217.5 454.5 217.1 455 216.86 455.86 216.5 456.5 216.26 457.27 216 458 215.78 459 215.53 459.5 215.42 460.5 215.23 461.5 215.1 462.5 215.03 463.5 215.02 464.5 215.08 465.5 215.24 466.43 215.5 467 215.76 467.5 216.07 468 216.59 468.29 217.5 468 218.4 467.56 219 467.03 219.5 466.5 219.89 466 220.2 465.43 220.5 464.5 220.92 464 221.11 463 221.43 462.5 221.56 461.5 221.79 460.5 221.97 460 222.04ZM460.5 221.03 459.5 221.1 458.5 221.09 457.5 221 457 220.91 456 220.59 455.5 220.29 455 219.57 455 219.37 455.38 218.5 455.91 218 456.5 217.59 457 217.3 457.59 217 458.5 216.64 459 216.46 460 216.19 460.89 216 461.5 215.91 462.5 215.83 463.5 215.83 464.5 215.95 465 216.06 466 216.48 466.5 216.94 466.74 217.5 466.5 218.39 466.01 219 465.5 219.4 465 219.71 464.45 220 463.5 220.38 463 220.54 462 220.8 461 220.97 460.5 221.03ZM461 220.02 460 220.03 459.5 219.98 458.5 219.67 458 219.22 458 218.5 458.43 218 459 217.63 459.5 217.37 460.48 217 461 216.88 462 216.73 463 216.72 464 216.88 464.5 217.1 465 217.81 465 218.06 464.5 218.76 464 219.13 463.26 219.5 462.5 219.74 461.5 219.96 461 220.02Z" stroke="#6a6a6a" stroke-width="0.7" fill="none" stroke-linejoin="round"/>
<rect x="387" y="187" width="121.3" height="110" fill="none" stroke="#231f20" stroke-width="1.1"/>
<line x1="424.2" y1="187" x2="424.2" y2="297" stroke="#231f20" stroke-width="1.2"/>
<line x1="387" y1="231.9" x2="508.3" y2="231.9" stroke="#231f20" stroke-width="1.2"/>
<path d="M387 275.2h-3.0M387 267.4h-1.8M387 262.84h-1.8M387 259.61h-1.8M387 257.1h-1.8M387 255.05h-1.8M387 253.31h-1.8M387 251.81h-1.8M387 250.49h-1.8M387 249.2h-3.0M387 241.4h-1.8M387 236.84h-1.8M387 233.61h-1.8M387 231.1h-1.8M387 229.05h-1.8M387 227.31h-1.8M387 225.81h-1.8M387 224.49h-1.8M387 223.6h-3.0M387 215.8h-1.8M387 211.24h-1.8M387 208.01h-1.8M387 205.5h-1.8M387 203.45h-1.8M387 201.71h-1.8M387 200.21h-1.8M387 198.89h-1.8M387 197.5h-3.0M387 189.7h-1.8M387 281.8h-3.0M387 287.3h-1.8M387 292.8h-1.8M387 297h-3.0M412.3 297v3.0M420.83 297v1.8M425.82 297v1.8M429.36 297v1.8M432.1 297v1.8M434.35 297v1.8M436.24 297v1.8M437.89 297v1.8M439.34 297v1.8M441.6 297v3.0M450.13 297v1.8M455.12 297v1.8M458.66 297v1.8M461.4 297v1.8M463.65 297v1.8M465.54 297v1.8M467.19 297v1.8M468.64 297v1.8M470.2 297v3.0M478.73 297v1.8M483.72 297v1.8M487.26 297v1.8M490 297v1.8M492.25 297v1.8M494.14 297v1.8M495.79 297v1.8M497.24 297v1.8M497.3 297v3.0M505.83 297v1.8M400.3 297v3.0M392.3 297v1.8M408.3 297v1.8M387 297v3.0" stroke="#231f20" stroke-width=".8" fill="none"/>
<text x="377.8" y="199.61" font-size="7.8" text-anchor="end" fill="#231f20">10</text>
<text x="378.1" y="196.41" font-size="5.62" fill="#231f20">5</text>
<text x="377.8" y="225.81" font-size="7.8" text-anchor="end" fill="#231f20">10</text>
<text x="378.1" y="222.61" font-size="5.62" fill="#231f20">4</text>
<text x="377.8" y="251.21" font-size="7.8" text-anchor="end" fill="#231f20">10</text>
<text x="378.1" y="248.01" font-size="5.62" fill="#231f20">3</text>
<text x="377.8" y="277.51" font-size="7.8" text-anchor="end" fill="#231f20">10</text>
<text x="378.1" y="274.31" font-size="5.62" fill="#231f20">2</text>
<text x="377.8" y="283.81" font-size="7.8" text-anchor="end" fill="#231f20">0</text>
<text x="377.8" y="300.01" font-size="7.8" text-anchor="end" fill="#231f20">−256</text>
<text x="400.3" y="308.6" font-size="7.8" text-anchor="middle" fill="#231f20">0</text>
<text x="409.7" y="308.6" font-size="7.8" text-anchor="middle" fill="#231f20">10<tspan dy="-3.2" font-size="5.62">2</tspan></text>
<text x="440" y="308.6" font-size="7.8" text-anchor="middle" fill="#231f20">10<tspan dy="-3.2" font-size="5.62">3</tspan></text>
<text x="469.6" y="308.6" font-size="7.8" text-anchor="middle" fill="#231f20">10<tspan dy="-3.2" font-size="5.62">4</tspan></text>
<text x="495.7" y="308.6" font-size="7.8" text-anchor="middle" fill="#231f20">10<tspan dy="-3.2" font-size="5.62">5</tspan></text>
<text x="386.6" y="314.4" font-size="7.8" text-anchor="middle" fill="#231f20">−160</text>
<text x="390.8" y="197.4" font-size="7.9" fill="#231f20">1.9</text>
<text x="504.9" y="197.4" font-size="7.9" text-anchor="end" fill="#231f20">96.9</text>
<text x="388.8" y="295" font-size="7.9" fill="#231f20">0.6</text>
<text x="505.1" y="295" font-size="7.9" text-anchor="end" fill="#231f20">0.6</text>
<text x="430.1" y="184.6" font-size="9.6" textLength="39.2" lengthAdjust="spacingAndGlyphs" fill="#231f20">BM sHLH</text>
<text x="284.2" y="252.5" font-size="9" font-weight="bold" fill="#000">C</text>
<path d="M19.8 268.5V319.6H93" stroke="#231f20" stroke-width="1.1" fill="none"/>
<path d="M17.2 269.5L19.8 264.2L22.4 269.5Z" fill="#231f20"/>
<path d="M92 317L97.3 319.6L92 322.2Z" fill="#231f20"/>
<text transform="translate(18.1 301) rotate(-90)" font-size="8.4" stroke="#231f20" stroke-width="0.25" textLength="17.3" lengthAdjust="spacingAndGlyphs" fill="#231f20">CD38</text>
<text x="46.2" y="329.8" font-size="8.4" stroke="#231f20" stroke-width="0.25" textLength="25" lengthAdjust="spacingAndGlyphs" fill="#231f20">HLA-DR</text>
<text x="7.3" y="353.8" font-size="11.4" font-weight="bold" textLength="6.9" lengthAdjust="spacingAndGlyphs" fill="#000">B</text>
<path d="M76.25 357H206.9M101.2 371.9H208.5M74.85 387.6H180.6M101.2 404.9H180.6M74.85 422.5H154.2M101.2 439.9H154.2M74.85 457.1H127.7M74.85 483.6H101.2M101.2 474.8H127.7" stroke="#6b6b6b" stroke-width="1.3" fill="none"/>
<path d="M137.92 351.1L138.35 352.12L139.45 352.21L138.61 352.92L138.87 353.99L137.92 353.42L136.98 353.99L137.24 352.92L136.4 352.21L137.5 352.12ZM141.57 351.1L142 352.12L143.1 352.21L142.26 352.92L142.52 353.99L141.57 353.42L140.63 353.99L140.89 352.92L140.05 352.21L141.15 352.12ZM145.22 351.1L145.65 352.12L146.75 352.21L145.91 352.92L146.17 353.99L145.22 353.42L144.28 353.99L144.54 352.92L143.7 352.21L144.8 352.12ZM151.2 366L151.62 367.02L152.72 367.11L151.88 367.82L152.14 368.89L151.2 368.32L150.26 368.89L150.52 367.82L149.68 367.11L150.78 367.02ZM154.85 366L155.27 367.02L156.37 367.11L155.53 367.82L155.79 368.89L154.85 368.32L153.91 368.89L154.17 367.82L153.33 367.11L154.43 367.02ZM158.5 366L158.92 367.02L160.02 367.11L159.18 367.82L159.44 368.89L158.5 368.32L157.56 368.89L157.82 367.82L156.98 367.11L158.08 367.02ZM124.07 381.7L124.5 382.72L125.6 382.81L124.76 383.52L125.02 384.59L124.07 384.02L123.13 384.59L123.39 383.52L122.55 382.81L123.65 382.72ZM127.72 381.7L128.15 382.72L129.25 382.81L128.41 383.52L128.67 384.59L127.72 384.02L126.78 384.59L127.04 383.52L126.2 382.81L127.3 382.72ZM131.38 381.7L131.8 382.72L132.9 382.81L132.06 383.52L132.32 384.59L131.38 384.02L130.43 384.59L130.69 383.52L129.85 382.81L130.95 382.72ZM137.25 399L137.67 400.02L138.77 400.11L137.93 400.82L138.19 401.89L137.25 401.32L136.31 401.89L136.57 400.82L135.73 400.11L136.83 400.02ZM140.9 399L141.32 400.02L142.42 400.11L141.58 400.82L141.84 401.89L140.9 401.32L139.96 401.89L140.22 400.82L139.38 400.11L140.48 400.02ZM144.55 399L144.97 400.02L146.07 400.11L145.23 400.82L145.49 401.89L144.55 401.32L143.61 401.89L143.87 400.82L143.03 400.11L144.13 400.02ZM110.87 416.6L111.3 417.62L112.4 417.71L111.56 418.42L111.82 419.49L110.87 418.92L109.93 419.49L110.19 418.42L109.35 417.71L110.45 417.62ZM114.52 416.6L114.95 417.62L116.05 417.71L115.21 418.42L115.47 419.49L114.52 418.92L113.58 419.49L113.84 418.42L113 417.71L114.1 417.62ZM118.17 416.6L118.6 417.62L119.7 417.71L118.86 418.42L119.12 419.49L118.17 418.92L117.23 419.49L117.49 418.42L116.65 417.71L117.75 417.62ZM124.05 434L124.47 435.02L125.57 435.11L124.73 435.82L124.99 436.89L124.05 436.32L123.11 436.89L123.37 435.82L122.53 435.11L123.63 435.02ZM127.7 434L128.12 435.02L129.22 435.11L128.38 435.82L128.64 436.89L127.7 436.32L126.76 436.89L127.02 435.82L126.18 435.11L127.28 435.02ZM131.35 434L131.77 435.02L132.87 435.11L132.03 435.82L132.29 436.89L131.35 436.32L130.41 436.89L130.67 435.82L129.83 435.11L130.93 435.02ZM97.62 451.2L98.05 452.22L99.15 452.31L98.31 453.02L98.57 454.09L97.62 453.52L96.68 454.09L96.94 453.02L96.1 452.31L97.2 452.22ZM101.28 451.2L101.7 452.22L102.8 452.31L101.96 453.02L102.22 454.09L101.28 453.52L100.33 454.09L100.59 453.02L99.75 452.31L100.85 452.22ZM104.93 451.2L105.35 452.22L106.45 452.31L105.61 453.02L105.87 454.09L104.93 453.52L103.98 454.09L104.24 453.02L103.4 452.31L104.5 452.22ZM88.03 477.7L88.45 478.72L89.55 478.81L88.71 479.52L88.97 480.59L88.03 480.02L87.08 480.59L87.34 479.52L86.5 478.81L87.6 478.72ZM110.8 468.9L111.22 469.92L112.32 470.01L111.48 470.72L111.74 471.79L110.8 471.22L109.86 471.79L110.12 470.72L109.28 470.01L110.38 469.92ZM114.45 468.9L114.87 469.92L115.97 470.01L115.13 470.72L115.39 471.79L114.45 471.22L113.51 471.79L113.77 470.72L112.93 470.01L114.03 469.92ZM118.1 468.9L118.52 469.92L119.62 470.01L118.78 470.72L119.04 471.79L118.1 471.22L117.16 471.79L117.42 470.72L116.58 470.01L117.68 469.92Z" fill="#231f20"/>
<path d="M57.4 462.6V594.5H251.8" stroke="#231f20" stroke-width="1.15" fill="none"/>
<text x="51.8" y="597.4" font-size="8.1" text-anchor="end" fill="#231f20" stroke="#231f20" stroke-width="0.15">0</text>
<text x="51.8" y="564.82" font-size="8.1" text-anchor="end" fill="#231f20" stroke="#231f20" stroke-width="0.15">25</text>
<text x="51.8" y="532.25" font-size="8.1" text-anchor="end" fill="#231f20" stroke="#231f20" stroke-width="0.15">50</text>
<text x="51.8" y="499.67" font-size="8.1" text-anchor="end" fill="#231f20" stroke="#231f20" stroke-width="0.15">75</text>
<text x="51.8" y="467.1" font-size="8.1" text-anchor="end" fill="#231f20" stroke="#231f20" stroke-width="0.15">100</text>
<path d="M57.4 594.5h-3.3M57.4 561.92h-3.3M57.4 529.35h-3.3M57.4 496.77h-3.3M57.4 464.2h-3.3M74.85 594.5v3M101.2 594.5v3M127.7 594.5v3M154.2 594.5v3M180.6 594.5v3M206.9 594.5v3M233.6 594.5v3" stroke="#231f20" stroke-width="1.1" fill="none"/>
<path d="M220.4 465.2V594" stroke="#231f20" stroke-width="1" stroke-dasharray="3 2" fill="none"/>
<text x="71.3" y="606.8" font-size="8.6" text-anchor="middle" fill="#231f20" stroke="#231f20" stroke-width="0.18" textLength="26.8" lengthAdjust="spacingAndGlyphs">Inactive</text>
<text x="71.3" y="616.2" font-size="8.6" text-anchor="middle" fill="#231f20" stroke="#231f20" stroke-width="0.18" textLength="14.4" lengthAdjust="spacingAndGlyphs">sJIA</text>
<text x="101.2" y="606.8" font-size="8.6" text-anchor="middle" fill="#231f20" stroke="#231f20" stroke-width="0.18" textLength="21.3" lengthAdjust="spacingAndGlyphs">Active</text>
<text x="101.2" y="616.2" font-size="8.6" text-anchor="middle" fill="#231f20" stroke="#231f20" stroke-width="0.18" textLength="14.4" lengthAdjust="spacingAndGlyphs">sJIA</text>
<text x="127.7" y="606.8" font-size="8.6" text-anchor="middle" fill="#231f20" stroke="#231f20" stroke-width="0.18" textLength="16.4" lengthAdjust="spacingAndGlyphs">MAS</text>
<text x="154.2" y="606.8" font-size="8.6" text-anchor="middle" fill="#231f20" stroke="#231f20" stroke-width="0.18" textLength="20.5" lengthAdjust="spacingAndGlyphs">iaHLH</text>
<text x="180.6" y="606.8" font-size="8.6" text-anchor="middle" fill="#231f20" stroke="#231f20" stroke-width="0.18" textLength="18.8" lengthAdjust="spacingAndGlyphs">Other</text>
<text x="180.6" y="616.2" font-size="8.6" text-anchor="middle" fill="#231f20" stroke="#231f20" stroke-width="0.18" textLength="18.5" lengthAdjust="spacingAndGlyphs">sHLH</text>
<text x="206.9" y="606.8" font-size="8.6" text-anchor="middle" fill="#231f20" stroke="#231f20" stroke-width="0.18" textLength="9" lengthAdjust="spacingAndGlyphs">All</text>
<text x="206.9" y="616.2" font-size="8.6" text-anchor="middle" fill="#231f20" stroke="#231f20" stroke-width="0.18" textLength="18.5" lengthAdjust="spacingAndGlyphs">sHLH</text>
<text x="233.6" y="606.8" font-size="8.6" text-anchor="middle" fill="#231f20" stroke="#231f20" stroke-width="0.18" textLength="12.5" lengthAdjust="spacingAndGlyphs">BM</text>
<text x="233.6" y="616.2" font-size="8.6" text-anchor="middle" fill="#231f20" stroke="#231f20" stroke-width="0.18" textLength="18.5" lengthAdjust="spacingAndGlyphs">pHLH</text>
<text transform="translate(21.3 563.7) rotate(-90)" font-size="8.8" fill="#231f20" stroke="#231f20" stroke-width="0.25" textLength="69.3" lengthAdjust="spacingAndGlyphs">% CD38<tspan dy="-3" font-size="6.2">high</tspan><tspan dy="3">/HLA-DR</tspan><tspan dy="-3" font-size="6.6">+</tspan></text>
<text transform="translate(32.4 566.1) rotate(-90)" font-size="8.8" fill="#231f20" stroke="#231f20" stroke-width="0.25" textLength="75" lengthAdjust="spacingAndGlyphs">(gated on CD3<tspan dy="-3" font-size="6.6">+</tspan><tspan dy="3">CD8</tspan><tspan dy="-3" font-size="6.6">+</tspan><tspan dy="3">)</tspan></text>
<path d="M74.85 571.6V594.4M101.2 548.7V594.4M127.7 500.2V578M154.2 479.5V562.3M180.6 471V591.7M206.9 470.9V591.7M70.85 571.6h8M97.2 548.7h8M123.7 500.2h8M123.7 578h8M150.2 479.5h8M150.2 562.3h8M176.6 471h8M176.6 591.7h8M202.9 470.9h8M202.9 591.7h8" stroke="#4a4a4a" stroke-width="1.3" fill="none"/>
<path d="M118.9 552.1h17.6M145.3 515.4h17.8M171.8 518h17.6M198.1 529.5h17.6M224.8 480.2h17.6" stroke="#111" stroke-width="1.4" fill="none"/>
<path d="M74.85 571.6h0M74.85 586.3h0M74.85 588.4h0M67.35 592.6h0M68.85 592.6h0M70.35 592.6h0M71.85 592.6h0M73.35 592.6h0M74.85 592.6h0M76.35 592.6h0M77.85 592.6h0M79.35 592.6h0M80.85 592.6h0M82.65 592.6h0M69.85 591.5h0M76.85 591.2h0M72.85 590.8h0M80.35 591.6h0M101.2 548.7h0M100.6 569.8h0M102.3 570.4h0M101.2 575.9h0M100.6 579.8h0M97.2 583.7h0M103.5 582.5h0M105.2 585h0M99.2 586.5h0M102.2 587h0M106.7 587.5h0M94.7 588h0M97.7 589h0M104.2 589.5h0M108.2 590h0M95.7 590.5h0M101.2 590.5h0M99.7 592h0M105.7 592h0M93.7 592.5h0M109.2 593h0M97.2 593h0M102.7 593.2h0M95.2 586h0M107.7 593.4h0M100.2 588.8h0M103.7 591h0M124 500h0M131.3 501.5h0M127.7 508.5h0M127.7 525h0M127.7 533.7h0M127.7 541.3h0M127.7 549h0M124 556.1h0M131.3 555.8h0M127.7 564h0M120.5 570.1h0M134.8 571.5h0M127.7 573.3h0M127.7 578h0M154.2 479.6h0M154.2 488.8h0M150.7 515.4h0M157.5 515.4h0M154.2 521.4h0M154.2 558.2h0M154.2 562.2h0M180.6 471h0M180.6 500.2h0M180.6 501h0M177.2 504.8h0M183.8 506.2h0M180.6 517.9h0M180.6 525.2h0M180.6 526.2h0M180.6 549.2h0M180.6 550.2h0M180.6 580.5h0M180.6 591.7h0M206.9 470.9h0M206.9 479.6h0M206.9 488.6h0M199.5 499.8h0M206.9 501.4h0M214.3 499.9h0M214.3 500.9h0M206.9 504.8h0M214.3 506.1h0M206.9 508.8h0M199.5 515.3h0M214.3 515.3h0M206.9 517.6h0M206.9 521h0M203.4 524.7h0M210.6 525.2h0M210.6 526.2h0M206.9 533.6h0M206.9 541.4h0M206.9 549.2h0M206.9 550.2h0M214.3 549h0M206.9 556.6h0M214.3 555.9h0M199.6 558.5h0M210.6 562.4h0M203.2 564h0M199.6 570.1h0M206.9 573.5h0M214.3 571.6h0M214.3 578.2h0M206.9 580.5h0M206.9 591.7h0M233.6 469.2h0M233.6 480.3h0M233.6 491.8h0" stroke="#c8102e" stroke-width="3.9" stroke-linecap="round" fill="none"/>
<text x="278.6" y="353.8" font-size="11.4" font-weight="bold" textLength="7.9" lengthAdjust="spacingAndGlyphs" fill="#000">C</text>
<text x="323.8" y="389.4" font-size="9.4" fill="#231f20" textLength="138.5" lengthAdjust="spacingAndGlyphs">CD38<tspan dy="-3.6" font-size="6.6">high</tspan><tspan dy="3.6">/HLA-DR</tspan><tspan dy="-3.6" font-size="6.6">+</tspan><tspan dy="3.6"> CD8</tspan><tspan dy="-3.6" font-size="6.6">+</tspan><tspan dy="3.6"> T cells</tspan></text>
<path d="M319.5 396.6V594.6H465.2" stroke="#231f20" stroke-width="1.1" fill="none"/>
<text x="312.9" y="596.9" font-size="8.1" text-anchor="end" fill="#231f20" stroke="#231f20" stroke-width="0.15">0</text>
<text x="319.5" y="607" font-size="8.3" text-anchor="middle" fill="#231f20" stroke="#231f20" stroke-width="0.15">0</text>
<text x="312.9" y="558.18" font-size="8.1" text-anchor="end" fill="#231f20" stroke="#231f20" stroke-width="0.15">20</text>
<text x="348.38" y="607" font-size="8.3" text-anchor="middle" fill="#231f20" stroke="#231f20" stroke-width="0.15">20</text>
<text x="312.9" y="519.46" font-size="8.1" text-anchor="end" fill="#231f20" stroke="#231f20" stroke-width="0.15">40</text>
<text x="377.26" y="607" font-size="8.3" text-anchor="middle" fill="#231f20" stroke="#231f20" stroke-width="0.15">40</text>
<text x="312.9" y="480.74" font-size="8.1" text-anchor="end" fill="#231f20" stroke="#231f20" stroke-width="0.15">60</text>
<text x="406.14" y="607" font-size="8.3" text-anchor="middle" fill="#231f20" stroke="#231f20" stroke-width="0.15">60</text>
<text x="312.9" y="442.02" font-size="8.1" text-anchor="end" fill="#231f20" stroke="#231f20" stroke-width="0.15">80</text>
<text x="435.02" y="607" font-size="8.3" text-anchor="middle" fill="#231f20" stroke="#231f20" stroke-width="0.15">80</text>
<text x="312.9" y="403.3" font-size="8.1" text-anchor="end" fill="#231f20" stroke="#231f20" stroke-width="0.15">100</text>
<text x="463.9" y="607" font-size="8.3" text-anchor="middle" fill="#231f20" stroke="#231f20" stroke-width="0.15">100</text>
<path d="M319.5 594.6h-3.2M319.5 594.6v3M319.5 555.88h-3.2M348.38 594.6v3M319.5 517.16h-3.2M377.26 594.6v3M319.5 478.44h-3.2M406.14 594.6v3M319.5 439.72h-3.2M435.02 594.6v3M319.5 401h-3.2M463.9 594.6v3" stroke="#231f20" stroke-width="1.1" fill="none"/>
<path d="M319.5 594.6L463.9 401" stroke="#111" stroke-width="1.15" stroke-dasharray="3.2 2.2" fill="none"/>
<path d="M319.5 594.6h0M319.5 588.15h0M319.5 581.69h0M319.5 575.24h0M319.5 568.79h0M319.5 562.33h0M319.5 555.88h0M319.5 549.43h0M319.5 542.97h0M319.5 536.52h0M319.5 530.07h0M319.5 523.61h0M319.5 517.16h0M319.5 510.71h0M319.5 504.25h0M319.5 497.8h0M319.5 491.35h0M319.5 484.89h0M324.85 478.44h0M324.85 471.99h0M324.85 465.53h0M324.85 459.08h0M324.85 452.63h0M324.85 446.17h0M324.85 439.72h0M330.2 439.72h0M330.2 433.27h0M335.54 433.27h0M335.54 426.81h0M335.54 420.36h0M340.89 420.36h0M340.89 413.91h0M346.24 413.91h0M346.24 407.45h0M351.59 407.45h0M356.94 407.45h0M362.29 407.45h0M367.63 407.45h0M372.98 407.45h0M378.33 407.45h0M383.68 407.45h0M389.03 407.45h0M394.37 407.45h0M399.72 407.45h0M405.07 407.45h0M410.42 407.45h0M415.77 407.45h0M426.46 407.45h0M431.81 407.45h0M431.81 401h0M437.16 401h0M442.51 401h0M447.86 401h0M458.55 401h0M463.9 401h0" stroke="#dc4d69" stroke-width="5.3" stroke-linecap="round" fill="none"/>
<path d="M319.5 594.6L319.5 484.89L324.85 478.44L324.85 439.72L330.2 439.72L330.2 433.27L335.54 433.27L335.54 420.36L340.89 420.36L340.89 413.91L346.24 413.91L346.24 407.45L431.81 407.45L431.81 401L463.9 401" stroke="#000" stroke-width="1.35" fill="none"/>
<text x="352.1" y="434.2" font-size="8.1" textLength="34.6" lengthAdjust="spacingAndGlyphs" fill="#231f20">AUC=0.94</text>
<text x="352.1" y="442.8" font-size="8.1" textLength="27" lengthAdjust="spacingAndGlyphs" fill="#231f20">p&lt;0.001</text>
<text x="368.5" y="562" font-size="8.3" textLength="100" lengthAdjust="spacingAndGlyphs" fill="#231f20" stroke="#231f20" stroke-width="0.2">Optimal cut-off value &gt;10.15%</text>
<text x="368.5" y="570.4" font-size="8.3" textLength="58.5" lengthAdjust="spacingAndGlyphs" fill="#231f20" stroke="#231f20" stroke-width="0.2">Sensitivity=96.7%</text>
<text x="368.5" y="578.7" font-size="8.3" textLength="58.5" lengthAdjust="spacingAndGlyphs" fill="#231f20" stroke="#231f20" stroke-width="0.2">Specificity=81.5%</text>
<text transform="translate(294.9 515.6) rotate(-90)" font-size="9.2" fill="#231f20" stroke="#231f20" stroke-width="0.2" textLength="40" lengthAdjust="spacingAndGlyphs">Sensitivity%</text>
<text x="360.8" y="619.6" font-size="9" fill="#231f20" stroke="#231f20" stroke-width="0.2" textLength="65.4" lengthAdjust="spacingAndGlyphs">100% – specificity%</text>
<rect x="0.5" y="0.5" width="519" height="627" fill="none" stroke="#000" stroke-width="1.2"/>
</svg></body></html>
